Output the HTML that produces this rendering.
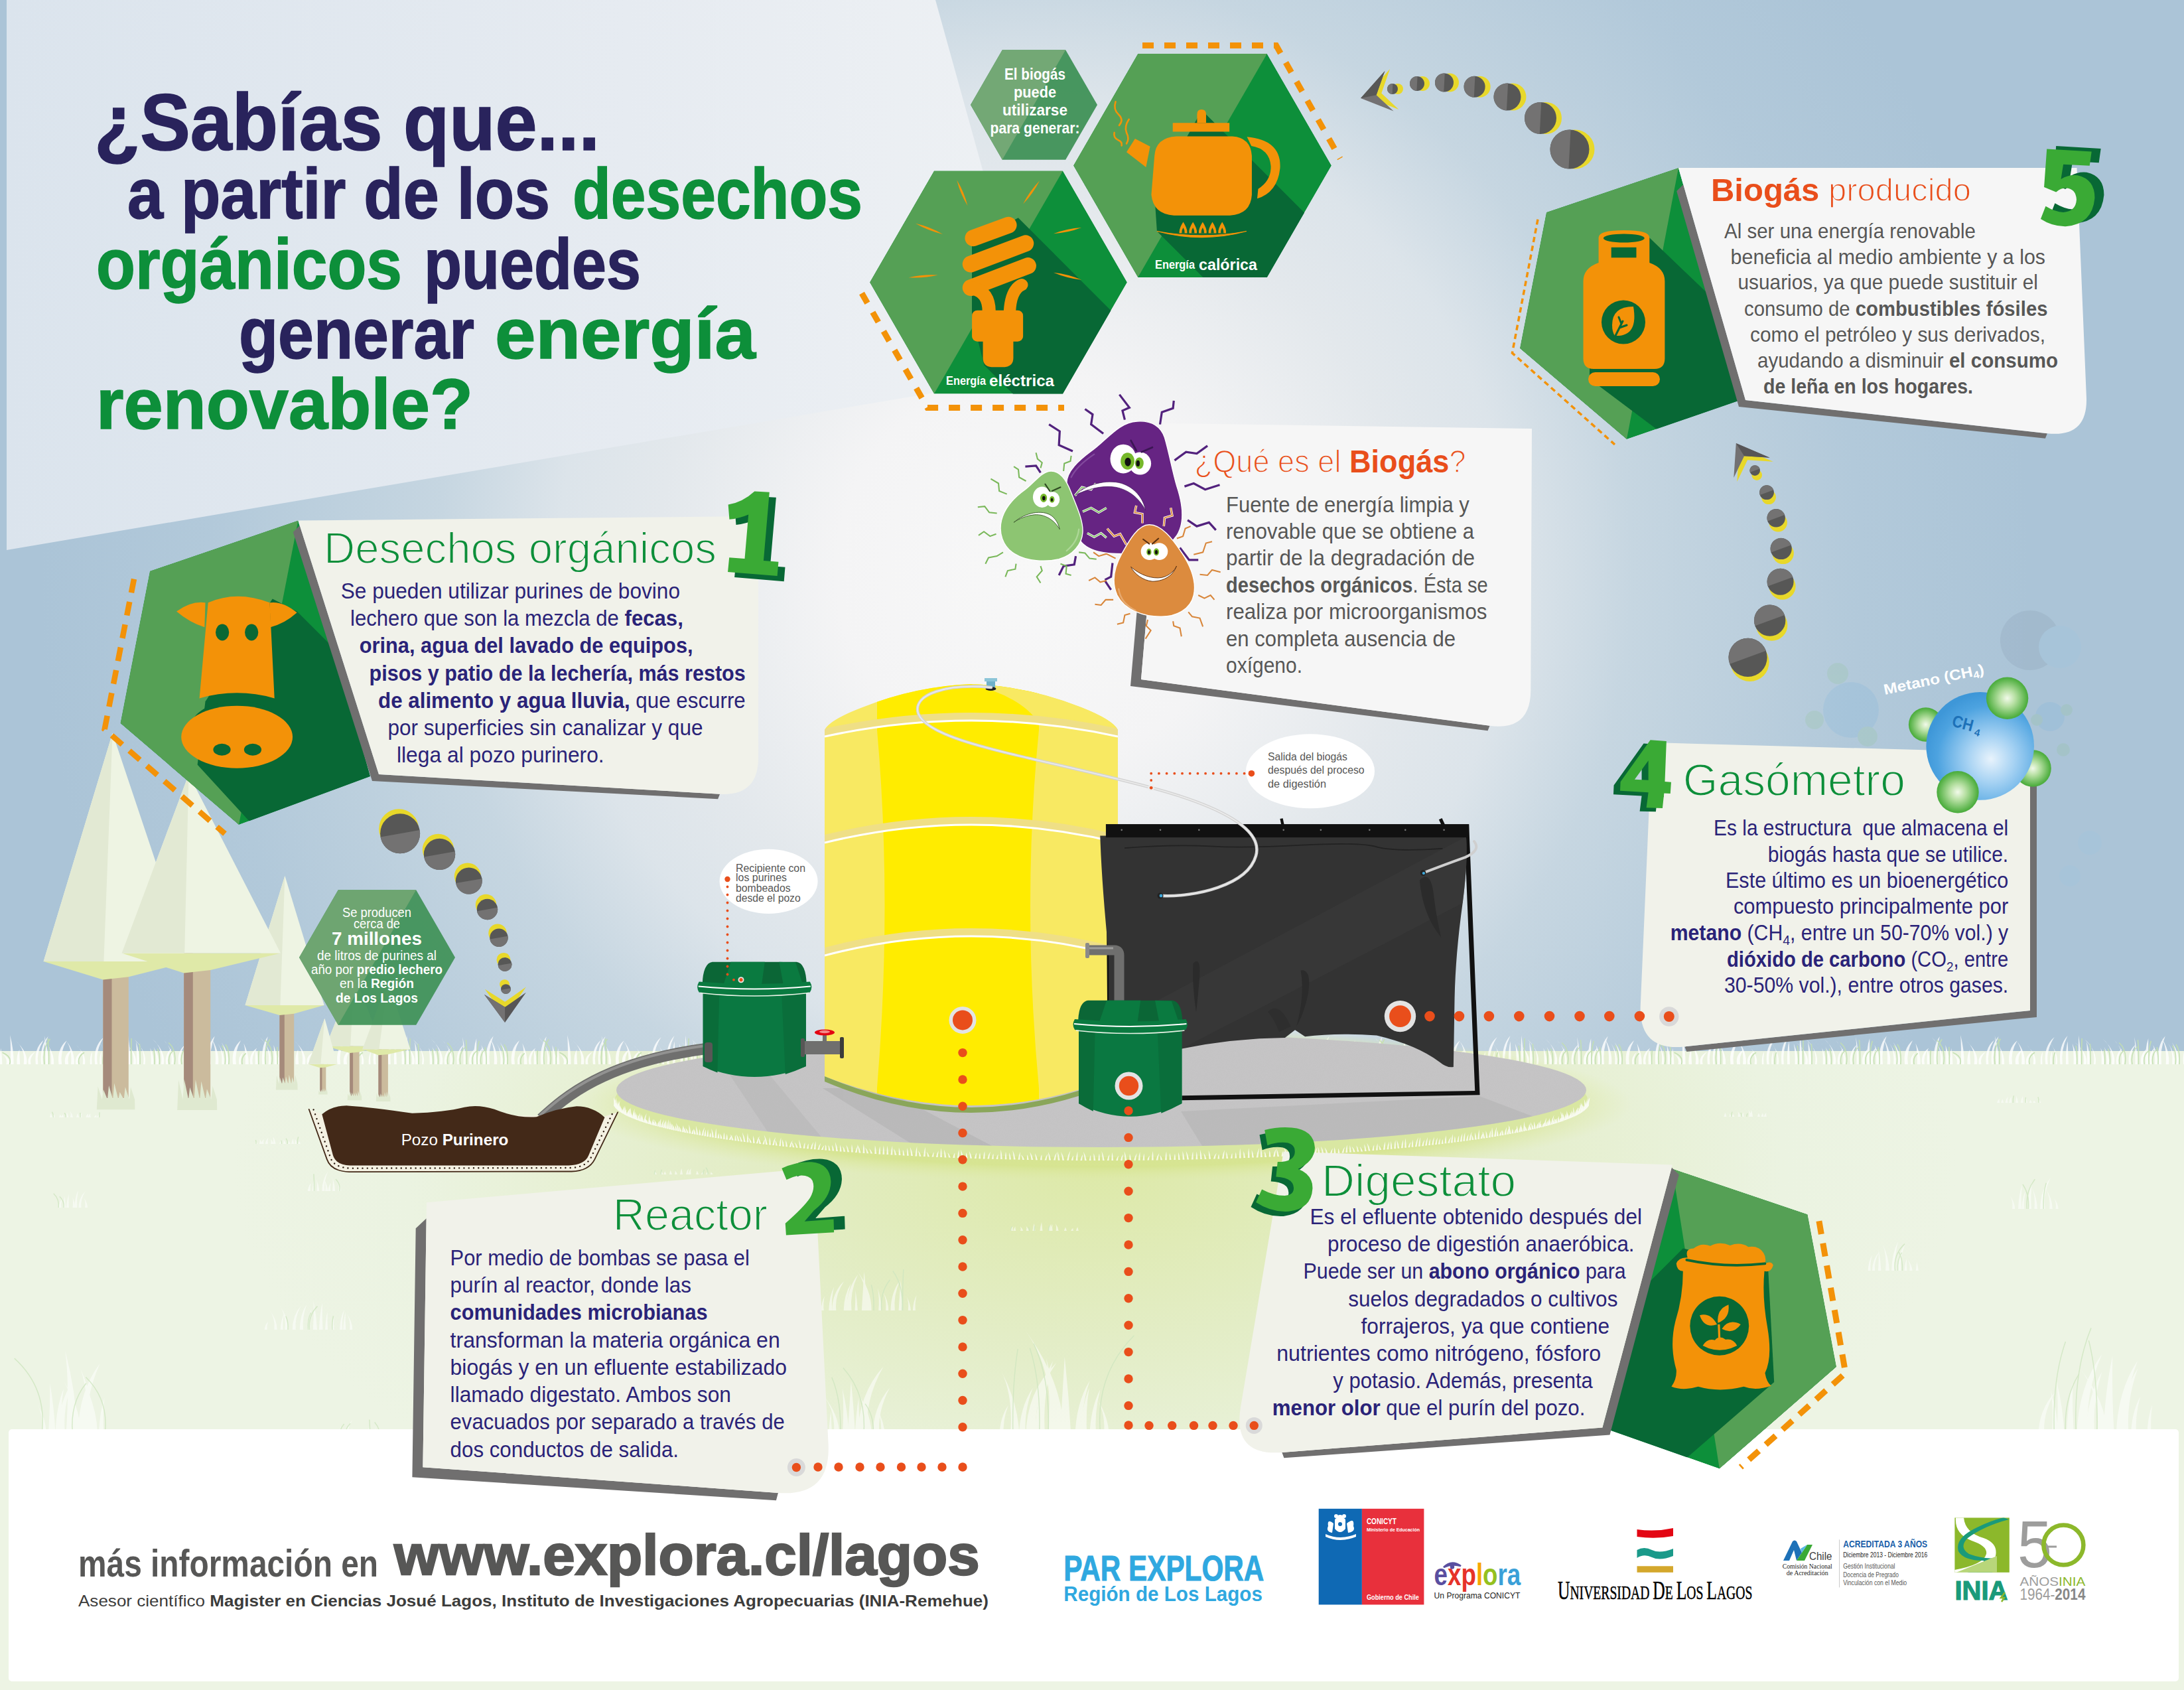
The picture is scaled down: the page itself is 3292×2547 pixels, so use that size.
<!DOCTYPE html>
<html><head><meta charset="utf-8"><title>Biogas</title>
<style>html,body{margin:0;padding:0;background:#abc4d7;}body{width:3292px;height:2547px;overflow:hidden;font-family:"Liberation Sans",sans-serif;}svg{display:block;}text{white-space:pre;}</style>
</head><body>
<svg width="3292" height="2547" viewBox="0 0 3292 2547">
<defs>
<radialGradient id="sky" gradientUnits="userSpaceOnUse" cx="1560" cy="860" r="1500">
<stop offset="0" stop-color="#f8f8f8"/><stop offset="0.2" stop-color="#f4f4f5"/><stop offset="0.38" stop-color="#e3e8ec"/><stop offset="0.48" stop-color="#dce4ea"/><stop offset="0.6" stop-color="#c6d6e1"/><stop offset="0.83" stop-color="#b2c9da"/><stop offset="1" stop-color="#abc4d7"/></radialGradient>
<radialGradient id="gglow" gradientUnits="userSpaceOnUse" cx="1650" cy="1760" r="1300" gradientTransform="translate(0,880) scale(1,0.5)">
<stop offset="0" stop-color="#dde9a8"/><stop offset="0.4" stop-color="#e3edc6"/><stop offset="0.8" stop-color="#ebf3e1"/><stop offset="1" stop-color="#edf4e4"/></radialGradient>
<linearGradient id="panel" x1="0" y1="0" x2="1" y2="0"><stop offset="0" stop-color="#dbe4ed"/><stop offset="0.6" stop-color="#e6ebf1"/><stop offset="1" stop-color="#eef1f4"/></linearGradient>
<clipPath id="hx1"><polygon points="1311.0,425.5 1408.0,257.5 1602.0,257.5 1699.0,425.5 1602.0,593.5 1408.0,593.5"/></clipPath>
<clipPath id="hx2"><polygon points="1618.0,249.5 1715.2,81.1 1909.8,81.1 2007.0,249.5 1909.8,417.9 1715.2,417.9"/></clipPath>
<clipPath id="h5"><polygon points="2530.0,253.0 2331.0,320.0 2291.0,525.0 2452.0,662.0 2629.0,601.0"/></clipPath>
<pattern id="fringe" x="0" y="1554" width="420" height="50" patternUnits="userSpaceOnUse"><g fill="#ffffff" opacity="0.8"><path d="M0.0,50 Q-0.3,34.3 1.2,25.8 Q3.1,37.9 3.4,50 Z"/><path d="M9.4,50 Q12.8,37.2 -4.3,30.3 Q17.4,40.1 14.0,50 Z"/><path d="M16.0,50 Q16.2,21.5 15.2,6.1 Q20.8,28.1 20.6,50 Z"/><path d="M25.5,50 Q24.5,35.8 29.3,28.1 Q29.2,39.0 30.2,50 Z"/><path d="M35.7,50 Q38.7,27.0 23.5,14.5 Q43.1,32.3 40.1,50 Z"/><path d="M42.8,50 Q40.2,37.8 53.0,31.2 Q43.9,40.6 46.5,50 Z"/><path d="M53.9,50 Q51.0,26.2 65.7,13.4 Q54.5,31.7 57.4,50 Z"/><path d="M62.1,50 Q59.4,22.5 72.7,7.7 Q62.1,28.8 64.8,50 Z"/><path d="M68.6,50 Q69.0,22.0 66.8,6.9 Q73.1,28.4 72.6,50 Z"/><path d="M77.1,50 Q78.2,31.8 73.0,22.0 Q82.1,36.0 81.1,50 Z"/><path d="M88.5,50 Q85.5,26.8 100.5,14.3 Q90.1,32.1 93.1,50 Z"/><path d="M98.2,50 Q95.6,35.5 108.3,27.8 Q100.5,38.9 103.1,50 Z"/><path d="M107.1,50 Q109.2,26.2 99.0,13.4 Q113.7,31.7 111.7,50 Z"/><path d="M114.1,50 Q111.7,37.2 124.0,30.4 Q116.6,40.2 119.1,50 Z"/><path d="M124.7,50 Q127.2,31.4 115.0,21.3 Q130.4,35.7 128.0,50 Z"/><path d="M135.8,50 Q135.0,37.6 139.1,30.9 Q137.7,40.4 138.5,50 Z"/><path d="M143.2,50 Q139.8,23.4 156.6,9.1 Q143.6,29.5 146.9,50 Z"/><path d="M150.3,50 Q149.6,37.0 153.1,30.0 Q152.2,40.0 152.9,50 Z"/><path d="M158.2,50 Q160.6,28.0 148.6,16.1 Q163.2,33.1 160.8,50 Z"/><path d="M165.4,50 Q162.6,22.1 176.5,7.1 Q166.1,28.5 168.8,50 Z"/><path d="M174.0,50 Q173.4,27.4 176.7,15.3 Q177.3,32.6 177.9,50 Z"/><path d="M185.6,50 Q186.1,29.7 183.7,18.8 Q190.4,34.4 189.9,50 Z"/><path d="M192.7,50 Q192.6,21.8 193.3,6.6 Q196.4,28.3 196.6,50 Z"/><path d="M200.6,50 Q204.0,28.5 187.2,16.9 Q208.0,33.5 204.7,50 Z"/><path d="M206.0,50 Q206.3,27.7 205.1,15.7 Q210.5,32.8 210.2,50 Z"/><path d="M216.0,50 Q219.3,25.8 202.6,12.8 Q222.0,31.4 218.6,50 Z"/><path d="M227.7,50 Q228.0,34.1 226.5,25.5 Q232.0,37.7 231.7,50 Z"/><path d="M235.3,50 Q236.2,33.0 231.6,23.9 Q240.2,36.9 239.3,50 Z"/><path d="M242.9,50 Q246.2,25.2 229.7,11.9 Q250.2,31.0 246.8,50 Z"/><path d="M250.1,50 Q248.0,34.5 258.6,26.2 Q251.1,38.1 253.2,50 Z"/><path d="M258.1,50 Q260.9,26.5 247.0,13.9 Q264.2,31.9 261.4,50 Z"/><path d="M269.0,50 Q266.5,30.9 278.9,20.6 Q269.4,35.3 271.9,50 Z"/><path d="M278.5,50 Q278.9,23.3 277.2,9.0 Q281.9,29.5 281.6,50 Z"/><path d="M287.2,50 Q285.1,35.1 295.8,27.0 Q289.7,38.5 291.8,50 Z"/><path d="M294.2,50 Q293.2,24.7 298.2,11.0 Q297.7,30.5 298.7,50 Z"/><path d="M300.1,50 Q298.0,33.4 308.3,24.4 Q301.2,37.2 303.3,50 Z"/><path d="M308.0,50 Q308.6,31.2 305.5,21.1 Q313.4,35.5 312.8,50 Z"/><path d="M313.0,50 Q310.4,22.4 323.7,7.5 Q315.3,28.7 318.0,50 Z"/><path d="M324.7,50 Q326.6,22.6 316.9,7.9 Q331.0,28.9 329.1,50 Z"/><path d="M334.3,50 Q335.8,29.5 328.4,18.5 Q339.2,34.3 337.7,50 Z"/><path d="M339.8,50 Q341.3,28.4 333.8,16.7 Q345.8,33.3 344.3,50 Z"/><path d="M351.1,50 Q348.2,26.6 363.0,14.0 Q352.9,32.0 355.9,50 Z"/><path d="M360.2,50 Q358.5,38.1 367.0,31.7 Q361.4,40.8 363.1,50 Z"/><path d="M369.8,50 Q370.4,29.4 367.4,18.4 Q375.3,34.2 374.7,50 Z"/><path d="M377.2,50 Q374.7,34.0 387.3,25.4 Q378.4,37.7 380.9,50 Z"/><path d="M384.7,50 Q384.4,35.0 385.6,26.9 Q389.0,38.4 389.2,50 Z"/><path d="M395.2,50 Q393.1,22.7 403.8,8.0 Q397.6,29.0 399.8,50 Z"/><path d="M404.6,50 Q407.8,23.7 392.0,9.6 Q410.9,29.8 407.8,50 Z"/><path d="M413.3,50 Q413.5,31.2 412.5,21.0 Q417.9,35.5 417.7,50 Z"/><path d="M418.7,50 Q421.3,36.2 408.2,28.7 Q424.0,39.4 421.4,50 Z"/></g><g fill="none" stroke="#c2dfb0" stroke-width="1.6" opacity="0.9"><path d="M14.4,50 Q18.5,38.2 3.5,32.3"/><path d="M67.1,50 Q63.9,24.6 75.5,11.9"/><path d="M73.6,50 Q74.1,24.1 72.1,11.2"/><path d="M119.1,50 Q116.2,38.2 127.1,32.3"/><path d="M155.3,50 Q154.5,38.0 157.6,32.0"/><path d="M190.6,50 Q191.2,31.3 189.1,21.9"/><path d="M197.7,50 Q197.5,23.9 198.2,10.9"/><path d="M211.0,50 Q211.3,29.4 210.3,19.1"/><path d="M232.7,50 Q233.1,35.3 231.8,27.9"/><path d="M240.3,50 Q241.4,34.3 237.4,26.5"/><path d="M255.1,50 Q252.5,35.7 261.9,28.6"/><path d="M263.1,50 Q266.5,28.3 254.2,17.5"/><path d="M274.0,50 Q271.0,32.4 281.9,23.5"/><path d="M283.5,50 Q283.9,25.4 282.4,13.1"/><path d="M292.2,50 Q289.7,36.2 299.1,29.3"/><path d="M299.2,50 Q298.0,26.6 302.4,14.9"/><path d="M305.1,50 Q302.6,34.6 311.7,27.0"/><path d="M313.0,50 Q313.8,32.7 311.0,24.0"/><path d="M339.3,50 Q341.1,31.1 334.6,21.7"/><path d="M344.8,50 Q346.6,30.0 340.0,20.0"/><path d="M365.2,50 Q363.1,39.0 370.7,33.5"/><path d="M389.7,50 Q389.4,36.1 390.4,29.2"/><path d="M400.2,50 Q397.6,24.8 407.1,12.2"/><path d="M409.6,50 Q413.4,25.7 399.5,13.6"/><path d="M418.3,50 Q418.5,32.6 417.7,23.9"/></g></pattern>
<clipPath id="h1"><polygon points="449.4,784.5 226.0,860.7 181.5,1090.0 360.0,1243.0 558.0,1170.0"/></clipPath>
<radialGradient id="platglow" cx="0.5" cy="0.5" r="0.5"><stop offset="0.8" stop-color="#d6e48f" stop-opacity="0.9"/><stop offset="1" stop-color="#dfeaa8" stop-opacity="0"/></radialGradient>
<filter id="grain" x="0" y="0" width="100%" height="100%"><feTurbulence type="fractalNoise" baseFrequency="0.9" numOctaves="1" seed="2" result="n"/><feColorMatrix type="matrix" values="0 0 0 0 0.45  0 0 0 0 0.45  0 0 0 0 0.45  0.5 0 0 0 -0.12" /><feComposite operator="in" in2="SourceGraphic"/></filter>
<clipPath id="platc"><ellipse cx="1660" cy="1643" rx="731" ry="86"/></clipPath>
<linearGradient id="tankg" x1="0" y1="0" x2="1" y2="0"><stop offset="0" stop-color="#f7e96a"/><stop offset="0.17" stop-color="#f9ea5e"/><stop offset="0.2" stop-color="#ffec00"/><stop offset="0.72" stop-color="#ffec00"/><stop offset="0.75" stop-color="#f9ea5e"/><stop offset="1" stop-color="#f7e96a"/></linearGradient>
<clipPath id="tankc"><path d="M1243,1100 Q1250,1085 1300,1066 Q1380,1034 1464,1031 Q1550,1034 1630,1066 Q1678,1085 1685,1100 L1685,1622 Q1464,1710 1243,1622 Z"/></clipPath>
<clipPath id="h3"><polygon points="2520.8,1761.5 2724.5,1830.2 2768.0,2060.0 2591.8,2213.4 2415.5,2151.6"/></clipPath>
<radialGradient id="bsph" cx="0.6" cy="0.62" r="0.62"><stop offset="0" stop-color="#e8f3fc"/><stop offset="0.35" stop-color="#a6d2f3"/><stop offset="0.8" stop-color="#4da3e0"/><stop offset="1" stop-color="#3e97d8"/></radialGradient>
<radialGradient id="gsph" cx="0.5" cy="0.5" r="0.55"><stop offset="0" stop-color="#f2faea"/><stop offset="0.35" stop-color="#b7e0a3"/><stop offset="0.85" stop-color="#52b043"/><stop offset="1" stop-color="#3fa535"/></radialGradient>
<clipPath id="inia"><rect x="2946.4" y="2287.4" width="82.4" height="82.4"/></clipPath>
</defs>
<rect x="0.0" y="0.0" width="3292.0" height="2547.0" fill="url(#sky)" />
<polygon points="10.0,0.0 1410.0,0.0 1567.0,565.0 10.0,829.0" fill="url(#panel)" />
<rect x="0.0" y="1584.0" width="3292.0" height="963.0" fill="url(#gglow)" />
<g fill="#ffffff" opacity="0.55">
<path d="M88.5,1820.0 Q89.0,1811.5 94.7,1805.8 Q91.2,1812.9 92.5,1820.0 Z" fill="#fff" />
<path d="M95.0,1820.0 Q95.9,1809.9 98.0,1803.1 Q98.1,1811.6 99.0,1820.0 Z" fill="#fff" />
<path d="M99.9,1820.0 Q100.8,1808.4 103.7,1800.6 Q103.0,1810.3 103.9,1820.0 Z" fill="#fff" />
<path d="M109.5,1820.0 Q110.7,1810.7 109.4,1804.5 Q112.9,1812.2 113.5,1820.0 Z" fill="#fff" />
<path d="M112.3,1820.0 Q113.0,1804.4 117.8,1794.0 Q115.2,1807.0 116.3,1820.0 Z" fill="#fff" />
<path d="M118.5,1820.0 Q118.7,1805.2 128.5,1795.4 Q120.9,1807.7 122.5,1820.0 Z" fill="#fff" />
<path d="M128.1,1820.0 Q129.4,1811.3 126.6,1805.5 Q131.6,1812.8 132.1,1820.0 Z" fill="#fff" />
</g>
<g fill="none" stroke="#cfe6c0" stroke-width="1.5" opacity="0.8">
<path d="M88.2,1820.0 Q89.7,1807.2 80.7,1798.7" fill="none" />
<path d="M96.1,1820.0 Q97.3,1810.0 89.8,1803.3" fill="none" />
</g>
<g fill="#ffffff" opacity="0.55">
<path d="M463.9,1795.0 Q464.7,1787.8 468.8,1783.0 Q466.9,1789.0 467.9,1795.0 Z" fill="#fff" />
<path d="M470.5,1795.0 Q471.5,1784.9 472.5,1778.1 Q473.7,1786.6 474.5,1795.0 Z" fill="#fff" />
<path d="M477.4,1795.0 Q478.7,1784.5 476.7,1777.4 Q480.9,1786.2 481.4,1795.0 Z" fill="#fff" />
<path d="M485.3,1795.0 Q485.6,1777.3 494.4,1765.4 Q487.9,1780.2 489.4,1795.0 Z" fill="#fff" />
<path d="M490.2,1795.0 Q491.5,1784.7 488.9,1777.8 Q493.7,1786.4 494.2,1795.0 Z" fill="#fff" />
<path d="M494.3,1795.0 Q495.1,1787.6 498.6,1782.7 Q497.3,1788.8 498.3,1795.0 Z" fill="#fff" />
<path d="M501.1,1795.0 Q502.3,1783.3 501.6,1775.5 Q504.5,1785.3 505.1,1795.0 Z" fill="#fff" />
<path d="M510.2,1795.0 Q511.7,1786.2 507.0,1780.3 Q513.9,1787.6 514.2,1795.0 Z" fill="#fff" />
</g>
<g fill="none" stroke="#cfe6c0" stroke-width="1.5" opacity="0.8">
<path d="M473.5,1795.0 Q473.6,1779.6 472.9,1769.3" fill="none" />
<path d="M512.0,1795.0 Q513.2,1784.2 505.9,1777.0" fill="none" />
</g>
<g fill="#ffffff" opacity="0.55">
<path d="M75.0,1684.0 Q76.1,1680.5 76.1,1678.1 Q78.3,1681.0 79.0,1684.0 Z" fill="#fff" />
<path d="M78.8,1684.0 Q79.6,1681.2 82.3,1679.4 Q81.8,1681.7 82.8,1684.0 Z" fill="#fff" />
<path d="M89.0,1684.0 Q90.1,1681.3 90.2,1679.5 Q92.3,1681.7 93.0,1684.0 Z" fill="#fff" />
<path d="M92.2,1684.0 Q93.1,1681.3 95.1,1679.5 Q95.3,1681.8 96.2,1684.0 Z" fill="#fff" />
<path d="M99.3,1684.0 Q100.3,1679.3 101.0,1676.2 Q102.5,1680.1 103.3,1684.0 Z" fill="#fff" />
<path d="M106.0,1684.0 Q107.3,1678.2 105.5,1674.4 Q109.5,1679.2 110.0,1684.0 Z" fill="#fff" />
<path d="M115.1,1684.0 Q116.1,1680.5 116.8,1678.1 Q118.3,1681.1 119.1,1684.0 Z" fill="#fff" />
<path d="M119.5,1684.0 Q120.3,1680.1 123.6,1677.6 Q122.5,1680.8 123.5,1684.0 Z" fill="#fff" />
<path d="M129.3,1684.0 Q130.1,1680.5 132.8,1678.2 Q132.3,1681.1 133.3,1684.0 Z" fill="#fff" />
<path d="M132.8,1684.0 Q133.6,1680.5 136.2,1678.1 Q135.8,1681.1 136.8,1684.0 Z" fill="#fff" />
<path d="M141.8,1684.0 Q142.6,1681.7 145.1,1680.2 Q144.8,1682.1 145.8,1684.0 Z" fill="#fff" />
<path d="M146.1,1684.0 Q147.1,1681.6 148.9,1679.9 Q149.3,1682.0 150.1,1684.0 Z" fill="#fff" />
</g>
<g fill="none" stroke="#cfe6c0" stroke-width="1.5" opacity="0.8">
<path d="M99.3,1684.0 Q99.8,1680.1 97.1,1677.4" fill="none" />
<path d="M80.2,1684.0 Q80.6,1679.0 78.5,1675.7" fill="none" />
<path d="M121.1,1684.0 Q121.2,1679.8 120.8,1677.0" fill="none" />
<path d="M149.7,1684.0 Q149.6,1679.4 150.2,1676.3" fill="none" />
</g>
<g fill="#ffffff" opacity="0.55">
<path d="M384.5,1724.0 Q385.5,1721.7 385.5,1720.2 Q387.7,1722.1 388.5,1724.0 Z" fill="#fff" />
<path d="M390.9,1724.0 Q392.0,1719.7 391.7,1716.9 Q394.2,1720.4 394.9,1724.0 Z" fill="#fff" />
<path d="M393.6,1724.0 Q394.4,1719.7 397.8,1716.8 Q396.6,1720.4 397.6,1724.0 Z" fill="#fff" />
<path d="M399.9,1724.0 Q400.6,1718.6 404.3,1714.9 Q402.8,1719.5 403.9,1724.0 Z" fill="#fff" />
<path d="M408.1,1724.0 Q409.3,1719.7 408.1,1716.8 Q411.5,1720.4 412.1,1724.0 Z" fill="#fff" />
<path d="M411.6,1724.0 Q412.8,1717.4 411.6,1713.1 Q415.0,1718.5 415.6,1724.0 Z" fill="#fff" />
<path d="M421.1,1724.0 Q422.0,1720.0 424.7,1717.3 Q424.2,1720.6 425.1,1724.0 Z" fill="#fff" />
<path d="M426.9,1724.0 Q428.0,1720.2 427.4,1717.6 Q430.2,1720.8 430.9,1724.0 Z" fill="#fff" />
<path d="M433.7,1724.0 Q434.8,1721.3 434.9,1719.4 Q437.0,1721.7 437.7,1724.0 Z" fill="#fff" />
<path d="M439.2,1724.0 Q440.1,1719.3 441.8,1716.1 Q442.3,1720.1 443.2,1724.0 Z" fill="#fff" />
<path d="M444.0,1724.0 Q445.2,1719.5 444.5,1716.6 Q447.4,1720.3 448.0,1724.0 Z" fill="#fff" />
<path d="M449.0,1724.0 Q450.0,1721.5 450.8,1719.8 Q452.2,1721.9 453.0,1724.0 Z" fill="#fff" />
</g>
<g fill="none" stroke="#cfe6c0" stroke-width="1.5" opacity="0.8">
<path d="M386.0,1724.0 Q386.2,1720.5 385.4,1718.1" fill="none" />
<path d="M424.4,1724.0 Q424.5,1720.6 423.8,1718.4" fill="none" />
<path d="M448.3,1724.0 Q448.1,1717.6 449.7,1713.3" fill="none" />
<path d="M433.3,1724.0 Q433.8,1719.0 431.0,1715.7" fill="none" />
</g>
<g fill="#ffffff" opacity="0.55">
<path d="M398.7,2004.0 Q399.4,1996.9 404.1,1992.1 Q401.6,1998.1 402.7,2004.0 Z" fill="#fff" />
<path d="M413.4,2004.0 Q415.5,1985.7 405.3,1973.4 Q417.8,1988.7 417.7,2004.0 Z" fill="#fff" />
<path d="M422.7,2004.0 Q423.3,1989.2 428.6,1979.3 Q425.5,1991.6 426.7,2004.0 Z" fill="#fff" />
<path d="M429.3,2004.0 Q431.7,1981.7 420.8,1966.8 Q434.5,1985.4 434.5,2004.0 Z" fill="#fff" />
<path d="M440.8,2004.0 Q441.0,1982.8 453.2,1968.6 Q443.7,1986.3 445.7,2004.0 Z" fill="#fff" />
<path d="M451.7,2004.0 Q452.3,1981.2 462.2,1966.0 Q455.2,1985.0 457.0,2004.0 Z" fill="#fff" />
<path d="M463.2,2004.0 Q463.9,1984.9 469.5,1972.2 Q466.3,1988.1 467.6,2004.0 Z" fill="#fff" />
<path d="M471.8,2004.0 Q473.6,1977.7 472.4,1960.2 Q477.0,1982.1 478.0,2004.0 Z" fill="#fff" />
<path d="M480.9,2004.0 Q482.1,1979.6 485.8,1963.4 Q485.2,1983.7 486.5,2004.0 Z" fill="#fff" />
<path d="M490.1,2004.0 Q490.9,1987.8 493.6,1977.0 Q493.1,1990.5 494.1,2004.0 Z" fill="#fff" />
<path d="M499.6,2004.0 Q500.4,1992.9 503.4,1985.5 Q502.6,1994.8 503.6,2004.0 Z" fill="#fff" />
<path d="M512.1,2004.0 Q512.6,1985.6 519.1,1973.4 Q515.0,1988.7 516.3,2004.0 Z" fill="#fff" />
<path d="M517.2,2004.0 Q518.0,1988.1 520.7,1977.6 Q520.2,1990.8 521.2,2004.0 Z" fill="#fff" />
<path d="M527.2,2004.0 Q528.9,1989.1 522.0,1979.1 Q531.1,1991.6 531.2,2004.0 Z" fill="#fff" />
</g>
<g fill="none" stroke="#cfe6c0" stroke-width="1.5" opacity="0.8">
<path d="M500.8,2004.0 Q500.4,1991.6 502.5,1983.3" fill="none" />
<path d="M464.4,2004.0 Q463.6,1988.5 468.5,1978.2" fill="none" />
<path d="M466.6,2004.0 Q464.2,1982.8 478.5,1968.6" fill="none" />
<path d="M434.0,2004.0 Q434.7,1991.8 430.8,1983.7" fill="none" />
</g>
<g fill="#ffffff" opacity="0.55">
<path d="M63.4,2160.0 Q65.9,2134.0 56.4,2116.6 Q69.3,2138.3 69.5,2160.0 Z" fill="#fff" />
<path d="M73.0,2160.0 Q75.9,2114.6 75.2,2084.4 Q81.7,2122.2 83.5,2160.0 Z" fill="#fff" />
<path d="M83.5,2160.0 Q85.0,2119.9 95.9,2093.2 Q90.2,2126.6 92.8,2160.0 Z" fill="#fff" />
<path d="M87.2,2160.0 Q88.2,2113.9 109.1,2083.1 Q94.2,2121.5 98.0,2160.0 Z" fill="#fff" />
<path d="M99.6,2160.0 Q105.0,2085.6 98.3,2036.0 Q114.5,2098.0 117.0,2160.0 Z" fill="#fff" />
<path d="M110.1,2160.0 Q114.9,2112.3 95.4,2080.4 Q121.0,2120.2 121.2,2160.0 Z" fill="#fff" />
<path d="M117.6,2160.0 Q118.7,2097.1 150.6,2055.1 Q126.8,2107.6 132.3,2160.0 Z" fill="#fff" />
<path d="M129.9,2160.0 Q134.8,2101.8 121.5,2063.1 Q142.3,2111.5 143.5,2160.0 Z" fill="#fff" />
<path d="M137.9,2160.0 Q141.1,2121.4 132.2,2095.7 Q146.1,2127.8 146.9,2160.0 Z" fill="#fff" />
<path d="M149.0,2160.0 Q150.4,2128.1 157.4,2106.8 Q154.5,2133.4 156.4,2160.0 Z" fill="#fff" />
</g>
<g fill="none" stroke="#cfe6c0" stroke-width="1.5" opacity="0.8">
<path d="M109.4,2160.0 Q105.3,2114.8 129.8,2084.7" fill="none" />
<path d="M158.2,2160.0 Q164.0,2109.3 129.4,2075.5" fill="none" />
<path d="M63.1,2160.0 Q71.4,2092.3 21.7,2047.1" fill="none" />
</g>
<g fill="#ffffff" opacity="0.55">
<path d="M474.1,2170.0 Q475.3,2161.0 474.1,2154.9 Q477.5,2162.5 478.1,2170.0 Z" fill="#fff" />
<path d="M483.9,2170.0 Q485.2,2163.7 483.2,2159.5 Q487.4,2164.8 487.9,2170.0 Z" fill="#fff" />
<path d="M490.6,2170.0 Q491.3,2163.1 495.2,2158.5 Q493.5,2164.2 494.6,2170.0 Z" fill="#fff" />
<path d="M498.2,2170.0 Q499.6,2161.4 495.6,2155.6 Q501.8,2162.8 502.2,2170.0 Z" fill="#fff" />
<path d="M510.2,2170.0 Q511.0,2157.1 514.2,2148.4 Q513.2,2159.2 514.2,2170.0 Z" fill="#fff" />
<path d="M519.4,2170.0 Q519.5,2151.8 531.3,2139.7 Q521.9,2154.8 523.7,2170.0 Z" fill="#fff" />
<path d="M528.9,2170.0 Q530.0,2158.9 530.6,2151.5 Q532.2,2160.7 532.9,2170.0 Z" fill="#fff" />
<path d="M534.4,2170.0 Q535.4,2161.4 536.1,2155.7 Q537.6,2162.8 538.4,2170.0 Z" fill="#fff" />
<path d="M547.5,2170.0 Q548.7,2161.0 547.1,2155.0 Q550.9,2162.5 551.5,2170.0 Z" fill="#fff" />
<path d="M554.0,2170.0 Q554.9,2157.3 556.3,2148.9 Q557.1,2159.4 558.0,2170.0 Z" fill="#fff" />
<path d="M565.1,2170.0 Q566.2,2158.6 565.7,2151.1 Q568.4,2160.5 569.1,2170.0 Z" fill="#fff" />
<path d="M575.6,2170.0 Q577.1,2159.4 572.5,2152.4 Q579.3,2161.2 579.6,2170.0 Z" fill="#fff" />
</g>
<g fill="none" stroke="#cfe6c0" stroke-width="1.5" opacity="0.8">
<path d="M572.6,2170.0 Q574.2,2154.0 564.7,2143.4" fill="none" />
<path d="M519.9,2170.0 Q518.3,2155.0 528.1,2145.1" fill="none" />
<path d="M511.4,2170.0 Q510.0,2155.6 518.7,2146.0" fill="none" />
<path d="M557.6,2170.0 Q557.8,2151.7 556.8,2139.5" fill="none" />
</g>
<g fill="#ffffff" opacity="0.55">
<path d="M1237.7,1975.0 Q1238.3,1962.0 1243.0,1953.3 Q1240.5,1964.2 1241.7,1975.0 Z" fill="#fff" />
<path d="M1249.3,1975.0 Q1250.0,1953.7 1257.2,1939.6 Q1252.7,1957.3 1254.3,1975.0 Z" fill="#fff" />
<path d="M1254.2,1975.0 Q1254.3,1948.5 1272.2,1930.9 Q1257.7,1953.0 1260.4,1975.0 Z" fill="#fff" />
<path d="M1271.7,1975.0 Q1272.3,1950.6 1282.9,1934.3 Q1275.5,1954.6 1277.4,1975.0 Z" fill="#fff" />
<path d="M1275.9,1975.0 Q1276.4,1942.5 1293.2,1920.9 Q1280.6,1947.9 1283.5,1975.0 Z" fill="#fff" />
<path d="M1288.5,1975.0 Q1289.7,1956.6 1289.4,1944.3 Q1292.0,1959.6 1292.8,1975.0 Z" fill="#fff" />
<path d="M1298.9,1975.0 Q1301.1,1939.5 1302.6,1915.9 Q1305.6,1945.5 1307.2,1975.0 Z" fill="#fff" />
<path d="M1305.0,1975.0 Q1309.0,1937.7 1290.4,1912.9 Q1313.8,1943.9 1313.7,1975.0 Z" fill="#fff" />
<path d="M1324.3,1975.0 Q1325.9,1954.9 1322.8,1941.5 Q1328.4,1958.3 1329.0,1975.0 Z" fill="#fff" />
<path d="M1335.2,1975.0 Q1336.9,1957.1 1329.9,1945.2 Q1339.2,1960.1 1339.3,1975.0 Z" fill="#fff" />
<path d="M1342.5,1975.0 Q1343.0,1948.2 1356.3,1930.3 Q1346.5,1952.7 1348.8,1975.0 Z" fill="#fff" />
<path d="M1354.6,1975.0 Q1356.3,1947.6 1357.6,1929.4 Q1359.8,1952.2 1361.0,1975.0 Z" fill="#fff" />
<path d="M1368.8,1975.0 Q1370.2,1962.7 1366.8,1954.6 Q1372.4,1964.8 1372.8,1975.0 Z" fill="#fff" />
<path d="M1375.9,1975.0 Q1376.5,1961.2 1381.6,1951.9 Q1378.7,1963.5 1379.9,1975.0 Z" fill="#fff" />
</g>
<g fill="none" stroke="#cfe6c0" stroke-width="1.5" opacity="0.8">
<path d="M1328.8,1975.0 Q1326.3,1947.2 1341.6,1928.7" fill="none" />
<path d="M1317.0,1975.0 Q1317.7,1951.7 1313.3,1936.1" fill="none" />
<path d="M1359.8,1975.0 Q1362.6,1939.3 1345.9,1915.5" fill="none" />
<path d="M1360.6,1975.0 Q1360.4,1937.9 1361.8,1913.1" fill="none" />
</g>
<g fill="#ffffff" opacity="0.55">
<path d="M1248.9,2165.0 Q1250.1,2141.9 1252.6,2126.6 Q1253.1,2145.8 1254.3,2165.0 Z" fill="#fff" />
<path d="M1256.6,2165.0 Q1260.9,2127.0 1240.1,2101.7 Q1265.8,2133.3 1265.5,2165.0 Z" fill="#fff" />
<path d="M1269.7,2165.0 Q1272.7,2121.5 1269.7,2092.5 Q1278.3,2128.7 1279.8,2165.0 Z" fill="#fff" />
<path d="M1277.6,2165.0 Q1280.5,2114.8 1282.9,2081.4 Q1287.0,2123.2 1289.3,2165.0 Z" fill="#fff" />
<path d="M1288.5,2165.0 Q1290.4,2130.6 1294.1,2107.6 Q1294.8,2136.3 1296.5,2165.0 Z" fill="#fff" />
<path d="M1292.9,2165.0 Q1293.5,2101.8 1331.5,2059.7 Q1301.6,2112.4 1307.7,2165.0 Z" fill="#fff" />
<path d="M1304.4,2165.0 Q1308.5,2124.0 1291.3,2096.6 Q1313.8,2130.8 1313.9,2165.0 Z" fill="#fff" />
<path d="M1315.3,2165.0 Q1315.8,2121.0 1341.0,2091.7 Q1321.5,2128.4 1325.6,2165.0 Z" fill="#fff" />
<path d="M1327.8,2165.0 Q1330.2,2139.5 1321.6,2122.5 Q1333.5,2143.7 1333.8,2165.0 Z" fill="#fff" />
</g>
<g fill="none" stroke="#cfe6c0" stroke-width="1.5" opacity="0.8">
<path d="M1301.6,2165.0 Q1307.7,2102.9 1270.9,2061.5" fill="none" />
<path d="M1316.1,2165.0 Q1318.6,2135.4 1304.1,2115.6" fill="none" />
<path d="M1266.5,2165.0 Q1269.0,2111.5 1253.8,2075.8" fill="none" />
</g>
<g fill="#ffffff" opacity="0.55">
<path d="M985.9,1770.0 Q987.0,1766.9 986.5,1764.9 Q989.2,1767.4 989.9,1770.0 Z" fill="#fff" />
<path d="M995.6,1770.0 Q996.6,1767.6 997.7,1766.0 Q998.8,1768.0 999.6,1770.0 Z" fill="#fff" />
<path d="M1000.3,1770.0 Q1001.2,1767.2 1002.4,1765.3 Q1003.4,1767.7 1004.3,1770.0 Z" fill="#fff" />
<path d="M1008.9,1770.0 Q1009.9,1766.3 1010.5,1763.8 Q1012.1,1766.9 1012.9,1770.0 Z" fill="#fff" />
<path d="M1016.9,1770.0 Q1018.0,1766.6 1017.8,1764.3 Q1020.2,1767.2 1020.9,1770.0 Z" fill="#fff" />
<path d="M1025.0,1770.0 Q1026.0,1764.4 1027.2,1760.7 Q1028.2,1765.3 1029.0,1770.0 Z" fill="#fff" />
<path d="M1033.9,1770.0 Q1034.6,1764.7 1038.1,1761.2 Q1036.8,1765.6 1037.9,1770.0 Z" fill="#fff" />
<path d="M1037.6,1770.0 Q1038.4,1764.5 1041.6,1760.8 Q1040.6,1765.4 1041.6,1770.0 Z" fill="#fff" />
<path d="M1049.2,1770.0 Q1050.2,1766.5 1050.4,1764.2 Q1052.4,1767.1 1053.2,1770.0 Z" fill="#fff" />
<path d="M1056.8,1770.0 Q1057.6,1767.2 1060.4,1765.3 Q1059.8,1767.7 1060.8,1770.0 Z" fill="#fff" />
<path d="M1064.1,1770.0 Q1065.1,1767.7 1065.4,1766.2 Q1067.3,1768.1 1068.1,1770.0 Z" fill="#fff" />
<path d="M1070.6,1770.0 Q1071.7,1767.7 1071.5,1766.2 Q1073.9,1768.1 1074.6,1770.0 Z" fill="#fff" />
</g>
<g fill="none" stroke="#cfe6c0" stroke-width="1.5" opacity="0.8">
<path d="M1059.9,1770.0 Q1059.6,1765.6 1061.6,1762.7" fill="none" />
<path d="M996.3,1770.0 Q996.1,1765.7 997.4,1762.8" fill="none" />
<path d="M986.6,1770.0 Q986.4,1766.4 987.5,1764.0" fill="none" />
<path d="M1067.0,1770.0 Q1067.7,1763.6 1063.8,1759.4" fill="none" />
</g>
<g fill="#ffffff" opacity="0.55">
<path d="M2598.5,1683.0 Q2599.5,1679.5 2600.5,1677.1 Q2601.7,1680.1 2602.5,1683.0 Z" fill="#fff" />
<path d="M2606.5,1683.0 Q2607.7,1680.3 2607.2,1678.5 Q2609.9,1680.8 2610.5,1683.0 Z" fill="#fff" />
<path d="M2610.3,1683.0 Q2611.3,1680.5 2612.4,1678.9 Q2613.5,1680.9 2614.3,1683.0 Z" fill="#fff" />
<path d="M2619.6,1683.0 Q2620.8,1678.3 2619.6,1675.2 Q2623.0,1679.1 2623.6,1683.0 Z" fill="#fff" />
<path d="M2624.7,1683.0 Q2625.6,1679.2 2628.2,1676.7 Q2627.8,1679.9 2628.7,1683.0 Z" fill="#fff" />
<path d="M2636.2,1683.0 Q2637.5,1676.7 2635.3,1672.5 Q2639.7,1677.7 2640.2,1683.0 Z" fill="#fff" />
<path d="M2638.0,1683.0 Q2639.1,1676.8 2639.8,1672.6 Q2641.3,1677.8 2642.0,1683.0 Z" fill="#fff" />
<path d="M2649.0,1683.0 Q2650.0,1679.7 2650.9,1677.4 Q2652.2,1680.2 2653.0,1683.0 Z" fill="#fff" />
<path d="M2654.6,1683.0 Q2655.5,1679.7 2657.0,1677.6 Q2657.7,1680.3 2658.6,1683.0 Z" fill="#fff" />
<path d="M2658.8,1683.0 Q2659.6,1679.4 2662.2,1677.0 Q2661.8,1680.0 2662.8,1683.0 Z" fill="#fff" />
</g>
<g fill="none" stroke="#cfe6c0" stroke-width="1.5" opacity="0.8">
<path d="M2609.7,1683.0 Q2609.4,1678.5 2611.1,1675.5" fill="none" />
<path d="M2625.4,1683.0 Q2625.7,1679.4 2623.8,1677.0" fill="none" />
<path d="M2632.9,1683.0 Q2632.6,1680.1 2634.4,1678.1" fill="none" />
</g>
<g fill="#ffffff" opacity="0.55">
<path d="M3010.2,1662.0 Q3011.0,1658.5 3013.7,1656.1 Q3013.2,1659.1 3014.2,1662.0 Z" fill="#fff" />
<path d="M3016.2,1662.0 Q3017.2,1658.8 3018.6,1656.6 Q3019.4,1659.3 3020.2,1662.0 Z" fill="#fff" />
<path d="M3022.5,1662.0 Q3023.3,1656.6 3026.4,1653.0 Q3025.5,1657.5 3026.5,1662.0 Z" fill="#fff" />
<path d="M3028.1,1662.0 Q3029.0,1656.3 3031.8,1652.5 Q3031.2,1657.2 3032.1,1662.0 Z" fill="#fff" />
<path d="M3038.1,1662.0 Q3039.1,1655.7 3039.4,1651.5 Q3041.3,1656.8 3042.1,1662.0 Z" fill="#fff" />
<path d="M3045.7,1662.0 Q3046.6,1655.8 3049.1,1651.7 Q3048.8,1656.8 3049.7,1662.0 Z" fill="#fff" />
<path d="M3052.0,1662.0 Q3053.1,1656.8 3053.4,1653.3 Q3055.3,1657.6 3056.0,1662.0 Z" fill="#fff" />
<path d="M3058.7,1662.0 Q3059.8,1659.4 3060.3,1657.7 Q3062.0,1659.8 3062.7,1662.0 Z" fill="#fff" />
<path d="M3064.3,1662.0 Q3065.4,1659.8 3066.0,1658.4 Q3067.6,1660.2 3068.3,1662.0 Z" fill="#fff" />
<path d="M3072.3,1662.0 Q3073.4,1658.8 3073.3,1656.7 Q3075.6,1659.4 3076.3,1662.0 Z" fill="#fff" />
</g>
<g fill="none" stroke="#cfe6c0" stroke-width="1.5" opacity="0.8">
<path d="M3073.1,1662.0 Q3073.4,1656.7 3072.0,1653.2" fill="none" />
<path d="M3053.2,1662.0 Q3053.1,1657.1 3053.4,1653.8" fill="none" />
<path d="M3034.3,1662.0 Q3034.0,1655.5 3035.5,1651.2" fill="none" />
</g>
<g fill="#ffffff" opacity="0.55">
<path d="M1523.1,1855.0 Q1523.8,1850.9 1527.4,1848.2 Q1526.0,1851.6 1527.1,1855.0 Z" fill="#fff" />
<path d="M1527.3,1855.0 Q1528.1,1851.0 1530.4,1848.4 Q1530.3,1851.7 1531.3,1855.0 Z" fill="#fff" />
<path d="M1538.1,1855.0 Q1539.3,1851.1 1538.1,1848.4 Q1541.5,1851.7 1542.1,1855.0 Z" fill="#fff" />
<path d="M1546.8,1855.0 Q1548.1,1850.7 1546.8,1847.9 Q1550.3,1851.4 1550.8,1855.0 Z" fill="#fff" />
<path d="M1556.4,1855.0 Q1557.4,1848.1 1558.8,1843.6 Q1559.6,1849.3 1560.4,1855.0 Z" fill="#fff" />
<path d="M1567.5,1855.0 Q1568.4,1847.1 1570.1,1841.8 Q1570.6,1848.4 1571.5,1855.0 Z" fill="#fff" />
<path d="M1580.2,1855.0 Q1581.0,1848.8 1584.5,1844.6 Q1583.2,1849.8 1584.2,1855.0 Z" fill="#fff" />
<path d="M1582.6,1855.0 Q1583.5,1849.1 1586.4,1845.1 Q1585.7,1850.1 1586.6,1855.0 Z" fill="#fff" />
<path d="M1591.6,1855.0 Q1592.8,1848.3 1590.9,1843.9 Q1595.0,1849.4 1595.6,1855.0 Z" fill="#fff" />
<path d="M1603.9,1855.0 Q1604.9,1851.7 1605.9,1849.6 Q1607.1,1852.3 1607.9,1855.0 Z" fill="#fff" />
<path d="M1614.1,1855.0 Q1614.9,1852.5 1617.4,1850.8 Q1617.1,1852.9 1618.1,1855.0 Z" fill="#fff" />
<path d="M1621.8,1855.0 Q1622.8,1851.6 1624.2,1849.3 Q1625.0,1852.1 1625.8,1855.0 Z" fill="#fff" />
</g>
<g fill="none" stroke="#cfe6c0" stroke-width="1.5" opacity="0.8">
<path d="M1559.2,1855.0 Q1559.0,1850.4 1560.2,1847.4" fill="none" />
<path d="M1580.7,1855.0 Q1580.4,1850.4 1582.0,1847.4" fill="none" />
<path d="M1551.6,1855.0 Q1551.8,1851.6 1550.4,1849.3" fill="none" />
<path d="M1523.7,1855.0 Q1523.4,1851.0 1525.1,1848.3" fill="none" />
</g>
<g fill="#ffffff" opacity="0.55">
<path d="M2815.7,1915.0 Q2816.3,1900.8 2821.8,1891.4 Q2818.5,1903.2 2819.7,1915.0 Z" fill="#fff" />
<path d="M2822.1,1915.0 Q2822.2,1897.9 2833.0,1886.6 Q2824.4,1900.8 2826.1,1915.0 Z" fill="#fff" />
<path d="M2831.0,1915.0 Q2832.2,1895.9 2831.6,1883.2 Q2834.7,1899.1 2835.4,1915.0 Z" fill="#fff" />
<path d="M2842.2,1915.0 Q2844.3,1891.3 2837.9,1875.6 Q2847.3,1895.3 2847.7,1915.0 Z" fill="#fff" />
<path d="M2851.1,1915.0 Q2852.0,1889.0 2860.9,1871.6 Q2855.3,1893.3 2857.2,1915.0 Z" fill="#fff" />
<path d="M2859.9,1915.0 Q2860.4,1891.1 2871.5,1875.2 Q2863.5,1895.1 2865.4,1915.0 Z" fill="#fff" />
<path d="M2870.5,1915.0 Q2871.4,1904.3 2874.1,1897.1 Q2873.6,1906.1 2874.5,1915.0 Z" fill="#fff" />
<path d="M2878.4,1915.0 Q2879.9,1904.7 2875.0,1897.8 Q2882.1,1906.4 2882.4,1915.0 Z" fill="#fff" />
<path d="M2887.8,1915.0 Q2888.8,1907.1 2889.2,1901.8 Q2891.0,1908.4 2891.8,1915.0 Z" fill="#fff" />
</g>
<g fill="none" stroke="#cfe6c0" stroke-width="1.5" opacity="0.8">
<path d="M2867.4,1915.0 Q2868.5,1898.1 2862.1,1886.8" fill="none" />
<path d="M2860.6,1915.0 Q2859.4,1898.5 2866.7,1887.6" fill="none" />
<path d="M2856.5,1915.0 Q2853.5,1890.7 2871.1,1874.6" fill="none" />
</g>
<g fill="#ffffff" opacity="0.55">
<path d="M3033.2,1822.0 Q3034.8,1810.1 3029.9,1802.2 Q3037.0,1812.1 3037.2,1822.0 Z" fill="#fff" />
<path d="M3042.1,1822.0 Q3043.0,1800.2 3047.8,1785.7 Q3045.8,1803.9 3047.2,1822.0 Z" fill="#fff" />
<path d="M3047.4,1822.0 Q3048.0,1805.9 3052.9,1795.2 Q3050.2,1808.6 3051.4,1822.0 Z" fill="#fff" />
<path d="M3056.3,1822.0 Q3057.3,1797.8 3062.9,1781.6 Q3060.4,1801.8 3061.9,1822.0 Z" fill="#fff" />
<path d="M3066.5,1822.0 Q3068.1,1803.1 3063.2,1790.6 Q3070.6,1806.3 3070.9,1822.0 Z" fill="#fff" />
<path d="M3075.2,1822.0 Q3075.6,1793.8 3091.0,1775.0 Q3079.3,1798.5 3081.8,1822.0 Z" fill="#fff" />
<path d="M3078.6,1822.0 Q3080.0,1808.1 3076.9,1798.9 Q3082.2,1810.5 3082.6,1822.0 Z" fill="#fff" />
<path d="M3089.3,1822.0 Q3091.3,1803.2 3082.8,1790.6 Q3093.7,1806.3 3093.7,1822.0 Z" fill="#fff" />
<path d="M3098.6,1822.0 Q3100.1,1812.4 3096.0,1806.0 Q3102.3,1814.0 3102.6,1822.0 Z" fill="#fff" />
</g>
<g fill="none" stroke="#cfe6c0" stroke-width="1.5" opacity="0.8">
<path d="M3080.2,1822.0 Q3079.4,1798.5 3084.3,1782.8" fill="none" />
<path d="M3057.5,1822.0 Q3059.2,1799.8 3048.9,1784.9" fill="none" />
<path d="M3055.3,1822.0 Q3052.9,1795.1 3067.4,1777.2" fill="none" />
</g>
<g fill="#ffffff" opacity="0.55">
<path d="M1506.4,2165.0 Q1507.0,2136.9 1519.8,2118.1 Q1510.6,2141.6 1513.0,2165.0 Z" fill="#fff" />
<path d="M1522.7,2165.0 Q1528.0,2106.6 1509.9,2067.6 Q1535.5,2116.3 1536.3,2165.0 Z" fill="#fff" />
<path d="M1535.9,2165.0 Q1536.9,2121.1 1556.9,2091.8 Q1542.5,2128.4 1546.2,2165.0 Z" fill="#fff" />
<path d="M1546.4,2165.0 Q1546.5,2098.2 1592.3,2053.7 Q1555.0,2109.4 1562.0,2165.0 Z" fill="#fff" />
<path d="M1559.5,2165.0 Q1561.5,2096.7 1587.1,2051.2 Q1570.3,2108.1 1575.4,2165.0 Z" fill="#fff" />
<path d="M1579.5,2165.0 Q1584.7,2094.0 1576.9,2046.7 Q1593.8,2105.9 1596.0,2165.0 Z" fill="#fff" />
<path d="M1581.2,2165.0 Q1591.6,2068.6 1545.1,2004.4 Q1603.9,2084.7 1603.7,2165.0 Z" fill="#fff" />
<path d="M1597.6,2165.0 Q1602.0,2092.8 1604.8,2044.7 Q1611.2,2104.9 1614.5,2165.0 Z" fill="#fff" />
<path d="M1620.5,2165.0 Q1621.8,2114.6 1642.6,2080.9 Q1628.3,2123.0 1632.3,2165.0 Z" fill="#fff" />
<path d="M1628.3,2165.0 Q1630.1,2120.9 1641.8,2091.6 Q1635.7,2128.3 1638.6,2165.0 Z" fill="#fff" />
<path d="M1642.3,2165.0 Q1643.7,2122.4 1658.4,2094.0 Q1649.1,2129.5 1652.2,2165.0 Z" fill="#fff" />
<path d="M1663.8,2165.0 Q1667.2,2131.0 1653.6,2108.4 Q1671.6,2136.7 1671.7,2165.0 Z" fill="#fff" />
</g>
<g fill="none" stroke="#cfe6c0" stroke-width="1.5" opacity="0.8">
<path d="M1566.5,2165.0 Q1569.4,2084.9 1552.3,2031.5" fill="none" />
<path d="M1526.9,2165.0 Q1525.4,2085.8 1534.2,2032.9" fill="none" />
<path d="M1659.1,2165.0 Q1649.0,2073.7 1709.4,2012.8" fill="none" />
<path d="M1579.8,2165.0 Q1584.2,2080.8 1557.9,2024.7" fill="none" />
</g>
<g fill="#ffffff" opacity="0.55">
<path d="M3072.4,2165.0 Q3072.7,2125.2 3097.2,2098.7 Q3077.8,2131.9 3081.7,2165.0 Z" fill="#fff" />
<path d="M3092.7,2165.0 Q3095.9,2122.3 3090.8,2093.9 Q3101.4,2129.4 3102.7,2165.0 Z" fill="#fff" />
<path d="M3100.0,2165.0 Q3103.6,2114.3 3099.7,2080.5 Q3110.1,2122.8 3111.8,2165.0 Z" fill="#fff" />
<path d="M3114.6,2165.0 Q3117.1,2116.3 3123.9,2083.9 Q3123.4,2124.5 3126.0,2165.0 Z" fill="#fff" />
<path d="M3130.4,2165.0 Q3131.9,2090.7 3168.3,2041.1 Q3141.4,2103.1 3147.8,2165.0 Z" fill="#fff" />
<path d="M3143.8,2165.0 Q3145.5,2106.5 3168.3,2067.5 Q3153.0,2116.3 3157.5,2165.0 Z" fill="#fff" />
<path d="M3161.1,2165.0 Q3168.2,2102.3 3133.5,2060.5 Q3176.3,2112.8 3175.7,2165.0 Z" fill="#fff" />
<path d="M3169.9,2165.0 Q3173.6,2092.2 3184.2,2043.7 Q3183.0,2104.3 3186.9,2165.0 Z" fill="#fff" />
<path d="M3189.7,2165.0 Q3191.3,2096.5 3222.0,2050.9 Q3200.1,2107.9 3205.7,2165.0 Z" fill="#fff" />
<path d="M3194.4,2165.0 Q3196.0,2103.3 3222.4,2062.2 Q3203.9,2113.6 3208.8,2165.0 Z" fill="#fff" />
<path d="M3211.8,2165.0 Q3212.9,2128.9 3226.0,2104.9 Q3217.6,2134.9 3220.2,2165.0 Z" fill="#fff" />
<path d="M3236.1,2165.0 Q3237.3,2136.3 3243.9,2117.2 Q3241.0,2141.1 3242.8,2165.0 Z" fill="#fff" />
</g>
<g fill="none" stroke="#cfe6c0" stroke-width="1.5" opacity="0.8">
<path d="M3096.5,2165.0 Q3093.1,2079.2 3113.5,2022.0" fill="none" />
<path d="M3113.7,2165.0 Q3109.7,2108.4 3133.8,2070.6" fill="none" />
<path d="M3160.7,2165.0 Q3163.1,2078.2 3148.4,2020.3" fill="none" />
<path d="M3129.4,2165.0 Q3124.9,2066.9 3152.0,2001.4" fill="none" />
</g>
<text x="142.0" y="226.0" font-family="Liberation Sans, sans-serif" font-size="121.0" fill="#29235c" font-weight="bold" text-anchor="start" textLength="762.0" lengthAdjust="spacingAndGlyphs" stroke="#29235c" stroke-width="1.6">¿Sabías que...</text>
<text x="192.0" y="329.0" font-family="Liberation Sans, sans-serif" font-size="107.0" fill="#29235c" font-weight="bold" text-anchor="start" textLength="637.0" lengthAdjust="spacingAndGlyphs" stroke="#29235c" stroke-width="1.6">a partir de los</text>
<text x="863.0" y="329.0" font-family="Liberation Sans, sans-serif" font-size="107.0" fill="#0d8f3a" font-weight="bold" text-anchor="start" textLength="437.0" lengthAdjust="spacingAndGlyphs" stroke="#0d8f3a" stroke-width="1.6">desechos</text>
<text x="145.0" y="435.0" font-family="Liberation Sans, sans-serif" font-size="107.0" fill="#0d8f3a" font-weight="bold" text-anchor="start" textLength="461.0" lengthAdjust="spacingAndGlyphs" stroke="#0d8f3a" stroke-width="1.6">orgánicos</text>
<text x="639.0" y="435.0" font-family="Liberation Sans, sans-serif" font-size="107.0" fill="#29235c" font-weight="bold" text-anchor="start" textLength="327.0" lengthAdjust="spacingAndGlyphs" stroke="#29235c" stroke-width="1.6">puedes</text>
<text x="360.0" y="540.0" font-family="Liberation Sans, sans-serif" font-size="107.0" fill="#29235c" font-weight="bold" text-anchor="start" textLength="355.0" lengthAdjust="spacingAndGlyphs" stroke="#29235c" stroke-width="1.6">generar</text>
<text x="746.0" y="540.0" font-family="Liberation Sans, sans-serif" font-size="107.0" fill="#0d8f3a" font-weight="bold" text-anchor="start" textLength="393.0" lengthAdjust="spacingAndGlyphs" stroke="#0d8f3a" stroke-width="1.6">energía</text>
<text x="145.0" y="646.0" font-family="Liberation Sans, sans-serif" font-size="107.0" fill="#0d8f3a" font-weight="bold" text-anchor="start" textLength="568.0" lengthAdjust="spacingAndGlyphs" stroke="#0d8f3a" stroke-width="1.6">renovable?</text>
<polygon points="1463.0,158.0 1510.8,75.3 1606.2,75.3 1654.0,158.0 1606.2,240.7 1510.8,240.7" fill="#3f9157" opacity="0.95"/>
<polygon points="1463.0,158.0 1510.8,75.3 1606.2,75.3 1510.8,240.7" fill="#73a875" />
<text x="1560.0" y="120.0" font-family="Liberation Sans, sans-serif" font-size="23.0" fill="#fff" font-weight="bold" text-anchor="middle" textLength="92.0" lengthAdjust="spacingAndGlyphs" >El biogás</text>
<text x="1560.0" y="147.0" font-family="Liberation Sans, sans-serif" font-size="23.0" fill="#fff" font-weight="bold" text-anchor="middle" textLength="64.0" lengthAdjust="spacingAndGlyphs" >puede</text>
<text x="1560.0" y="174.0" font-family="Liberation Sans, sans-serif" font-size="23.0" fill="#fff" font-weight="bold" text-anchor="middle" textLength="98.0" lengthAdjust="spacingAndGlyphs" >utilizarse</text>
<text x="1560.0" y="201.0" font-family="Liberation Sans, sans-serif" font-size="23.0" fill="#fff" font-weight="bold" text-anchor="middle" textLength="135.0" lengthAdjust="spacingAndGlyphs" >para generar:</text>
<g clip-path="url(#hx1)">
<polygon points="1311.0,425.5 1408.0,257.5 1602.0,257.5 1699.0,425.5 1602.0,593.5 1408.0,593.5" fill="#0d8f3a" />
<polygon points="1311.0,425.5 1408.0,257.5 1602.0,257.5 1408.0,593.5" fill="#55a055" />
<polygon points="1534.8,328.3 1703.5,497.0 1703.5,623.6 1556.8,623.6 1483.4,550.3 1465.0,476.9 1465.0,366.8" fill="#086835" />
</g>
<g clip-path="url(#hx2)">
<polygon points="1618.0,249.5 1715.2,81.1 1909.8,81.1 2007.0,249.5 1909.8,417.9 1715.2,417.9" fill="#0d8f3a" />
<polygon points="1618.0,249.5 1715.2,81.1 1909.8,81.1 1715.2,417.9" fill="#55a055" />
<polygon points="1811.7,165.8 1818.0,172.4 1997.0,351.4 1997.0,440.2 1835.6,440.2 1743.9,348.5 1740.2,293.5" fill="#086835" />
</g>
<path d="M1722,68.6 L1923.6,68.6 L2020,239" fill="none" stroke="#f39208" stroke-width="9" stroke-dasharray="17 16"/>
<path d="M1299,442 L1398,614.5 L1604,614.5" fill="none" stroke="#f39208" stroke-width="9" stroke-dasharray="17 16"/>
<text x="1426.0" y="580.0" font-family="Liberation Sans, sans-serif" font-size="18.0" fill="#fff" font-weight="bold" text-anchor="start" textLength="60.0" lengthAdjust="spacingAndGlyphs" >Energía</text>
<text x="1491.0" y="582.0" font-family="Liberation Sans, sans-serif" font-size="24.0" fill="#fff" font-weight="bold" text-anchor="start" textLength="98.0" lengthAdjust="spacingAndGlyphs" >eléctrica</text>
<text x="1741.0" y="405.0" font-family="Liberation Sans, sans-serif" font-size="18.0" fill="#fff" font-weight="bold" text-anchor="start" textLength="60.0" lengthAdjust="spacingAndGlyphs" >Energía</text>
<text x="1807.0" y="407.0" font-family="Liberation Sans, sans-serif" font-size="24.0" fill="#fff" font-weight="bold" text-anchor="start" textLength="88.0" lengthAdjust="spacingAndGlyphs" >calórica</text>
<circle cx="2107.0" cy="134.0" r="8.0" fill="#e8d82a" />
<circle cx="2099.0" cy="134.0" r="8.0" fill="#575756" />
<path d="M2091.0,134.0 A8.0,8.0 0 0 1 2107.0,134.0 Z" fill="#737272" transform="rotate(-87.0 2099.0 134.0)"/>
<circle cx="2144.0" cy="126.0" r="11.0" fill="#e8d82a" />
<circle cx="2136.0" cy="126.0" r="11.0" fill="#575756" />
<path d="M2125.0,126.0 A11.0,11.0 0 0 1 2147.0,126.0 Z" fill="#737272" transform="rotate(-87.0 2136.0 126.0)"/>
<circle cx="2185.0" cy="124.5" r="14.0" fill="#e8d82a" />
<circle cx="2177.0" cy="124.5" r="14.0" fill="#575756" />
<path d="M2163.0,124.5 A14.0,14.0 0 0 1 2191.0,124.5 Z" fill="#737272" transform="rotate(-87.0 2177.0 124.5)"/>
<circle cx="2230.6" cy="130.7" r="16.0" fill="#e8d82a" />
<circle cx="2222.6" cy="130.7" r="16.0" fill="#575756" />
<path d="M2206.6,130.7 A16.0,16.0 0 0 1 2238.6,130.7 Z" fill="#737272" transform="rotate(-87.0 2222.6 130.7)"/>
<circle cx="2280.0" cy="146.0" r="20.5" fill="#e8d82a" />
<circle cx="2272.0" cy="146.0" r="20.5" fill="#575756" />
<path d="M2251.5,146.0 A20.5,20.5 0 0 1 2292.5,146.0 Z" fill="#737272" transform="rotate(-87.0 2272.0 146.0)"/>
<circle cx="2330.0" cy="178.0" r="24.0" fill="#e8d82a" />
<circle cx="2322.0" cy="178.0" r="24.0" fill="#575756" />
<path d="M2298.0,178.0 A24.0,24.0 0 0 1 2346.0,178.0 Z" fill="#737272" transform="rotate(-87.0 2322.0 178.0)"/>
<circle cx="2374.0" cy="225.0" r="29.5" fill="#e8d82a" />
<circle cx="2366.0" cy="225.0" r="29.5" fill="#575756" />
<path d="M2336.5,225.0 A29.5,29.5 0 0 1 2395.5,225.0 Z" fill="#737272" transform="rotate(-87.0 2366.0 225.0)"/>
<polygon points="2059.0,145.5 2095.0,104.0 2082.3,140.5 2108.3,165.0" fill="#e8d82a" />
<polygon points="2051.0,148.0 2087.4,107.0 2074.6,143.2 2100.6,167.5" fill="#737172" />
<polygon points="2051.0,148.0 2087.4,107.0 2074.6,143.2" fill="#575756" />
<g clip-path="url(#h5)">
<polygon points="2530.0,253.0 2331.0,320.0 2291.0,525.0 2452.0,662.0 2629.0,601.0" fill="#0d8f3a" />
<polygon points="2530.0,253.0 2331.0,320.0 2291.0,525.0 2452.0,662.0" fill="#55a055" />
<polygon points="2486.0,358.0 2700.0,563.0 2700.0,700.0 2520.0,664.0 2396.0,571.0 2396.0,420.0" fill="#086835" />
</g>
<path d="M2318,330.6 L2279.4,532 L2434,670" fill="none" stroke="#f39208" stroke-width="3.5" stroke-dasharray="8 5.5"/>
<g fill="#f39208">
<path d="M2409.6,358 Q2409.6,347 2448,347 Q2486.3,347 2486.3,358 L2486.3,396 Q2509.4,404 2509.4,424 L2509.4,540 Q2509.4,556 2494,556 L2402,556 Q2386.5,556 2386.5,540 L2386.5,424 Q2386.5,404 2409.6,396 Z" fill="#f39208" />
<rect x="2394.0" y="561.0" width="108.0" height="21.0" fill="#f39208" rx="10.5"/>
</g>
<ellipse cx="2447.8" cy="359.0" rx="31.0" ry="6.6" fill="#086835" />
<rect x="2428.7" y="372.8" width="37.8" height="15.5" fill="#086835" />
<circle cx="2447.0" cy="485.4" r="33.0" fill="#086835" />
<path d="M2462,462 Q2430,462 2430,490 Q2430,500 2434,506 Q2470,508 2462,462 Z" fill="#f39208" />
<path d="M2434,508 L2446,484 M2441,494 L2452,490 M2444,488 L2440,478" fill="none" stroke="#086835" stroke-width="3" stroke-linecap="round"/>
<polygon points="2537.2,278.0 2527.2,288.0 2621.0,613.0 3082.9,660.7 3085.9,653.2 2631.0,603.0" fill="#706f6f" />
<path d="M2530.0,253.0 L3130.5,253.0 L3144.9,598.1 Q3147.5,660.0 3085.9,653.2 L2631.0,603.0 Z" fill="#f6f6f6" />
<text x="2579" y="303" font-family="Liberation Sans, sans-serif" font-size="49" fill="#e94e1b" textLength="392" lengthAdjust="spacingAndGlyphs"><tspan font-weight="bold">Biogás</tspan><tspan stroke="#f6f6f6" stroke-width="1.5"> producido</tspan></text>
<text x="2599.0" y="358.7" font-family="Liberation Sans, sans-serif" font-size="31.5" fill="#575756" font-weight="normal" text-anchor="start" textLength="379.0" lengthAdjust="spacingAndGlyphs" >Al ser una energía renovable</text>
<text x="2608.6" y="397.5" font-family="Liberation Sans, sans-serif" font-size="31.5" fill="#575756" font-weight="normal" text-anchor="start" textLength="474.4" lengthAdjust="spacingAndGlyphs" >beneficia al medio ambiente y a los</text>
<text x="2619.5" y="436.0" font-family="Liberation Sans, sans-serif" font-size="31.5" fill="#575756" font-weight="normal" text-anchor="start" textLength="452.5" lengthAdjust="spacingAndGlyphs" >usuarios, ya que puede sustituir el</text>
<text x="2629.0" y="475.6" font-family="Liberation Sans, sans-serif" font-size="31.5" fill="#575756" font-weight="normal" text-anchor="start" textLength="457.5" lengthAdjust="spacingAndGlyphs" >consumo de <tspan font-weight="bold">combustibles fósiles</tspan></text>
<text x="2638.0" y="515.0" font-family="Liberation Sans, sans-serif" font-size="31.5" fill="#575756" font-weight="normal" text-anchor="start" textLength="445.0" lengthAdjust="spacingAndGlyphs" >como el petróleo y sus derivados,</text>
<text x="2649.0" y="553.7" font-family="Liberation Sans, sans-serif" font-size="31.5" fill="#575756" font-weight="normal" text-anchor="start" textLength="453.0" lengthAdjust="spacingAndGlyphs" >ayudando a disminuir <tspan font-weight="bold">el consumo</tspan></text>
<text x="2658.0" y="593.0" font-family="Liberation Sans, sans-serif" font-size="31.5" fill="#575756" font-weight="normal" text-anchor="start" textLength="316.0" lengthAdjust="spacingAndGlyphs" ><tspan font-weight="bold">de leña en los hogares.</tspan></text>
<circle cx="2648.2" cy="716.1" r="7.8" fill="#e8d82a" />
<circle cx="2645.2" cy="709.1" r="7.8" fill="#575756" />
<path d="M2637.4,709.1 A7.8,7.8 0 0 1 2653.0,709.1 Z" fill="#737272" transform="rotate(-20.0 2645.2 709.1)"/>
<circle cx="2666.0" cy="749.2" r="10.9" fill="#e8d82a" />
<circle cx="2663.0" cy="742.2" r="10.9" fill="#575756" />
<path d="M2652.1,742.2 A10.9,10.9 0 0 1 2673.9,742.2 Z" fill="#737272" transform="rotate(-20.0 2663.0 742.2)"/>
<circle cx="2680.2" cy="787.8" r="13.7" fill="#e8d82a" />
<circle cx="2677.2" cy="780.8" r="13.7" fill="#575756" />
<path d="M2663.5,780.8 A13.7,13.7 0 0 1 2690.9,780.8 Z" fill="#737272" transform="rotate(-20.0 2677.2 780.8)"/>
<circle cx="2687.7" cy="834.0" r="16.1" fill="#e8d82a" />
<circle cx="2684.7" cy="827.0" r="16.1" fill="#575756" />
<path d="M2668.6,827.0 A16.1,16.1 0 0 1 2700.8,827.0 Z" fill="#737272" transform="rotate(-20.0 2684.7 827.0)"/>
<circle cx="2686.6" cy="883.7" r="20.0" fill="#e8d82a" />
<circle cx="2683.6" cy="876.7" r="20.0" fill="#575756" />
<path d="M2663.6,876.7 A20.0,20.0 0 0 1 2703.6,876.7 Z" fill="#737272" transform="rotate(-20.0 2683.6 876.7)"/>
<circle cx="2670.7" cy="942.1" r="23.7" fill="#e8d82a" />
<circle cx="2667.7" cy="935.1" r="23.7" fill="#575756" />
<path d="M2644.0,935.1 A23.7,23.7 0 0 1 2691.4,935.1 Z" fill="#737272" transform="rotate(-20.0 2667.7 935.1)"/>
<circle cx="2637.6" cy="997.8" r="29.1" fill="#e8d82a" />
<circle cx="2634.6" cy="990.8" r="29.1" fill="#575756" />
<path d="M2605.5,990.8 A29.1,29.1 0 0 1 2663.7,990.8 Z" fill="#737272" transform="rotate(-20.0 2634.6 990.8)"/>
<polygon points="2621.8,673.9 2672.7,695.7 2634.1,693.3 2618.3,726.0" fill="#e8d82a" />
<polygon points="2616.8,667.9 2667.7,689.7 2629.1,687.3 2613.3,720.0" fill="#737172" />
<polygon points="2616.8,667.9 2667.7,689.7 2629.1,687.3" fill="#575556" />
<polygon points="1749.6,677.9 1733.6,687.9 1704.0,1034.0 2242.5,1101.3 2245.5,1093.8 1720.0,1024.0" fill="#706f6f" />
<path d="M1753.0,638.0 L2309.0,646.0 L2307.3,1040.0 Q2307.0,1102.0 2245.5,1093.8 L1720.0,1024.0 Z" fill="#f6f6f6" />
<text x="1800.6" y="712" font-family="Liberation Sans, sans-serif" font-size="49" fill="#e94e1b" textLength="409" lengthAdjust="spacingAndGlyphs"><tspan stroke="#f6f6f6" stroke-width="1.5">¿Qué es el </tspan><tspan font-weight="bold">Biogás</tspan><tspan stroke="#f6f6f6" stroke-width="1.5">?</tspan></text>
<text x="1848.0" y="771.6" font-family="Liberation Sans, sans-serif" font-size="32.5" fill="#575756" font-weight="normal" text-anchor="start" textLength="366.7" lengthAdjust="spacingAndGlyphs" >Fuente de energía limpia y</text>
<text x="1848.0" y="812.0" font-family="Liberation Sans, sans-serif" font-size="32.5" fill="#575756" font-weight="normal" text-anchor="start" textLength="374.0" lengthAdjust="spacingAndGlyphs" >renovable que se obtiene a</text>
<text x="1848.0" y="852.4" font-family="Liberation Sans, sans-serif" font-size="32.5" fill="#575756" font-weight="normal" text-anchor="start" textLength="375.0" lengthAdjust="spacingAndGlyphs" >partir de la degradación de</text>
<text x="1848.0" y="892.8" font-family="Liberation Sans, sans-serif" font-size="32.5" fill="#575756" font-weight="normal" text-anchor="start" textLength="394.7" lengthAdjust="spacingAndGlyphs" ><tspan font-weight="bold">desechos orgánicos</tspan>. Ésta se</text>
<text x="1848.0" y="933.2" font-family="Liberation Sans, sans-serif" font-size="32.5" fill="#575756" font-weight="normal" text-anchor="start" textLength="393.5" lengthAdjust="spacingAndGlyphs" >realiza por microorganismos</text>
<text x="1848.0" y="973.6" font-family="Liberation Sans, sans-serif" font-size="32.5" fill="#575756" font-weight="normal" text-anchor="start" textLength="346.0" lengthAdjust="spacingAndGlyphs" >en completa ausencia de</text>
<text x="1848.0" y="1014.0" font-family="Liberation Sans, sans-serif" font-size="32.5" fill="#575756" font-weight="normal" text-anchor="start" textLength="115.0" lengthAdjust="spacingAndGlyphs" >oxígeno.</text>
<g transform="translate(1460,590) scale(0.23081)">
<polyline points="985.0,20.0 1050.0,105.0 1005.0,125.0 1020.0,185.0" fill="none" stroke="#52227d" stroke-width="14.0" stroke-linejoin="miter" />
<polyline points="1340.0,60.0 1335.0,110.0 1262.0,135.0 1250.0,215.0" fill="none" stroke="#52227d" stroke-width="14.0" stroke-linejoin="miter" />
<polyline points="760.0,115.0 810.0,150.0 800.0,215.0 880.0,275.0" fill="none" stroke="#52227d" stroke-width="14.0" stroke-linejoin="miter" />
<polyline points="525.0,215.0 595.0,260.0 590.0,350.0 680.0,390.0" fill="none" stroke="#52227d" stroke-width="14.0" stroke-linejoin="miter" />
<polyline points="370.0,490.0 440.0,485.0 470.0,530.0" fill="none" stroke="#52227d" stroke-width="14.0" stroke-linejoin="miter" />
<polyline points="1345.0,450.0 1420.0,395.0 1490.0,405.0 1560.0,355.0" fill="none" stroke="#52227d" stroke-width="14.0" stroke-linejoin="miter" />
<polyline points="1410.0,620.0 1470.0,600.0 1545.0,640.0 1640.0,610.0" fill="none" stroke="#52227d" stroke-width="14.0" stroke-linejoin="miter" />
<polyline points="1430.0,840.0 1490.0,880.0 1570.0,855.0 1615.0,905.0" fill="none" stroke="#52227d" stroke-width="14.0" stroke-linejoin="miter" />
<polyline points="1380.0,1020.0 1440.0,1100.0 1500.0,1100.0" fill="none" stroke="#52227d" stroke-width="14.0" stroke-linejoin="miter" />
<polyline points="590.0,1200.0 620.0,1140.0 690.0,1130.0 700.0,1075.0" fill="none" stroke="#52227d" stroke-width="14.0" stroke-linejoin="miter" />
<polyline points="890.0,1230.0 930.0,1210.0 940.0,1120.0" fill="none" stroke="#52227d" stroke-width="14.0" stroke-linejoin="miter" />
<polyline points="890.0,1235.0 930.0,1295.0" fill="none" stroke="#52227d" stroke-width="14.0" stroke-linejoin="miter" />
<polyline points="440.0,400.0 450.0,440.0 480.0,465.0 470.0,500.0" fill="none" stroke="#7ab85a" stroke-width="9.0" stroke-linejoin="miter" />
<polyline points="670.0,420.0 665.0,455.0 625.0,470.0 620.0,520.0" fill="none" stroke="#7ab85a" stroke-width="9.0" stroke-linejoin="miter" />
<polyline points="295.0,490.0 325.0,510.0 330.0,560.0 375.0,585.0" fill="none" stroke="#7ab85a" stroke-width="9.0" stroke-linejoin="miter" />
<polyline points="145.0,570.0 195.0,600.0 200.0,650.0 250.0,670.0" fill="none" stroke="#7ab85a" stroke-width="9.0" stroke-linejoin="miter" />
<polyline points="60.0,755.0 105.0,750.0 135.0,790.0 185.0,795.0" fill="none" stroke="#7ab85a" stroke-width="9.0" stroke-linejoin="miter" />
<polyline points="65.0,940.0 100.0,915.0 140.0,945.0 180.0,930.0" fill="none" stroke="#7ab85a" stroke-width="9.0" stroke-linejoin="miter" />
<polyline points="110.0,1125.0 130.0,1085.0 185.0,1075.0 225.0,1050.0" fill="none" stroke="#7ab85a" stroke-width="9.0" stroke-linejoin="miter" />
<polyline points="240.0,1210.0 255.0,1170.0 305.0,1160.0 310.0,1125.0" fill="none" stroke="#7ab85a" stroke-width="9.0" stroke-linejoin="miter" />
<polyline points="470.0,1250.0 445.0,1210.0 480.0,1170.0 470.0,1140.0" fill="none" stroke="#7ab85a" stroke-width="9.0" stroke-linejoin="miter" />
<polyline points="720.0,1050.0 760.0,1055.0 790.0,1090.0 835.0,1095.0" fill="none" stroke="#7ab85a" stroke-width="9.0" stroke-linejoin="miter" />
<polyline points="600.0,1125.0 640.0,1140.0 635.0,1190.0 670.0,1200.0" fill="none" stroke="#7ab85a" stroke-width="9.0" stroke-linejoin="miter" />
<polyline points="1450.0,880.0 1415.0,895.0 1400.0,945.0 1360.0,960.0" fill="none" stroke="#d8863a" stroke-width="9.0" stroke-linejoin="miter" />
<polyline points="1590.0,980.0 1550.0,990.0 1530.0,1050.0 1470.0,1065.0" fill="none" stroke="#d8863a" stroke-width="9.0" stroke-linejoin="miter" />
<polyline points="1645.0,1180.0 1590.0,1165.0 1560.0,1200.0 1510.0,1195.0" fill="none" stroke="#d8863a" stroke-width="9.0" stroke-linejoin="miter" />
<polyline points="1605.0,1360.0 1580.0,1330.0 1540.0,1350.0 1500.0,1330.0" fill="none" stroke="#d8863a" stroke-width="9.0" stroke-linejoin="miter" />
<polyline points="1530.0,1535.0 1510.0,1480.0 1460.0,1470.0 1435.0,1440.0" fill="none" stroke="#d8863a" stroke-width="9.0" stroke-linejoin="miter" />
<polyline points="1390.0,1600.0 1380.0,1545.0 1340.0,1530.0 1335.0,1500.0" fill="none" stroke="#d8863a" stroke-width="9.0" stroke-linejoin="miter" />
<polyline points="1155.0,1615.0 1190.0,1560.0 1160.0,1530.0 1170.0,1490.0" fill="none" stroke="#d8863a" stroke-width="9.0" stroke-linejoin="miter" />
<polyline points="970.0,1520.0 1010.0,1510.0 1020.0,1460.0 1055.0,1450.0" fill="none" stroke="#d8863a" stroke-width="9.0" stroke-linejoin="miter" />
<polyline points="825.0,1390.0 865.0,1395.0 895.0,1360.0 945.0,1360.0" fill="none" stroke="#d8863a" stroke-width="9.0" stroke-linejoin="miter" />
<polyline points="785.0,1235.0 825.0,1215.0 860.0,1245.0 900.0,1235.0" fill="none" stroke="#d8863a" stroke-width="9.0" stroke-linejoin="miter" />
<polyline points="815.0,1050.0 850.0,1075.0 900.0,1060.0 960.0,1090.0" fill="none" stroke="#d8863a" stroke-width="9.0" stroke-linejoin="miter" />
<path d="M1100,195 C1180,190 1250,215 1280,300 C1310,400 1330,520 1360,620 C1400,740 1410,860 1360,940 C1310,1020 1180,1060 1040,1060 C900,1062 770,1050 720,960 C670,870 640,700 640,600 C640,520 720,450 800,390 C900,320 980,200 1100,195 Z" fill="#662483" stroke="#fff" stroke-width="6"/>
<path d="M670,560 C700,500 760,450 820,410" fill="none" stroke="#8d5aa8" stroke-width="10" stroke-linecap="round" opacity="0.7"/>
<polyline points="695.0,680.0 740.0,625.0 800.0,640.0 830.0,600.0" fill="none" stroke="#fff" stroke-width="15.0" stroke-linejoin="miter" />
<polyline points="695.0,680.0 740.0,625.0 800.0,640.0 830.0,600.0" fill="none" stroke="#8dc572" stroke-width="8.0" stroke-linejoin="miter" />
<polyline points="745.0,785.0 800.0,760.0 850.0,790.0 900.0,760.0" fill="none" stroke="#fff" stroke-width="15.0" stroke-linejoin="miter" />
<polyline points="745.0,785.0 800.0,760.0 850.0,790.0 900.0,760.0" fill="none" stroke="#8dc572" stroke-width="8.0" stroke-linejoin="miter" />
<polyline points="775.0,925.0 820.0,950.0 865.0,925.0 900.0,955.0" fill="none" stroke="#fff" stroke-width="15.0" stroke-linejoin="miter" />
<polyline points="775.0,925.0 820.0,950.0 865.0,925.0 900.0,955.0" fill="none" stroke="#8dc572" stroke-width="8.0" stroke-linejoin="miter" />
<polyline points="905.0,895.0 950.0,945.0 990.0,930.0 1030.0,1000.0" fill="none" stroke="#fff" stroke-width="15.0" stroke-linejoin="miter" />
<polyline points="905.0,895.0 950.0,945.0 990.0,930.0 1030.0,1000.0" fill="none" stroke="#dc8b3e" stroke-width="8.0" stroke-linejoin="miter" />
<polyline points="1095.0,745.0 1085.0,790.0 1135.0,800.0 1135.0,860.0" fill="none" stroke="#fff" stroke-width="15.0" stroke-linejoin="miter" />
<polyline points="1095.0,745.0 1085.0,790.0 1135.0,800.0 1135.0,860.0" fill="none" stroke="#dc8b3e" stroke-width="8.0" stroke-linejoin="miter" />
<polyline points="1320.0,760.0 1330.0,810.0 1280.0,825.0 1275.0,880.0" fill="none" stroke="#fff" stroke-width="15.0" stroke-linejoin="miter" />
<polyline points="1320.0,760.0 1330.0,810.0 1280.0,825.0 1275.0,880.0" fill="none" stroke="#dc8b3e" stroke-width="8.0" stroke-linejoin="miter" />
<ellipse cx="1010.0" cy="440.0" rx="85.0" ry="95.0" fill="#fff" />
<ellipse cx="1120.0" cy="470.0" rx="72.0" ry="74.0" fill="#fff" />
<ellipse cx="1038.0" cy="455.0" rx="45.0" ry="55.0" fill="#76b82a" />
<ellipse cx="1040.0" cy="460.0" rx="20.0" ry="28.0" fill="#111" />
<ellipse cx="1115.0" cy="468.0" rx="28.0" ry="38.0" fill="#76b82a" />
<ellipse cx="1106.0" cy="470.0" rx="12.0" ry="20.0" fill="#111" />
<path d="M1060,320 L1095,385 M1130,395 L1200,365" fill="none" stroke="#3b1654" stroke-width="12" stroke-linecap="round"/>
<path d="M700,675 C760,610 900,570 1000,600 C1090,630 1140,700 1155,775 C1110,690 1040,640 960,625 C870,610 770,640 700,675 Z" fill="#fff" stroke="#3b1654" stroke-width="3"/>
<path d="M540,520 C600,520 640,580 670,660 C700,740 750,840 745,920 C740,1000 680,1070 590,1095 C500,1115 380,1110 300,1060 C220,1010 195,920 215,840 C235,760 300,690 370,640 C430,595 480,518 540,520 Z" fill="#8dc572" stroke="#fff" stroke-width="6"/>
<path d="M640,1040 C690,1000 715,950 720,900" fill="none" stroke="#b5dba0" stroke-width="10" stroke-linecap="round" opacity="0.8"/>
<ellipse cx="480.0" cy="690.0" rx="60.0" ry="68.0" fill="#fff" />
<ellipse cx="550.0" cy="705.0" rx="45.0" ry="50.0" fill="#fff" />
<ellipse cx="490.0" cy="695.0" rx="22.0" ry="28.0" fill="#76b82a" />
<ellipse cx="491.0" cy="697.0" rx="10.0" ry="15.0" fill="#111" />
<ellipse cx="545.0" cy="705.0" rx="16.0" ry="22.0" fill="#76b82a" />
<ellipse cx="544.0" cy="707.0" rx="7.0" ry="12.0" fill="#111" />
<path d="M500,605 L530,650 M545,650 L600,625" fill="none" stroke="#2f4a22" stroke-width="9" stroke-linecap="round"/>
<path d="M295,855 C370,790 480,770 540,810 C580,840 590,880 595,900 C560,840 500,800 430,805 C380,810 330,830 295,855 Z" fill="#fff" stroke="#3d5c2c" stroke-width="4" stroke-linejoin="round"/>
<path d="M1180,870 C1260,870 1330,960 1390,1050 C1450,1140 1490,1240 1470,1330 C1450,1420 1360,1470 1260,1470 C1150,1472 1020,1430 970,1330 C930,1240 950,1150 1000,1060 C1040,990 1100,870 1180,870 Z" fill="#dc8b3e" stroke="#fff" stroke-width="6"/>
<path d="M980,1290 C990,1360 1030,1400 1090,1430" fill="none" stroke="#eab27c" stroke-width="10" stroke-linecap="round" opacity="0.8"/>
<ellipse cx="1182.0" cy="1045.0" rx="57.0" ry="56.0" fill="#fff" />
<ellipse cx="1245.0" cy="1045.0" rx="56.0" ry="56.0" fill="#fff" />
<ellipse cx="1178.0" cy="1048.0" rx="16.0" ry="22.0" fill="#76b82a" />
<ellipse cx="1178.0" cy="1050.0" rx="8.0" ry="13.0" fill="#111" />
<ellipse cx="1226.0" cy="1048.0" rx="18.0" ry="24.0" fill="#76b82a" />
<ellipse cx="1226.0" cy="1050.0" rx="9.0" ry="14.0" fill="#111" />
<path d="M1140,965 L1180,995 M1200,995 L1240,960" fill="none" stroke="#5a3010" stroke-width="9" stroke-linecap="round"/>
<path d="M1060,1145 C1120,1200 1200,1225 1260,1215 C1310,1205 1345,1170 1358,1140 C1330,1215 1260,1240 1200,1240 C1140,1235 1080,1190 1060,1145 Z" fill="#fff" stroke="#5a3010" stroke-width="4" stroke-linejoin="round"/>
</g>
<rect x="0.0" y="1554.0" width="3292.0" height="50.0" fill="url(#fringe)" />
<rect x="527.2" y="1576.5" width="14.4" height="75.3" fill="#cbbb9d" />
<rect x="527.2" y="1576.5" width="4.9" height="75.3" fill="#a58a7b" />
<polygon points="491.3,1576.5 575.9,1576.5 541.6,1585.5 527.2,1587.1" fill="#dfe9a8" />
<polygon points="534.0,1470.0 575.9,1576.5 491.3,1576.5" fill="#eef4e3" />
<polygon points="534.0,1470.0 528.2,1576.5 491.3,1576.5" fill="#e2e9d3" />
<polygon points="523.6,1658.3 524.3,1648.2 526.6,1652.5 527.4,1644.9 529.7,1652.5 530.5,1646.4 532.8,1652.5 533.5,1646.4 535.8,1652.5 536.6,1646.1 538.9,1652.5 539.7,1643.8 542.0,1652.5 542.8,1644.3 545.1,1652.5 545.2,1658.3" fill="#dfe9d0" />
<rect x="570.4" y="1581.3" width="14.5" height="72.1" fill="#cbbb9d" />
<rect x="570.4" y="1581.3" width="4.9" height="72.1" fill="#a58a7b" />
<polygon points="546.4,1581.3 618.5,1581.3 584.9,1589.0 570.4,1590.3" fill="#dfe9a8" />
<polygon points="585.0,1478.0 618.5,1581.3 546.4,1581.3" fill="#eef4e3" />
<polygon points="585.0,1478.0 571.4,1581.3 546.4,1581.3" fill="#e2e9d3" />
<polygon points="566.8,1659.9 567.5,1647.6 569.8,1654.1 570.6,1649.0 572.9,1654.1 573.7,1647.9 576.0,1654.1 576.8,1649.5 579.1,1654.1 579.9,1646.1 582.2,1654.1 583.0,1644.8 585.3,1654.1 586.1,1647.5 588.4,1654.1 588.5,1659.9" fill="#dfe9d0" />
<rect x="482.3" y="1603.7" width="9.0" height="41.7" fill="#cbbb9d" />
<rect x="482.3" y="1603.7" width="3.1" height="41.7" fill="#a58a7b" />
<polygon points="464.7,1603.7 508.6,1603.7 491.3,1608.4 482.3,1609.2" fill="#dfe9a8" />
<polygon points="489.4,1534.8 508.6,1603.7 464.7,1603.7" fill="#eef4e3" />
<polygon points="489.4,1534.8 483.3,1603.7 464.7,1603.7" fill="#e2e9d3" />
<polygon points="480.1,1649.5 480.5,1643.2 481.9,1645.9 482.4,1642.7 483.8,1645.9 484.3,1641.8 485.8,1645.9 486.3,1640.6 487.7,1645.9 488.2,1639.7 489.6,1645.9 490.1,1641.7 491.6,1645.9 492.0,1639.6 493.5,1645.9 493.6,1649.5" fill="#dfe9d0" />
<rect x="421.4" y="1515.0" width="21.8" height="117.6" fill="#cbbb9d" />
<rect x="421.4" y="1515.0" width="7.4" height="117.6" fill="#a58a7b" />
<polygon points="369.5,1515.0 488.7,1515.0 443.2,1527.7 421.4,1529.9" fill="#dfe9a8" />
<polygon points="429.4,1320.0 488.7,1515.0 369.5,1515.0" fill="#eef4e3" />
<polygon points="429.4,1320.0 422.4,1515.0 369.5,1515.0" fill="#e2e9d3" />
<polygon points="415.9,1642.4 417.0,1620.8 420.5,1633.7 421.6,1623.1 425.1,1633.7 426.3,1623.8 429.8,1633.7 431.0,1622.3 434.5,1633.7 435.7,1619.8 439.2,1633.7 440.3,1623.2 443.8,1633.7 445.0,1619.9 448.5,1633.7 448.6,1642.4" fill="#dfe9d0" />
<rect x="155.4" y="1449.0" width="38.4" height="206.0" fill="#cbbb9d" />
<rect x="155.4" y="1449.0" width="13.1" height="206.0" fill="#a58a7b" />
<polygon points="65.6,1449.0 285.0,1449.0 193.8,1472.3 155.4,1476.4" fill="#dfe9a8" />
<polygon points="169.6,1104.8 285.0,1449.0 65.6,1449.0" fill="#eef4e3" />
<polygon points="169.6,1104.8 156.4,1449.0 65.6,1449.0" fill="#e2e9d3" />
<polygon points="145.8,1672.3 147.6,1637.6 153.8,1656.9 155.8,1642.1 162.0,1656.9 164.1,1636.0 170.2,1656.9 172.3,1632.6 178.4,1656.9 180.5,1645.8 186.7,1656.9 188.8,1638.3 194.9,1656.9 197.0,1638.3 203.1,1656.9 203.4,1672.3" fill="#dfe9d0" />
<rect x="277.2" y="1436.5" width="40.0" height="218.5" fill="#cbbb9d" />
<rect x="277.2" y="1436.5" width="13.6" height="218.5" fill="#a58a7b" />
<polygon points="183.6,1436.5 423.0,1436.5 317.2,1461.9 277.2,1466.4" fill="#dfe9a8" />
<polygon points="284.5,1167.0 423.0,1436.5 183.6,1436.5" fill="#eef4e3" />
<polygon points="284.5,1167.0 278.2,1436.5 183.6,1436.5" fill="#e2e9d3" />
<polygon points="267.2,1673.0 269.1,1627.6 275.5,1657.0 277.7,1626.4 284.1,1657.0 286.2,1638.8 292.6,1657.0 294.8,1627.2 301.2,1657.0 303.4,1629.6 309.8,1657.0 311.9,1641.2 318.3,1657.0 320.5,1636.8 326.9,1657.0 327.2,1673.0" fill="#dfe9d0" />
<polygon points="451.0,1443.0 509.8,1341.2 627.2,1341.2 686.0,1443.0 627.2,1544.8 509.8,1544.8" fill="#3f9157" opacity="0.93"/>
<polygon points="451.0,1443.0 509.8,1341.2 627.2,1341.2 509.8,1544.8" fill="#6fa571" opacity="0.96"/>
<text x="568.0" y="1381.5" font-family="Liberation Sans, sans-serif" font-size="19.5" fill="#fff" font-weight="normal" text-anchor="middle" textLength="104.0" lengthAdjust="spacingAndGlyphs" >Se producen</text>
<text x="568.0" y="1399.4" font-family="Liberation Sans, sans-serif" font-size="19.5" fill="#fff" font-weight="normal" text-anchor="middle" textLength="70.0" lengthAdjust="spacingAndGlyphs" >cerca de</text>
<text x="568.0" y="1424.0" font-family="Liberation Sans, sans-serif" font-size="27.0" fill="#fff" font-weight="bold" text-anchor="middle" textLength="136.0" lengthAdjust="spacingAndGlyphs" >7 millones</text>
<text x="568.0" y="1447.0" font-family="Liberation Sans, sans-serif" font-size="19.5" fill="#fff" font-weight="normal" text-anchor="middle" textLength="180.0" lengthAdjust="spacingAndGlyphs" >de litros de purines al</text>
<text x="568" y="1468" font-family="Liberation Sans, sans-serif" font-size="19.5" fill="#fff" text-anchor="middle" textLength="198" lengthAdjust="spacingAndGlyphs">año por <tspan font-weight="bold">predio lechero</tspan></text>
<text x="568" y="1489" font-family="Liberation Sans, sans-serif" font-size="19.5" fill="#fff" text-anchor="middle" textLength="112" lengthAdjust="spacingAndGlyphs">en la <tspan font-weight="bold">Región</tspan></text>
<text x="568.0" y="1511.0" font-family="Liberation Sans, sans-serif" font-size="20.5" fill="#fff" font-weight="bold" text-anchor="middle" textLength="124.0" lengthAdjust="spacingAndGlyphs" >de Los Lagos</text>
<g clip-path="url(#h1)">
<polygon points="449.4,784.5 226.0,860.7 181.5,1090.0 360.0,1243.0 558.0,1170.0" fill="#0d8f3a" />
<polygon points="449.4,784.5 226.0,860.7 181.5,1090.0 360.0,1243.0" fill="#55a055" />
<g transform="translate(0,700) scale(0.59524)">
<polygon points="690.0,340.0 752.0,372.0 1050.0,670.0 1050.0,1000.0 720.0,1000.0 500.0,760.0 520.0,600.0" fill="#086835" />
</g></g>
<path d="M202,872.6 L157.7,1099 L339,1256.5" fill="none" stroke="#f39208" stroke-width="8.5" stroke-dasharray="21 14"/>
<g transform="translate(0,700) scale(0.59524)">
<path d="M447,372 Q485,345 520,350 L518,412 Q480,400 447,372 Z" fill="#f39208" />
<path d="M752,375 Q715,345 683,350 L685,412 Q722,402 752,375 Z" fill="#f39208" />
<path d="M527,350 Q600,318 683,350 L695,592 Q600,565 505,592 Z" fill="#f39208" />
<ellipse cx="600.0" cy="668.0" rx="118.0" ry="70.0" fill="#086835" />
<ellipse cx="600.0" cy="690.0" rx="141.0" ry="79.0" fill="#f39208" />
<ellipse cx="563.0" cy="425.0" rx="17.0" ry="21.0" fill="#086835" />
<ellipse cx="637.0" cy="425.0" rx="17.0" ry="21.0" fill="#086835" />
<ellipse cx="562.0" cy="722.0" rx="22.0" ry="15.0" fill="#086835" />
<ellipse cx="640.0" cy="722.0" rx="22.0" ry="15.0" fill="#086835" />
</g>
<polygon points="451.8,792.1 441.8,802.1 561.0,1177.0 1082.1,1204.2 1085.1,1196.7 571.0,1167.0" fill="#706f6f" />
<path d="M449.4,784.5 L1143.0,778.0 L1143.0,1142.0 Q1143.0,1200.0 1085.1,1196.7 L571.0,1167.0 Z" fill="#f1f2ea" />
<text x="488.0" y="848.8" font-family="Liberation Sans, sans-serif" font-size="66.0" fill="#0d8f3a" font-weight="normal" text-anchor="start" textLength="592.0" lengthAdjust="spacingAndGlyphs" stroke="#f1f2ea" stroke-width="1.8">Desechos orgánicos</text>
<text x="513.7" y="902.4" font-family="Liberation Sans, sans-serif" font-size="32.5" fill="#2a2378" font-weight="normal" text-anchor="start" textLength="511.3" lengthAdjust="spacingAndGlyphs" >Se pueden utilizar purines de bovino</text>
<text x="528.0" y="943.3" font-family="Liberation Sans, sans-serif" font-size="32.5" fill="#2a2378" font-weight="normal" text-anchor="start" textLength="501.8" lengthAdjust="spacingAndGlyphs" >lechero que son la mezcla de <tspan font-weight="bold">fecas,</tspan></text>
<text x="541.7" y="984.4" font-family="Liberation Sans, sans-serif" font-size="32.5" fill="#2a2378" font-weight="normal" text-anchor="start" textLength="502.9" lengthAdjust="spacingAndGlyphs" ><tspan font-weight="bold">orina, agua del lavado de equipos,</tspan></text>
<text x="556.5" y="1025.6" font-family="Liberation Sans, sans-serif" font-size="32.5" fill="#2a2378" font-weight="normal" text-anchor="start" textLength="567.3" lengthAdjust="spacingAndGlyphs" ><tspan font-weight="bold">pisos y patio de la lechería, más restos</tspan></text>
<text x="570.0" y="1066.7" font-family="Liberation Sans, sans-serif" font-size="32.5" fill="#2a2378" font-weight="normal" text-anchor="start" textLength="553.8" lengthAdjust="spacingAndGlyphs" ><tspan font-weight="bold">de alimento y agua lluvia,</tspan> que escurre</text>
<text x="584.5" y="1107.9" font-family="Liberation Sans, sans-serif" font-size="32.5" fill="#2a2378" font-weight="normal" text-anchor="start" textLength="475.0" lengthAdjust="spacingAndGlyphs" >por superficies sin canalizar y que</text>
<text x="598.0" y="1149.2" font-family="Liberation Sans, sans-serif" font-size="32.5" fill="#2a2378" font-weight="normal" text-anchor="start" textLength="312.7" lengthAdjust="spacingAndGlyphs" >llega al pozo purinero.</text>
<circle cx="601.1" cy="1249.2" r="30.0" fill="#e8d82a" />
<circle cx="603.1" cy="1256.2" r="30.0" fill="#575756" />
<path d="M573.1,1256.2 A30.0,30.0 0 0 1 633.1,1256.2 Z" fill="#737272" transform="rotate(170.0 603.1 1256.2)"/>
<circle cx="660.5" cy="1280.4" r="23.7" fill="#e8d82a" />
<circle cx="662.5" cy="1287.4" r="23.7" fill="#575756" />
<path d="M638.8,1287.4 A23.7,23.7 0 0 1 686.2,1287.4 Z" fill="#737272" transform="rotate(170.0 662.5 1287.4)"/>
<circle cx="704.8" cy="1320.6" r="20.0" fill="#e8d82a" />
<circle cx="706.8" cy="1327.6" r="20.0" fill="#575756" />
<path d="M686.8,1327.6 A20.0,20.0 0 0 1 726.8,1327.6 Z" fill="#737272" transform="rotate(170.0 706.8 1327.6)"/>
<circle cx="732.5" cy="1363.5" r="15.7" fill="#e8d82a" />
<circle cx="734.5" cy="1370.5" r="15.7" fill="#575756" />
<path d="M718.8,1370.5 A15.7,15.7 0 0 1 750.2,1370.5 Z" fill="#737272" transform="rotate(170.0 734.5 1370.5)"/>
<circle cx="750.0" cy="1406.2" r="13.7" fill="#e8d82a" />
<circle cx="752.0" cy="1413.2" r="13.7" fill="#575756" />
<path d="M738.3,1413.2 A13.7,13.7 0 0 1 765.7,1413.2 Z" fill="#737272" transform="rotate(170.0 752.0 1413.2)"/>
<circle cx="759.0" cy="1446.4" r="10.5" fill="#e8d82a" />
<circle cx="761.0" cy="1453.4" r="10.5" fill="#575756" />
<path d="M750.5,1453.4 A10.5,10.5 0 0 1 771.5,1453.4 Z" fill="#737272" transform="rotate(170.0 761.0 1453.4)"/>
<circle cx="760.5" cy="1483.6" r="7.4" fill="#e8d82a" />
<circle cx="762.5" cy="1490.6" r="7.4" fill="#575756" />
<path d="M755.1,1490.6 A7.4,7.4 0 0 1 769.9,1490.6 Z" fill="#737272" transform="rotate(170.0 762.5 1490.6)"/>
<polygon points="730.9,1490.7 761.1,1509.8 792.9,1487.6 761.1,1533.0" fill="#e8d82a" />
<polygon points="729.9,1498.7 761.1,1517.8 792.9,1495.7 761.1,1541.0" fill="#575556" />
<polygon points="729.9,1498.7 761.1,1517.8 761.1,1541.0" fill="#737172" />
<ellipse cx="1660.0" cy="1664.0" rx="800.0" ry="118.0" fill="url(#platglow)" />
<ellipse cx="1660.0" cy="1657.0" rx="733.0" ry="87.0" fill="#d9e7a2" />
<g fill="#fff" opacity="0.8">
<path d="M2392.1,1666.5 Q2393.1,1659.5 2395.5,1654.5 Q2395.1,1659.5 2394.9,1666.5 Z" fill="#fff" />
<path d="M2391.7,1667.3 Q2393.2,1659.6 2396.6,1654.0 Q2395.2,1659.6 2394.5,1667.3 Z" fill="#fff" />
<path d="M2391.2,1668.1 Q2392.6,1660.7 2396.0,1655.2 Q2394.6,1660.7 2394.0,1668.1 Z" fill="#fff" />
<path d="M2390.6,1668.9 Q2390.9,1664.3 2391.7,1661.7 Q2392.9,1664.3 2393.4,1668.9 Z" fill="#fff" />
<path d="M2390.0,1669.7 Q2390.7,1661.5 2392.6,1655.2 Q2392.7,1661.5 2392.8,1669.7 Z" fill="#fff" />
<path d="M2389.3,1670.5 Q2388.7,1662.4 2387.6,1656.3 Q2390.7,1662.4 2392.1,1670.5 Z" fill="#fff" />
<path d="M2388.5,1671.3 Q2388.3,1665.0 2387.9,1660.6 Q2390.3,1665.0 2391.3,1671.3 Z" fill="#fff" />
<path d="M2387.7,1672.1 Q2388.3,1665.5 2389.7,1660.8 Q2390.3,1665.5 2390.5,1672.1 Z" fill="#fff" />
<path d="M2386.8,1672.9 Q2386.5,1668.4 2385.9,1665.8 Q2388.5,1668.4 2389.6,1672.9 Z" fill="#fff" />
<path d="M2385.9,1673.7 Q2387.3,1668.1 2390.6,1664.5 Q2389.3,1668.1 2388.7,1673.7 Z" fill="#fff" />
<path d="M2384.8,1674.5 Q2384.4,1667.0 2383.5,1661.4 Q2386.4,1667.0 2387.6,1674.5 Z" fill="#fff" />
<path d="M2383.8,1675.3 Q2383.3,1667.7 2382.3,1662.0 Q2385.3,1667.7 2386.6,1675.3 Z" fill="#fff" />
<path d="M2382.6,1676.1 Q2382.2,1669.2 2381.1,1664.2 Q2384.2,1669.2 2385.4,1676.1 Z" fill="#fff" />
<path d="M2381.5,1676.9 Q2382.8,1672.4 2385.8,1669.9 Q2384.8,1672.4 2384.3,1676.9 Z" fill="#fff" />
<path d="M2380.2,1677.7 Q2379.9,1672.4 2379.3,1669.0 Q2381.9,1672.4 2383.0,1677.7 Z" fill="#fff" />
<path d="M2378.9,1678.5 Q2380.2,1670.1 2383.3,1663.7 Q2382.2,1670.1 2381.7,1678.5 Z" fill="#fff" />
<path d="M2377.5,1679.3 Q2379.0,1673.6 2382.6,1670.0 Q2381.0,1673.6 2380.3,1679.3 Z" fill="#fff" />
<path d="M2376.1,1680.1 Q2376.9,1673.4 2378.9,1668.8 Q2378.9,1673.4 2378.9,1680.1 Z" fill="#fff" />
<path d="M2374.6,1680.9 Q2376.1,1675.6 2379.5,1672.2 Q2378.1,1675.6 2377.4,1680.9 Z" fill="#fff" />
<path d="M2373.1,1681.7 Q2374.6,1674.4 2378.2,1669.1 Q2376.6,1674.4 2375.9,1681.7 Z" fill="#fff" />
<path d="M2371.4,1682.4 Q2371.4,1674.4 2371.2,1668.3 Q2373.4,1674.4 2374.2,1682.4 Z" fill="#fff" />
<path d="M2369.8,1683.2 Q2369.4,1677.3 2368.5,1673.3 Q2371.4,1677.3 2372.6,1683.2 Z" fill="#fff" />
<path d="M2368.0,1684.0 Q2367.4,1678.9 2366.0,1675.8 Q2369.4,1678.9 2370.8,1684.0 Z" fill="#fff" />
<path d="M2366.2,1684.8 Q2366.9,1679.1 2368.5,1675.4 Q2368.9,1679.1 2369.0,1684.8 Z" fill="#fff" />
<path d="M2364.4,1685.6 Q2365.2,1681.0 2367.2,1678.5 Q2367.2,1681.0 2367.2,1685.6 Z" fill="#fff" />
<path d="M2362.5,1686.3 Q2362.4,1680.5 2362.4,1676.6 Q2364.4,1680.5 2365.3,1686.3 Z" fill="#fff" />
<path d="M2360.5,1687.1 Q2360.9,1679.3 2361.8,1673.6 Q2362.9,1679.3 2363.3,1687.1 Z" fill="#fff" />
<path d="M2358.5,1687.9 Q2358.8,1682.1 2359.7,1678.3 Q2360.8,1682.1 2361.3,1687.9 Z" fill="#fff" />
<path d="M2356.4,1688.6 Q2355.7,1681.3 2354.3,1676.0 Q2357.7,1681.3 2359.2,1688.6 Z" fill="#fff" />
<path d="M2354.3,1689.4 Q2353.5,1681.0 2351.8,1674.6 Q2355.5,1681.0 2357.1,1689.4 Z" fill="#fff" />
<path d="M2352.1,1690.2 Q2353.3,1682.7 2356.2,1677.2 Q2355.3,1682.7 2354.9,1690.2 Z" fill="#fff" />
<path d="M2349.8,1690.9 Q2350.9,1686.4 2353.5,1683.8 Q2352.9,1686.4 2352.6,1690.9 Z" fill="#fff" />
<path d="M2347.5,1691.7 Q2348.1,1685.7 2349.5,1681.8 Q2350.1,1685.7 2350.3,1691.7 Z" fill="#fff" />
<path d="M2345.1,1692.4 Q2344.4,1687.9 2342.9,1685.4 Q2346.4,1687.9 2347.9,1692.4 Z" fill="#fff" />
<path d="M2342.7,1693.2 Q2344.1,1688.0 2347.7,1684.7 Q2346.1,1688.0 2345.5,1693.2 Z" fill="#fff" />
<path d="M2340.2,1693.9 Q2341.2,1688.7 2343.6,1685.4 Q2343.2,1688.7 2343.0,1693.9 Z" fill="#fff" />
<path d="M2337.6,1694.7 Q2339.1,1686.5 2342.5,1680.3 Q2341.1,1686.5 2340.4,1694.7 Z" fill="#fff" />
<path d="M2335.0,1695.4 Q2335.1,1689.6 2335.2,1685.7 Q2337.1,1689.6 2337.8,1695.4 Z" fill="#fff" />
<path d="M2332.3,1696.2 Q2333.4,1689.6 2335.9,1685.0 Q2335.4,1689.6 2335.1,1696.2 Z" fill="#fff" />
<path d="M2329.6,1696.9 Q2330.6,1692.0 2333.0,1689.0 Q2332.6,1692.0 2332.4,1696.9 Z" fill="#fff" />
<path d="M2326.8,1697.6 Q2328.1,1690.0 2331.1,1684.3 Q2330.1,1690.0 2329.6,1697.6 Z" fill="#fff" />
<path d="M2324.0,1698.4 Q2325.5,1693.7 2329.0,1691.1 Q2327.5,1693.7 2326.8,1698.4 Z" fill="#fff" />
<path d="M2321.1,1699.1 Q2321.1,1694.2 2321.2,1691.4 Q2323.1,1694.2 2323.9,1699.1 Z" fill="#fff" />
<path d="M2318.2,1699.8 Q2319.6,1692.9 2322.9,1687.9 Q2321.6,1692.9 2321.0,1699.8 Z" fill="#fff" />
<path d="M2315.2,1700.6 Q2316.6,1694.7 2320.0,1690.8 Q2318.6,1694.7 2318.0,1700.6 Z" fill="#fff" />
<path d="M2312.1,1701.3 Q2312.1,1694.6 2312.0,1689.9 Q2314.1,1694.6 2314.9,1701.3 Z" fill="#fff" />
<path d="M2309.0,1702.0 Q2308.6,1696.2 2307.8,1692.5 Q2310.6,1696.2 2311.8,1702.0 Z" fill="#fff" />
<path d="M2305.8,1702.7 Q2305.4,1697.9 2304.4,1695.1 Q2307.4,1697.9 2308.6,1702.7 Z" fill="#fff" />
<path d="M2302.6,1703.4 Q2304.2,1696.2 2308.0,1690.9 Q2306.2,1696.2 2305.4,1703.4 Z" fill="#fff" />
<path d="M2299.3,1704.1 Q2298.7,1699.0 2297.1,1695.8 Q2300.7,1699.0 2302.1,1704.1 Z" fill="#fff" />
<path d="M2296.0,1704.8 Q2296.5,1696.4 2297.7,1689.9 Q2298.5,1696.4 2298.8,1704.8 Z" fill="#fff" />
<path d="M2292.6,1705.5 Q2292.4,1699.4 2291.9,1695.3 Q2294.4,1699.4 2295.4,1705.5 Z" fill="#fff" />
<path d="M2289.2,1706.2 Q2290.4,1699.3 2293.2,1694.5 Q2292.4,1699.3 2292.0,1706.2 Z" fill="#fff" />
<path d="M2285.7,1706.9 Q2285.9,1700.6 2286.5,1696.3 Q2287.9,1700.6 2288.5,1706.9 Z" fill="#fff" />
<path d="M2282.2,1707.6 Q2283.6,1702.9 2286.9,1700.1 Q2285.6,1702.9 2285.0,1707.6 Z" fill="#fff" />
<path d="M2278.6,1708.3 Q2279.0,1703.6 2279.9,1701.0 Q2281.0,1703.6 2281.4,1708.3 Z" fill="#fff" />
<path d="M2274.9,1708.9 Q2274.4,1701.1 2273.4,1695.2 Q2276.4,1701.1 2277.7,1708.9 Z" fill="#fff" />
<path d="M2271.2,1709.6 Q2272.7,1702.2 2276.2,1696.8 Q2274.7,1702.2 2274.0,1709.6 Z" fill="#fff" />
<path d="M2267.5,1710.3 Q2268.6,1703.3 2271.2,1698.2 Q2270.6,1703.3 2270.3,1710.3 Z" fill="#fff" />
<path d="M2263.7,1711.0 Q2263.9,1706.0 2264.6,1703.1 Q2265.9,1706.0 2266.5,1711.0 Z" fill="#fff" />
<path d="M2259.8,1711.6 Q2261.1,1706.5 2264.0,1703.4 Q2263.1,1706.5 2262.6,1711.6 Z" fill="#fff" />
<path d="M2255.9,1712.3 Q2256.2,1706.6 2257.0,1702.9 Q2258.2,1706.6 2258.7,1712.3 Z" fill="#fff" />
<path d="M2252.0,1712.9 Q2253.2,1704.4 2256.2,1697.9 Q2255.2,1704.4 2254.8,1712.9 Z" fill="#fff" />
<path d="M2248.0,1713.6 Q2248.3,1705.2 2249.0,1698.8 Q2250.3,1705.2 2250.8,1713.6 Z" fill="#fff" />
<path d="M2243.9,1714.2 Q2244.9,1707.8 2247.2,1703.3 Q2246.9,1707.8 2246.7,1714.2 Z" fill="#fff" />
<path d="M2239.8,1714.9 Q2239.7,1708.4 2239.6,1704.0 Q2241.7,1708.4 2242.6,1714.9 Z" fill="#fff" />
<path d="M2235.7,1715.5 Q2235.2,1709.4 2234.3,1705.3 Q2237.2,1709.4 2238.5,1715.5 Z" fill="#fff" />
<path d="M2231.5,1716.1 Q2233.1,1710.1 2236.8,1706.1 Q2235.1,1710.1 2234.3,1716.1 Z" fill="#fff" />
<path d="M2227.2,1716.8 Q2228.0,1708.4 2229.7,1702.1 Q2230.0,1708.4 2230.0,1716.8 Z" fill="#fff" />
<path d="M2223.0,1717.4 Q2223.0,1710.9 2223.1,1706.4 Q2225.0,1710.9 2225.8,1717.4 Z" fill="#fff" />
<path d="M2218.6,1718.0 Q2218.5,1713.1 2218.2,1710.3 Q2220.5,1713.1 2221.4,1718.0 Z" fill="#fff" />
<path d="M2214.2,1718.6 Q2215.5,1711.0 2218.6,1705.4 Q2217.5,1711.0 2217.0,1718.6 Z" fill="#fff" />
<path d="M2209.8,1719.2 Q2210.9,1713.3 2213.5,1709.3 Q2212.9,1713.3 2212.6,1719.2 Z" fill="#fff" />
<path d="M2205.3,1719.8 Q2206.2,1712.2 2208.3,1706.6 Q2208.2,1712.2 2208.1,1719.8 Z" fill="#fff" />
<path d="M2200.8,1720.4 Q2201.8,1713.3 2204.3,1708.1 Q2203.8,1713.3 2203.6,1720.4 Z" fill="#fff" />
<path d="M2196.2,1721.0 Q2197.1,1715.1 2199.2,1711.1 Q2199.1,1715.1 2199.0,1721.0 Z" fill="#fff" />
<path d="M2191.6,1721.6 Q2192.0,1716.0 2192.9,1712.3 Q2194.0,1716.0 2194.4,1721.6 Z" fill="#fff" />
<path d="M2186.9,1722.2 Q2187.8,1714.6 2189.9,1709.0 Q2189.8,1714.6 2189.7,1722.2 Z" fill="#fff" />
<path d="M2182.2,1722.8 Q2183.7,1717.1 2187.2,1713.4 Q2185.7,1717.1 2185.0,1722.8 Z" fill="#fff" />
<path d="M2177.5,1723.3 Q2178.1,1716.2 2179.5,1711.1 Q2180.1,1716.2 2180.3,1723.3 Z" fill="#fff" />
<path d="M2172.7,1723.9 Q2173.2,1719.3 2174.5,1716.8 Q2175.2,1719.3 2175.5,1723.9 Z" fill="#fff" />
<path d="M2167.8,1724.5 Q2168.7,1719.0 2170.6,1715.4 Q2170.7,1719.0 2170.6,1724.5 Z" fill="#fff" />
<path d="M2163.0,1725.0 Q2164.1,1718.7 2166.9,1714.3 Q2166.1,1718.7 2165.8,1725.0 Z" fill="#fff" />
<path d="M2158.0,1725.6 Q2159.2,1718.5 2161.8,1713.4 Q2161.2,1718.5 2160.8,1725.6 Z" fill="#fff" />
<path d="M2153.1,1726.1 Q2153.8,1720.2 2155.6,1716.3 Q2155.8,1720.2 2155.9,1726.1 Z" fill="#fff" />
<path d="M2148.1,1726.6 Q2149.3,1719.2 2152.1,1713.7 Q2151.3,1719.2 2150.9,1726.6 Z" fill="#fff" />
<path d="M2143.0,1727.2 Q2144.3,1721.3 2147.2,1717.4 Q2146.3,1721.3 2145.8,1727.2 Z" fill="#fff" />
<path d="M2137.9,1727.7 Q2138.8,1719.7 2140.8,1713.8 Q2140.8,1719.7 2140.7,1727.7 Z" fill="#fff" />
<path d="M2132.8,1728.2 Q2134.3,1719.8 2137.9,1713.4 Q2136.3,1719.8 2135.6,1728.2 Z" fill="#fff" />
<path d="M2127.6,1728.8 Q2128.1,1722.2 2129.3,1717.6 Q2130.1,1722.2 2130.4,1728.8 Z" fill="#fff" />
<path d="M2122.4,1729.3 Q2123.6,1724.1 2126.5,1720.9 Q2125.6,1724.1 2125.2,1729.3 Z" fill="#fff" />
<path d="M2117.2,1729.8 Q2117.5,1721.5 2118.4,1715.3 Q2119.5,1721.5 2120.0,1729.8 Z" fill="#fff" />
<path d="M2111.9,1730.3 Q2112.8,1723.0 2115.1,1717.7 Q2114.8,1723.0 2114.7,1730.3 Z" fill="#fff" />
<path d="M2106.6,1730.8 Q2106.2,1723.3 2105.4,1717.9 Q2108.2,1723.3 2109.4,1730.8 Z" fill="#fff" />
<path d="M2101.2,1731.3 Q2101.8,1723.6 2103.3,1718.0 Q2103.8,1723.6 2104.0,1731.3 Z" fill="#fff" />
<path d="M2095.8,1731.7 Q2096.0,1724.6 2096.6,1719.4 Q2098.0,1724.6 2098.6,1731.7 Z" fill="#fff" />
<path d="M2090.4,1732.2 Q2091.5,1725.2 2094.0,1720.2 Q2093.5,1725.2 2093.2,1732.2 Z" fill="#fff" />
<path d="M2084.9,1732.7 Q2085.9,1725.6 2088.1,1720.6 Q2087.9,1725.6 2087.7,1732.7 Z" fill="#fff" />
<path d="M2079.4,1733.1 Q2079.0,1728.5 2078.1,1725.9 Q2081.0,1728.5 2082.2,1733.1 Z" fill="#fff" />
<path d="M2073.9,1733.6 Q2074.6,1727.3 2076.5,1723.1 Q2076.6,1727.3 2076.7,1733.6 Z" fill="#fff" />
<path d="M2068.3,1734.1 Q2069.1,1728.7 2071.2,1725.3 Q2071.1,1728.7 2071.1,1734.1 Z" fill="#fff" />
<path d="M2062.7,1734.5 Q2062.0,1727.5 2060.4,1722.5 Q2064.0,1727.5 2065.5,1734.5 Z" fill="#fff" />
<path d="M2057.0,1734.9 Q2056.8,1728.6 2056.3,1724.2 Q2058.8,1728.6 2059.8,1734.9 Z" fill="#fff" />
<path d="M2051.4,1735.4 Q2050.9,1730.7 2049.8,1727.9 Q2052.9,1730.7 2054.2,1735.4 Z" fill="#fff" />
<path d="M2045.7,1735.8 Q2045.3,1730.0 2044.5,1726.3 Q2047.3,1730.0 2048.5,1735.8 Z" fill="#fff" />
<path d="M2039.9,1736.2 Q2039.2,1731.0 2037.6,1727.7 Q2041.2,1731.0 2042.7,1736.2 Z" fill="#fff" />
<path d="M2034.1,1736.6 Q2034.2,1730.3 2034.6,1725.9 Q2036.2,1730.3 2036.9,1736.6 Z" fill="#fff" />
<path d="M2028.3,1737.1 Q2028.9,1730.1 2030.4,1725.2 Q2030.9,1730.1 2031.1,1737.1 Z" fill="#fff" />
<path d="M2022.5,1737.5 Q2023.9,1732.0 2027.1,1728.6 Q2025.9,1732.0 2025.3,1737.5 Z" fill="#fff" />
<path d="M2016.6,1737.9 Q2016.8,1733.4 2017.3,1730.8 Q2018.8,1733.4 2019.4,1737.9 Z" fill="#fff" />
<path d="M2010.7,1738.2 Q2010.9,1732.6 2011.4,1729.0 Q2012.9,1732.6 2013.5,1738.2 Z" fill="#fff" />
<path d="M2004.8,1738.6 Q2006.0,1733.7 2008.8,1730.7 Q2008.0,1733.7 2007.6,1738.6 Z" fill="#fff" />
<path d="M1998.8,1739.0 Q1998.1,1733.0 1996.5,1729.0 Q2000.1,1733.0 2001.6,1739.0 Z" fill="#fff" />
<path d="M1992.8,1739.4 Q1992.3,1732.4 1991.0,1727.5 Q1994.3,1732.4 1995.6,1739.4 Z" fill="#fff" />
<path d="M1986.8,1739.7 Q1986.8,1733.1 1986.9,1728.4 Q1988.8,1733.1 1989.6,1739.7 Z" fill="#fff" />
<path d="M1980.8,1740.1 Q1982.3,1733.3 1985.9,1728.4 Q1984.3,1733.3 1983.6,1740.1 Z" fill="#fff" />
<path d="M1974.7,1740.4 Q1974.9,1732.7 1975.5,1726.9 Q1976.9,1732.7 1977.5,1740.4 Z" fill="#fff" />
<path d="M1968.6,1740.8 Q1969.4,1733.0 1971.2,1727.3 Q1971.4,1733.0 1971.4,1740.8 Z" fill="#fff" />
<path d="M1962.5,1741.1 Q1962.0,1735.1 1961.0,1731.2 Q1964.0,1735.1 1965.3,1741.1 Z" fill="#fff" />
<path d="M1956.4,1741.5 Q1956.9,1734.6 1958.3,1729.7 Q1958.9,1734.6 1959.2,1741.5 Z" fill="#fff" />
<path d="M1950.2,1741.8 Q1951.7,1733.5 1955.3,1727.1 Q1953.7,1733.5 1953.0,1741.8 Z" fill="#fff" />
<path d="M1944.0,1742.1 Q1944.0,1735.2 1944.2,1730.2 Q1946.0,1735.2 1946.8,1742.1 Z" fill="#fff" />
<path d="M1937.8,1742.4 Q1937.0,1734.3 1935.2,1728.3 Q1939.0,1734.3 1940.6,1742.4 Z" fill="#fff" />
<path d="M1931.5,1742.7 Q1932.1,1737.8 1933.4,1734.8 Q1934.1,1737.8 1934.3,1742.7 Z" fill="#fff" />
<path d="M1925.3,1743.0 Q1924.8,1736.0 1923.8,1731.1 Q1926.8,1736.0 1928.1,1743.0 Z" fill="#fff" />
<path d="M1919.0,1743.3 Q1920.3,1736.3 1923.5,1731.3 Q1922.3,1736.3 1921.8,1743.3 Z" fill="#fff" />
<path d="M1912.7,1743.6 Q1912.9,1737.6 1913.5,1733.6 Q1914.9,1737.6 1915.5,1743.6 Z" fill="#fff" />
<path d="M1906.3,1743.9 Q1906.2,1738.4 1906.0,1735.0 Q1908.2,1738.4 1909.1,1743.9 Z" fill="#fff" />
<path d="M1900.0,1744.1 Q1900.1,1735.7 1900.4,1729.3 Q1902.1,1735.7 1902.8,1744.1 Z" fill="#fff" />
<path d="M1893.6,1744.4 Q1895.0,1736.0 1898.3,1729.7 Q1897.0,1736.0 1896.4,1744.4 Z" fill="#fff" />
<path d="M1887.2,1744.6 Q1887.0,1737.8 1886.7,1732.9 Q1889.0,1737.8 1890.0,1744.6 Z" fill="#fff" />
<path d="M1880.8,1744.9 Q1881.2,1736.5 1882.2,1730.0 Q1883.2,1736.5 1883.6,1744.9 Z" fill="#fff" />
<path d="M1874.4,1745.1 Q1874.3,1739.0 1874.3,1734.8 Q1876.3,1739.0 1877.2,1745.1 Z" fill="#fff" />
<path d="M1867.9,1745.4 Q1868.3,1736.9 1869.2,1730.5 Q1870.3,1736.9 1870.7,1745.4 Z" fill="#fff" />
<path d="M1861.4,1745.6 Q1861.8,1739.9 1862.6,1736.3 Q1863.8,1739.9 1864.2,1745.6 Z" fill="#fff" />
<path d="M1854.9,1745.8 Q1855.6,1740.8 1857.3,1737.8 Q1857.6,1740.8 1857.7,1745.8 Z" fill="#fff" />
<path d="M1848.4,1746.0 Q1848.4,1739.7 1848.2,1735.5 Q1850.4,1739.7 1851.2,1746.0 Z" fill="#fff" />
<path d="M1841.9,1746.2 Q1843.1,1738.6 1845.9,1733.0 Q1845.1,1738.6 1844.7,1746.2 Z" fill="#fff" />
<path d="M1835.4,1746.4 Q1835.9,1741.9 1837.1,1739.3 Q1837.9,1741.9 1838.2,1746.4 Z" fill="#fff" />
<path d="M1828.9,1746.6 Q1830.3,1741.0 1833.7,1737.4 Q1832.3,1741.0 1831.7,1746.6 Z" fill="#fff" />
<path d="M1822.3,1746.8 Q1822.1,1739.2 1821.7,1733.5 Q1824.1,1739.2 1825.1,1746.8 Z" fill="#fff" />
<path d="M1815.7,1747.0 Q1815.3,1741.4 1814.4,1737.8 Q1817.3,1741.4 1818.5,1747.0 Z" fill="#fff" />
<path d="M1809.1,1747.1 Q1809.0,1738.7 1808.9,1732.2 Q1811.0,1738.7 1811.9,1747.1 Z" fill="#fff" />
<path d="M1802.5,1747.3 Q1802.9,1740.4 1803.7,1735.4 Q1804.9,1740.4 1805.3,1747.3 Z" fill="#fff" />
<path d="M1795.9,1747.5 Q1796.6,1740.4 1798.1,1735.3 Q1798.6,1740.4 1798.7,1747.5 Z" fill="#fff" />
<path d="M1789.3,1747.6 Q1788.8,1740.1 1787.6,1734.6 Q1790.8,1740.1 1792.1,1747.6 Z" fill="#fff" />
<path d="M1782.7,1747.7 Q1782.6,1740.2 1782.5,1734.7 Q1784.6,1740.2 1785.5,1747.7 Z" fill="#fff" />
<path d="M1776.0,1747.9 Q1776.0,1741.2 1776.1,1736.6 Q1778.0,1741.2 1778.8,1747.9 Z" fill="#fff" />
<path d="M1769.3,1748.0 Q1769.8,1742.3 1771.0,1738.6 Q1771.8,1742.3 1772.1,1748.0 Z" fill="#fff" />
<path d="M1762.7,1748.1 Q1762.8,1741.8 1763.0,1737.4 Q1764.8,1741.8 1765.5,1748.1 Z" fill="#fff" />
<path d="M1756.0,1748.2 Q1756.6,1740.7 1758.1,1735.3 Q1758.6,1740.7 1758.8,1748.2 Z" fill="#fff" />
<path d="M1749.3,1748.3 Q1749.1,1743.7 1748.7,1741.0 Q1751.1,1743.7 1752.1,1748.3 Z" fill="#fff" />
<path d="M1742.6,1748.4 Q1744.0,1742.1 1747.4,1737.8 Q1746.0,1742.1 1745.4,1748.4 Z" fill="#fff" />
<path d="M1735.9,1748.5 Q1736.4,1740.5 1737.7,1734.4 Q1738.4,1740.5 1738.7,1748.5 Z" fill="#fff" />
<path d="M1729.2,1748.6 Q1730.3,1744.0 1732.9,1741.5 Q1732.3,1744.0 1732.0,1748.6 Z" fill="#fff" />
<path d="M1722.5,1748.7 Q1723.1,1742.5 1724.5,1738.2 Q1725.1,1742.5 1725.3,1748.7 Z" fill="#fff" />
<path d="M1715.8,1748.7 Q1716.5,1741.4 1718.3,1736.1 Q1718.5,1741.4 1718.6,1748.7 Z" fill="#fff" />
<path d="M1709.1,1748.8 Q1710.5,1742.4 1713.8,1737.9 Q1712.5,1742.4 1711.9,1748.8 Z" fill="#fff" />
<path d="M1702.4,1748.8 Q1702.5,1742.8 1702.9,1738.8 Q1704.5,1742.8 1705.2,1748.8 Z" fill="#fff" />
<path d="M1695.6,1748.9 Q1695.3,1741.0 1694.6,1735.1 Q1697.3,1741.0 1698.4,1748.9 Z" fill="#fff" />
<path d="M1688.9,1748.9 Q1690.1,1743.2 1693.0,1739.6 Q1692.1,1743.2 1691.7,1748.9 Z" fill="#fff" />
<path d="M1682.2,1749.0 Q1683.4,1744.2 1686.3,1741.4 Q1685.4,1744.2 1685.0,1749.0 Z" fill="#fff" />
<path d="M1675.4,1749.0 Q1675.7,1741.7 1676.3,1736.4 Q1677.7,1741.7 1678.2,1749.0 Z" fill="#fff" />
<path d="M1668.7,1749.0 Q1669.8,1743.3 1672.4,1739.7 Q1671.8,1743.3 1671.5,1749.0 Z" fill="#fff" />
<path d="M1662.0,1749.0 Q1661.5,1740.9 1660.5,1734.7 Q1663.5,1740.9 1664.8,1749.0 Z" fill="#fff" />
<path d="M1655.2,1749.0 Q1655.7,1742.6 1657.0,1738.2 Q1657.7,1742.6 1658.0,1749.0 Z" fill="#fff" />
<path d="M1648.5,1749.0 Q1648.5,1742.5 1648.5,1738.0 Q1650.5,1742.5 1651.3,1749.0 Z" fill="#fff" />
<path d="M1641.8,1749.0 Q1642.4,1743.9 1643.8,1740.7 Q1644.4,1743.9 1644.6,1749.0 Z" fill="#fff" />
<path d="M1635.0,1749.0 Q1634.4,1741.2 1633.0,1735.5 Q1636.4,1741.2 1637.8,1749.0 Z" fill="#fff" />
<path d="M1628.3,1748.9 Q1629.5,1743.5 1632.2,1740.1 Q1631.5,1743.5 1631.1,1748.9 Z" fill="#fff" />
<path d="M1621.6,1748.9 Q1622.4,1741.2 1624.3,1735.6 Q1624.4,1741.2 1624.4,1748.9 Z" fill="#fff" />
<path d="M1614.8,1748.8 Q1615.8,1744.2 1618.0,1741.6 Q1617.8,1744.2 1617.6,1748.8 Z" fill="#fff" />
<path d="M1608.1,1748.8 Q1609.7,1740.4 1613.5,1734.0 Q1611.7,1740.4 1610.9,1748.8 Z" fill="#fff" />
<path d="M1601.4,1748.7 Q1600.7,1741.4 1599.2,1736.1 Q1602.7,1741.4 1604.2,1748.7 Z" fill="#fff" />
<path d="M1594.7,1748.7 Q1594.4,1740.8 1593.8,1734.9 Q1596.4,1740.8 1597.5,1748.7 Z" fill="#fff" />
<path d="M1588.0,1748.6 Q1589.4,1741.5 1593.0,1736.4 Q1591.4,1741.5 1590.8,1748.6 Z" fill="#fff" />
<path d="M1581.3,1748.5 Q1580.8,1741.2 1579.7,1735.8 Q1582.8,1741.2 1584.1,1748.5 Z" fill="#fff" />
<path d="M1574.6,1748.4 Q1576.0,1742.8 1579.3,1739.1 Q1578.0,1742.8 1577.4,1748.4 Z" fill="#fff" />
<path d="M1567.9,1748.3 Q1568.5,1743.2 1570.2,1740.1 Q1570.5,1743.2 1570.7,1748.3 Z" fill="#fff" />
<path d="M1561.2,1748.2 Q1560.8,1742.1 1559.9,1737.9 Q1562.8,1742.1 1564.0,1748.2 Z" fill="#fff" />
<path d="M1554.5,1748.1 Q1553.8,1741.1 1552.3,1736.1 Q1555.8,1741.1 1557.3,1748.1 Z" fill="#fff" />
<path d="M1547.9,1748.0 Q1548.0,1743.1 1548.3,1740.1 Q1550.0,1743.1 1550.7,1748.0 Z" fill="#fff" />
<path d="M1541.2,1747.9 Q1540.5,1743.1 1539.1,1740.3 Q1542.5,1743.1 1544.0,1747.9 Z" fill="#fff" />
<path d="M1534.5,1747.7 Q1535.5,1740.9 1537.9,1736.1 Q1537.5,1740.9 1537.3,1747.7 Z" fill="#fff" />
<path d="M1527.9,1747.6 Q1527.4,1739.6 1526.4,1733.6 Q1529.4,1739.6 1530.7,1747.6 Z" fill="#fff" />
<path d="M1521.3,1747.5 Q1521.2,1741.2 1521.2,1737.0 Q1523.2,1741.2 1524.1,1747.5 Z" fill="#fff" />
<path d="M1514.7,1747.3 Q1515.1,1740.4 1516.0,1735.5 Q1517.1,1740.4 1517.5,1747.3 Z" fill="#fff" />
<path d="M1508.1,1747.1 Q1508.2,1738.9 1508.5,1732.6 Q1510.2,1738.9 1510.9,1747.1 Z" fill="#fff" />
<path d="M1501.5,1747.0 Q1502.4,1742.2 1504.5,1739.5 Q1504.4,1742.2 1504.3,1747.0 Z" fill="#fff" />
<path d="M1494.9,1746.8 Q1495.6,1741.7 1497.4,1738.6 Q1497.6,1741.7 1497.7,1746.8 Z" fill="#fff" />
<path d="M1488.3,1746.6 Q1489.7,1740.1 1493.0,1735.6 Q1491.7,1740.1 1491.1,1746.6 Z" fill="#fff" />
<path d="M1481.8,1746.4 Q1482.5,1739.7 1484.2,1735.0 Q1484.5,1739.7 1484.6,1746.4 Z" fill="#fff" />
<path d="M1475.3,1746.2 Q1475.8,1740.7 1477.1,1737.1 Q1477.8,1740.7 1478.1,1746.2 Z" fill="#fff" />
<path d="M1468.8,1746.0 Q1469.8,1740.5 1472.2,1737.0 Q1471.8,1740.5 1471.6,1746.0 Z" fill="#fff" />
<path d="M1462.3,1745.8 Q1461.8,1739.2 1460.7,1734.7 Q1463.8,1739.2 1465.1,1745.8 Z" fill="#fff" />
<path d="M1455.8,1745.6 Q1455.9,1740.1 1456.1,1736.7 Q1457.9,1740.1 1458.6,1745.6 Z" fill="#fff" />
<path d="M1449.3,1745.4 Q1448.9,1737.9 1448.1,1732.5 Q1450.9,1737.9 1452.1,1745.4 Z" fill="#fff" />
<path d="M1442.8,1745.1 Q1443.6,1737.8 1445.5,1732.4 Q1445.6,1737.8 1445.6,1745.1 Z" fill="#fff" />
<path d="M1436.4,1744.9 Q1437.2,1740.0 1439.2,1737.2 Q1439.2,1740.0 1439.2,1744.9 Z" fill="#fff" />
<path d="M1430.0,1744.6 Q1429.5,1739.8 1428.4,1736.9 Q1431.5,1739.8 1432.8,1744.6 Z" fill="#fff" />
<path d="M1423.6,1744.4 Q1423.4,1737.5 1422.9,1732.6 Q1425.4,1737.5 1426.4,1744.4 Z" fill="#fff" />
<path d="M1417.2,1744.1 Q1417.6,1736.1 1418.5,1730.1 Q1419.6,1736.1 1420.0,1744.1 Z" fill="#fff" />
<path d="M1410.9,1743.9 Q1412.0,1738.1 1414.7,1734.3 Q1414.0,1738.1 1413.7,1743.9 Z" fill="#fff" />
<path d="M1404.5,1743.6 Q1405.5,1739.0 1407.7,1736.3 Q1407.5,1739.0 1407.3,1743.6 Z" fill="#fff" />
<path d="M1398.2,1743.3 Q1397.8,1738.6 1396.8,1735.9 Q1399.8,1738.6 1401.0,1743.3 Z" fill="#fff" />
<path d="M1391.9,1743.0 Q1392.8,1734.7 1394.8,1728.4 Q1394.8,1734.7 1394.7,1743.0 Z" fill="#fff" />
<path d="M1385.7,1742.7 Q1385.2,1737.3 1384.0,1733.9 Q1387.2,1737.3 1388.5,1742.7 Z" fill="#fff" />
<path d="M1379.4,1742.4 Q1380.2,1734.0 1382.2,1727.6 Q1382.2,1734.0 1382.2,1742.4 Z" fill="#fff" />
<path d="M1373.2,1742.1 Q1372.8,1734.3 1371.7,1728.5 Q1374.8,1734.3 1376.0,1742.1 Z" fill="#fff" />
<path d="M1367.0,1741.8 Q1367.1,1734.8 1367.3,1729.8 Q1369.1,1734.8 1369.8,1741.8 Z" fill="#fff" />
<path d="M1360.8,1741.5 Q1360.8,1736.0 1360.9,1732.6 Q1362.8,1736.0 1363.6,1741.5 Z" fill="#fff" />
<path d="M1354.7,1741.1 Q1354.7,1734.2 1354.9,1729.2 Q1356.7,1734.2 1357.5,1741.1 Z" fill="#fff" />
<path d="M1348.6,1740.8 Q1348.1,1734.7 1347.1,1730.7 Q1350.1,1734.7 1351.4,1740.8 Z" fill="#fff" />
<path d="M1342.5,1740.4 Q1343.2,1732.6 1345.1,1726.8 Q1345.2,1732.6 1345.3,1740.4 Z" fill="#fff" />
<path d="M1336.4,1740.1 Q1336.7,1732.4 1337.3,1726.7 Q1338.7,1732.4 1339.2,1740.1 Z" fill="#fff" />
<path d="M1330.4,1739.7 Q1330.8,1731.8 1331.9,1725.9 Q1332.8,1731.8 1333.2,1739.7 Z" fill="#fff" />
<path d="M1324.4,1739.4 Q1324.9,1732.5 1326.3,1727.6 Q1326.9,1732.5 1327.2,1739.4 Z" fill="#fff" />
<path d="M1318.4,1739.0 Q1318.5,1731.5 1318.9,1726.1 Q1320.5,1731.5 1321.2,1739.0 Z" fill="#fff" />
<path d="M1312.4,1738.6 Q1311.7,1733.7 1310.1,1730.9 Q1313.7,1733.7 1315.2,1738.6 Z" fill="#fff" />
<path d="M1306.5,1738.2 Q1305.8,1732.9 1304.2,1729.6 Q1307.8,1732.9 1309.3,1738.2 Z" fill="#fff" />
<path d="M1300.6,1737.9 Q1300.9,1729.8 1301.8,1723.7 Q1302.9,1729.8 1303.4,1737.9 Z" fill="#fff" />
<path d="M1294.7,1737.5 Q1293.9,1729.9 1292.1,1724.4 Q1295.9,1729.9 1297.5,1737.5 Z" fill="#fff" />
<path d="M1288.9,1737.1 Q1290.2,1730.7 1293.4,1726.3 Q1292.2,1730.7 1291.7,1737.1 Z" fill="#fff" />
<path d="M1283.1,1736.6 Q1283.3,1729.7 1283.9,1724.7 Q1285.3,1729.7 1285.9,1736.6 Z" fill="#fff" />
<path d="M1277.3,1736.2 Q1276.7,1729.9 1275.5,1725.5 Q1278.7,1729.9 1280.1,1736.2 Z" fill="#fff" />
<path d="M1271.5,1735.8 Q1271.1,1730.7 1270.2,1727.6 Q1273.1,1730.7 1274.3,1735.8 Z" fill="#fff" />
<path d="M1265.8,1735.4 Q1266.0,1729.4 1266.3,1725.4 Q1268.0,1729.4 1268.6,1735.4 Z" fill="#fff" />
<path d="M1260.2,1734.9 Q1259.7,1726.9 1258.8,1720.9 Q1261.7,1726.9 1263.0,1734.9 Z" fill="#fff" />
<path d="M1254.5,1734.5 Q1254.4,1729.0 1254.1,1725.5 Q1256.4,1729.0 1257.3,1734.5 Z" fill="#fff" />
<path d="M1248.9,1734.1 Q1248.8,1728.9 1248.6,1725.8 Q1250.8,1728.9 1251.7,1734.1 Z" fill="#fff" />
<path d="M1243.3,1733.6 Q1243.7,1728.2 1244.6,1724.7 Q1245.7,1728.2 1246.1,1733.6 Z" fill="#fff" />
<path d="M1237.8,1733.1 Q1239.2,1728.5 1242.6,1725.9 Q1241.2,1728.5 1240.6,1733.1 Z" fill="#fff" />
<path d="M1232.3,1732.7 Q1233.7,1726.7 1237.2,1722.7 Q1235.7,1726.7 1235.1,1732.7 Z" fill="#fff" />
<path d="M1226.8,1732.2 Q1227.6,1725.0 1229.6,1719.7 Q1229.6,1725.0 1229.6,1732.2 Z" fill="#fff" />
<path d="M1221.4,1731.7 Q1222.8,1725.3 1226.3,1721.0 Q1224.8,1725.3 1224.2,1731.7 Z" fill="#fff" />
<path d="M1216.0,1731.3 Q1216.8,1726.3 1218.7,1723.3 Q1218.8,1726.3 1218.8,1731.3 Z" fill="#fff" />
<path d="M1210.6,1730.8 Q1211.4,1725.1 1213.4,1721.4 Q1213.4,1725.1 1213.4,1730.8 Z" fill="#fff" />
<path d="M1205.3,1730.3 Q1204.9,1722.9 1204.0,1717.4 Q1206.9,1722.9 1208.1,1730.3 Z" fill="#fff" />
<path d="M1200.0,1729.8 Q1199.3,1724.5 1197.6,1721.2 Q1201.3,1724.5 1202.8,1729.8 Z" fill="#fff" />
<path d="M1194.8,1729.3 Q1194.1,1723.8 1192.8,1720.4 Q1196.1,1723.8 1197.6,1729.3 Z" fill="#fff" />
<path d="M1189.6,1728.8 Q1191.1,1722.6 1194.7,1718.5 Q1193.1,1722.6 1192.4,1728.8 Z" fill="#fff" />
<path d="M1184.4,1728.2 Q1184.3,1722.3 1184.3,1718.3 Q1186.3,1722.3 1187.2,1728.2 Z" fill="#fff" />
<path d="M1179.3,1727.7 Q1179.1,1721.3 1178.9,1717.0 Q1181.1,1721.3 1182.1,1727.7 Z" fill="#fff" />
<path d="M1174.2,1727.2 Q1175.1,1719.8 1177.3,1714.3 Q1177.1,1719.8 1177.0,1727.2 Z" fill="#fff" />
<path d="M1169.1,1726.6 Q1168.9,1721.5 1168.4,1718.3 Q1170.9,1721.5 1171.9,1726.6 Z" fill="#fff" />
<path d="M1164.1,1726.1 Q1165.6,1718.9 1169.0,1713.7 Q1167.6,1718.9 1166.9,1726.1 Z" fill="#fff" />
<path d="M1159.2,1725.6 Q1159.4,1718.5 1160.0,1713.4 Q1161.4,1718.5 1162.0,1725.6 Z" fill="#fff" />
<path d="M1154.2,1725.0 Q1153.4,1716.6 1151.7,1710.2 Q1155.4,1716.6 1157.0,1725.0 Z" fill="#fff" />
<path d="M1149.4,1724.5 Q1150.4,1719.7 1153.0,1717.0 Q1152.4,1719.7 1152.2,1724.5 Z" fill="#fff" />
<path d="M1144.5,1723.9 Q1143.8,1717.8 1142.3,1713.6 Q1145.8,1717.8 1147.3,1723.9 Z" fill="#fff" />
<path d="M1139.7,1723.3 Q1141.3,1716.6 1145.0,1711.9 Q1143.3,1716.6 1142.5,1723.3 Z" fill="#fff" />
<path d="M1135.0,1722.8 Q1135.0,1716.2 1135.2,1711.6 Q1137.0,1716.2 1137.8,1722.8 Z" fill="#fff" />
<path d="M1130.3,1722.2 Q1129.6,1717.3 1128.2,1714.4 Q1131.6,1717.3 1133.1,1722.2 Z" fill="#fff" />
<path d="M1125.6,1721.6 Q1126.0,1713.5 1126.9,1707.4 Q1128.0,1713.5 1128.4,1721.6 Z" fill="#fff" />
<path d="M1121.0,1721.0 Q1120.3,1712.8 1118.8,1706.5 Q1122.3,1712.8 1123.8,1721.0 Z" fill="#fff" />
<path d="M1116.4,1720.4 Q1115.7,1714.9 1114.2,1711.5 Q1117.7,1714.9 1119.2,1720.4 Z" fill="#fff" />
<path d="M1111.9,1719.8 Q1111.2,1713.7 1109.8,1709.6 Q1113.2,1713.7 1114.7,1719.8 Z" fill="#fff" />
<path d="M1107.4,1719.2 Q1107.6,1713.7 1108.1,1710.2 Q1109.6,1713.7 1110.2,1719.2 Z" fill="#fff" />
<path d="M1103.0,1718.6 Q1102.3,1712.9 1100.8,1709.2 Q1104.3,1712.9 1105.8,1718.6 Z" fill="#fff" />
<path d="M1098.6,1718.0 Q1100.1,1713.3 1103.8,1710.7 Q1102.1,1713.3 1101.4,1718.0 Z" fill="#fff" />
<path d="M1094.2,1717.4 Q1094.7,1712.2 1095.7,1708.9 Q1096.7,1712.2 1097.0,1717.4 Z" fill="#fff" />
<path d="M1090.0,1716.8 Q1090.4,1710.6 1091.6,1706.5 Q1092.4,1710.6 1092.8,1716.8 Z" fill="#fff" />
<path d="M1085.7,1716.1 Q1085.7,1711.3 1085.6,1708.5 Q1087.7,1711.3 1088.5,1716.1 Z" fill="#fff" />
<path d="M1081.5,1715.5 Q1082.0,1710.6 1083.2,1707.6 Q1084.0,1710.6 1084.3,1715.5 Z" fill="#fff" />
<path d="M1077.4,1714.9 Q1078.0,1706.7 1079.5,1700.5 Q1080.0,1706.7 1080.2,1714.9 Z" fill="#fff" />
<path d="M1073.3,1714.2 Q1073.0,1706.3 1072.4,1700.4 Q1075.0,1706.3 1076.1,1714.2 Z" fill="#fff" />
<path d="M1069.2,1713.6 Q1069.7,1709.0 1070.9,1706.4 Q1071.7,1709.0 1072.0,1713.6 Z" fill="#fff" />
<path d="M1065.2,1712.9 Q1065.8,1706.5 1067.2,1702.0 Q1067.8,1706.5 1068.0,1712.9 Z" fill="#fff" />
<path d="M1061.3,1712.3 Q1062.0,1706.3 1063.7,1702.3 Q1064.0,1706.3 1064.1,1712.3 Z" fill="#fff" />
<path d="M1057.4,1711.6 Q1058.8,1704.2 1062.1,1698.8 Q1060.8,1704.2 1060.2,1711.6 Z" fill="#fff" />
<path d="M1053.5,1711.0 Q1053.8,1705.2 1054.5,1701.5 Q1055.8,1705.2 1056.3,1711.0 Z" fill="#fff" />
<path d="M1049.7,1710.3 Q1049.4,1702.5 1048.9,1696.7 Q1051.4,1702.5 1052.5,1710.3 Z" fill="#fff" />
<path d="M1046.0,1709.6 Q1045.9,1704.7 1045.9,1701.7 Q1047.9,1704.7 1048.8,1709.6 Z" fill="#fff" />
<path d="M1042.3,1708.9 Q1043.3,1704.1 1045.8,1701.2 Q1045.3,1704.1 1045.1,1708.9 Z" fill="#fff" />
<path d="M1038.6,1708.3 Q1038.6,1700.5 1038.5,1694.7 Q1040.6,1700.5 1041.4,1708.3 Z" fill="#fff" />
<path d="M1035.0,1707.6 Q1034.4,1702.6 1033.1,1699.5 Q1036.4,1702.6 1037.8,1707.6 Z" fill="#fff" />
<path d="M1031.5,1706.9 Q1030.9,1701.4 1029.6,1697.9 Q1032.9,1701.4 1034.3,1706.9 Z" fill="#fff" />
<path d="M1028.0,1706.2 Q1028.6,1700.0 1030.0,1695.8 Q1030.6,1700.0 1030.8,1706.2 Z" fill="#fff" />
<path d="M1024.6,1705.5 Q1023.9,1700.0 1022.5,1696.6 Q1025.9,1700.0 1027.4,1705.5 Z" fill="#fff" />
<path d="M1021.2,1704.8 Q1020.5,1697.5 1019.0,1692.2 Q1022.5,1697.5 1024.0,1704.8 Z" fill="#fff" />
<path d="M1017.9,1704.1 Q1017.7,1698.8 1017.5,1695.5 Q1019.7,1698.8 1020.7,1704.1 Z" fill="#fff" />
<path d="M1014.6,1703.4 Q1014.0,1697.4 1012.8,1693.4 Q1016.0,1697.4 1017.4,1703.4 Z" fill="#fff" />
<path d="M1011.4,1702.7 Q1011.3,1696.5 1011.3,1692.3 Q1013.3,1696.5 1014.2,1702.7 Z" fill="#fff" />
<path d="M1008.2,1702.0 Q1008.7,1694.5 1010.0,1689.0 Q1010.7,1694.5 1011.0,1702.0 Z" fill="#fff" />
<path d="M1005.1,1701.3 Q1005.9,1693.2 1007.7,1687.1 Q1007.9,1693.2 1007.9,1701.3 Z" fill="#fff" />
<path d="M1002.0,1700.6 Q1002.6,1693.0 1004.0,1687.5 Q1004.6,1693.0 1004.8,1700.6 Z" fill="#fff" />
<path d="M999.0,1699.8 Q1000.2,1693.6 1003.0,1689.3 Q1002.2,1693.6 1001.8,1699.8 Z" fill="#fff" />
<path d="M996.1,1699.1 Q997.6,1692.0 1001.1,1686.9 Q999.6,1692.0 998.9,1699.1 Z" fill="#fff" />
<path d="M993.2,1698.4 Q994.1,1691.0 996.2,1685.6 Q996.1,1691.0 996.0,1698.4 Z" fill="#fff" />
<path d="M990.4,1697.6 Q991.5,1692.1 994.3,1688.5 Q993.5,1692.1 993.2,1697.6 Z" fill="#fff" />
<path d="M987.6,1696.9 Q987.1,1690.9 986.0,1686.9 Q989.1,1690.9 990.4,1696.9 Z" fill="#fff" />
<path d="M984.9,1696.2 Q984.5,1691.4 983.6,1688.6 Q986.5,1691.4 987.7,1696.2 Z" fill="#fff" />
<path d="M982.2,1695.4 Q983.0,1689.9 985.0,1686.3 Q985.0,1689.9 985.0,1695.4 Z" fill="#fff" />
<path d="M979.6,1694.7 Q978.9,1689.0 977.5,1685.4 Q980.9,1689.0 982.4,1694.7 Z" fill="#fff" />
<path d="M977.0,1693.9 Q977.6,1686.4 978.9,1680.8 Q979.6,1686.4 979.8,1693.9 Z" fill="#fff" />
<path d="M974.5,1693.2 Q973.9,1688.6 972.3,1686.0 Q975.9,1688.6 977.3,1693.2 Z" fill="#fff" />
<path d="M972.1,1692.4 Q972.2,1687.4 972.4,1684.4 Q974.2,1687.4 974.9,1692.4 Z" fill="#fff" />
<path d="M969.7,1691.7 Q971.2,1683.7 974.7,1677.8 Q973.2,1683.7 972.5,1691.7 Z" fill="#fff" />
<path d="M967.4,1690.9 Q967.2,1684.0 966.7,1679.0 Q969.2,1684.0 970.2,1690.9 Z" fill="#fff" />
<path d="M965.1,1690.2 Q965.2,1684.0 965.4,1679.7 Q967.2,1684.0 967.9,1690.2 Z" fill="#fff" />
<path d="M962.9,1689.4 Q962.2,1683.6 960.4,1679.8 Q964.2,1683.6 965.7,1689.4 Z" fill="#fff" />
<path d="M960.8,1688.6 Q962.0,1681.8 964.8,1677.0 Q964.0,1681.8 963.6,1688.6 Z" fill="#fff" />
<path d="M958.7,1687.9 Q958.1,1680.5 956.9,1675.1 Q960.1,1680.5 961.5,1687.9 Z" fill="#fff" />
<path d="M956.7,1687.1 Q956.3,1680.5 955.5,1675.9 Q958.3,1680.5 959.5,1687.1 Z" fill="#fff" />
<path d="M954.7,1686.3 Q955.0,1679.0 955.7,1673.7 Q957.0,1679.0 957.5,1686.3 Z" fill="#fff" />
<path d="M952.8,1685.6 Q953.9,1677.3 956.6,1671.1 Q955.9,1677.3 955.6,1685.6 Z" fill="#fff" />
<path d="M951.0,1684.8 Q950.9,1679.8 950.9,1676.8 Q952.9,1679.8 953.8,1684.8 Z" fill="#fff" />
<path d="M949.2,1684.0 Q949.5,1675.8 950.2,1669.7 Q951.5,1675.8 952.0,1684.0 Z" fill="#fff" />
<path d="M947.4,1683.2 Q947.7,1677.0 948.4,1672.8 Q949.7,1677.0 950.2,1683.2 Z" fill="#fff" />
<path d="M945.8,1682.4 Q947.2,1674.9 950.6,1669.3 Q949.2,1674.9 948.6,1682.4 Z" fill="#fff" />
<path d="M944.1,1681.7 Q945.7,1675.0 949.3,1670.4 Q947.7,1675.0 946.9,1681.7 Z" fill="#fff" />
<path d="M942.6,1680.9 Q942.0,1674.0 940.8,1669.1 Q944.0,1674.0 945.4,1680.9 Z" fill="#fff" />
<path d="M941.1,1680.1 Q941.3,1672.3 941.9,1666.6 Q943.3,1672.3 943.9,1680.1 Z" fill="#fff" />
<path d="M939.7,1679.3 Q941.2,1674.6 944.9,1671.9 Q943.2,1674.6 942.5,1679.3 Z" fill="#fff" />
<path d="M938.3,1678.5 Q938.9,1673.9 940.3,1671.2 Q940.9,1673.9 941.1,1678.5 Z" fill="#fff" />
<path d="M937.0,1677.7 Q938.3,1671.3 941.4,1666.9 Q940.3,1671.3 939.8,1677.7 Z" fill="#fff" />
<path d="M935.7,1676.9 Q935.5,1670.9 934.9,1666.8 Q937.5,1670.9 938.5,1676.9 Z" fill="#fff" />
<path d="M934.6,1676.1 Q934.2,1670.5 933.6,1666.9 Q936.2,1670.5 937.4,1676.1 Z" fill="#fff" />
<path d="M933.4,1675.3 Q933.5,1668.6 933.7,1663.8 Q935.5,1668.6 936.2,1675.3 Z" fill="#fff" />
<path d="M932.4,1674.5 Q932.1,1667.0 931.7,1661.5 Q934.1,1667.0 935.2,1674.5 Z" fill="#fff" />
<path d="M931.3,1673.7 Q931.1,1667.8 930.7,1663.9 Q933.1,1667.8 934.1,1673.7 Z" fill="#fff" />
<path d="M930.4,1672.9 Q931.6,1664.5 934.5,1658.1 Q933.6,1664.5 933.2,1672.9 Z" fill="#fff" />
<path d="M929.5,1672.1 Q930.2,1664.2 931.9,1658.3 Q932.2,1664.2 932.3,1672.1 Z" fill="#fff" />
<path d="M928.7,1671.3 Q928.2,1665.2 927.2,1661.1 Q930.2,1665.2 931.5,1671.3 Z" fill="#fff" />
<path d="M927.9,1670.5 Q928.3,1662.7 929.3,1656.9 Q930.3,1662.7 930.7,1670.5 Z" fill="#fff" />
<path d="M927.2,1669.7 Q926.8,1665.1 926.0,1662.4 Q928.8,1665.1 930.0,1669.7 Z" fill="#fff" />
<path d="M926.6,1668.9 Q927.5,1664.0 929.7,1661.1 Q929.5,1664.0 929.4,1668.9 Z" fill="#fff" />
<path d="M926.0,1668.1 Q925.7,1660.0 925.0,1653.9 Q927.7,1660.0 928.8,1668.1 Z" fill="#fff" />
<path d="M925.5,1667.3 Q925.5,1659.6 925.5,1654.0 Q927.5,1659.6 928.3,1667.3 Z" fill="#fff" />
<path d="M925.1,1666.5 Q926.3,1659.3 929.4,1654.1 Q928.3,1659.3 927.9,1666.5 Z" fill="#fff" />
</g>
<ellipse cx="1660.0" cy="1643.0" rx="731.0" ry="86.0" fill="#c6c5c6" />
<ellipse cx="1660" cy="1643" rx="731" ry="86" fill="#808080" filter="url(#grain)" opacity="0.5"/>
<g clip-path="url(#platc)" opacity="0.4">
<polygon points="1240.0,1640.0 1330.0,1640.0 1520.0,1740.0 1400.0,1740.0" fill="#a9a9a9" />
<polygon points="1780.0,1675.0 2230.0,1652.0 2330.0,1690.0 2000.0,1740.0 1820.0,1740.0" fill="#adadad" />
<polygon points="1100.0,1620.0 1160.0,1620.0 1260.0,1740.0 1180.0,1740.0" fill="#b2b2b2" />
</g>
<path d="M816,1686 C850,1655 910,1600 1068,1580" fill="none" stroke="#6f6f6e" stroke-width="17" stroke-linecap="butt"/>
<path d="M814,1681 C848,1651 908,1596 1066,1575.5" fill="none" stroke="#929291" stroke-width="4"/>
<path d="M1243,1622 Q1464,1716 1685,1622 L1685,1630 Q1464,1724 1243,1630 Z" fill="#8aa65a" />
<g clip-path="url(#tankc)">
<rect x="1243.0" y="1025.0" width="442.0" height="700.0" fill="#f8e962" />
<path d="M1322,1100 Q1345,1360 1322,1640 L1322,1720 L1566,1720 L1566,1640 Q1540,1360 1566,1100 L1566,1025 L1322,1025 Z" fill="#ffec00" />
<path d="M1464,1031 Q1550,1034 1630,1066 Q1678,1085 1685,1100 L1566,1090 Q1540,1050 1464,1031 Z" fill="#f8e962" />
<path d="M1243,1098.0 Q1464,1050.0 1685,1098.0 L1685,1110.0 Q1464,1062.0 1243,1110.0 Z" fill="#efdf86" />
<path d="M1243,1110.0 Q1464,1062.0 1685,1110.0" fill="none" stroke="#ffffff" stroke-width="3"/>
<path d="M1243,1258.0 Q1464,1204.0 1685,1258.0 L1685,1270.0 Q1464,1216.0 1243,1270.0 Z" fill="#efdf86" />
<path d="M1243,1270.0 Q1464,1216.0 1685,1270.0" fill="none" stroke="#ffffff" stroke-width="3"/>
<path d="M1243,1428.0 Q1464,1370.0 1685,1428.0 L1685,1440.0 Q1464,1382.0 1243,1440.0 Z" fill="#efdf86" />
<path d="M1243,1440.0 Q1464,1382.0 1685,1440.0" fill="none" stroke="#ffffff" stroke-width="3"/>
</g>
<rect x="1487.0" y="1024.0" width="13.0" height="12.0" fill="#6fb1c9" />
<rect x="1484.0" y="1022.0" width="19.0" height="5.0" fill="#8cc5d8" />
<ellipse cx="1493.5" cy="1038.0" rx="8.0" ry="3.0" fill="#222" />
<g transform="translate(1600,1050) scale(0.43191)">
<polygon points="155.0,445.0 1422.0,445.0 1460.0,1390.0 420.0,1408.0 420.0,1392.0 1443.0,1375.0 1407.0,490.0 172.0,490.0 178.0,1100.0 160.0,1100.0" fill="#111" />
<path d="M135,485 L1412,488 Q1420,560 1400,720 Q1375,900 1372,1050 L1368,1292 Q1345,1296 1320,1275 Q1240,1215 1100,1182 Q960,1172 850,1186 L815,1163 L780,1190 Q600,1192 420,1228 L165,1228 L165,900 Q140,650 135,485 Z" fill="#333333" />
<path d="M1412,488 Q1420,560 1400,720 L420,1228 L165,1228 L165,1150 Z" fill="#3b3b3b" opacity="0.55"/>
<path d="M460,930 Q490,900 480,1000 Q475,1060 470,1100 Q455,1000 460,930 Z" fill="#2b2b2b" />
<path d="M835,955 Q875,950 860,1040 Q845,1110 820,1150 Q850,1040 835,955 Z" fill="#2b2b2b" />
<path d="M1250,640 Q1290,600 1300,700 Q1310,780 1325,840 Q1260,760 1250,640 Z" fill="#2b2b2b" />
<path d="M720,1100 Q760,1060 800,1150 L760,1170 Q740,1120 720,1100 Z" fill="#2e2e2e" />
<rect x="155.0" y="445.0" width="1267.0" height="46.0" fill="#111" />
<path d="M220,528 Q400,515 520,522 T840,518 T1100,524 T1330,530" fill="none" stroke="#222" stroke-width="4"/>
<circle cx="210.0" cy="465.0" r="3.0" fill="#777" />
<circle cx="345.0" cy="465.0" r="3.0" fill="#777" />
<circle cx="480.0" cy="465.0" r="3.0" fill="#777" />
<circle cx="775.0" cy="465.0" r="3.0" fill="#777" />
<circle cx="905.0" cy="465.0" r="3.0" fill="#777" />
<circle cx="1075.0" cy="465.0" r="3.0" fill="#777" />
<circle cx="1200.0" cy="465.0" r="3.0" fill="#777" />
<circle cx="1335.0" cy="465.0" r="3.0" fill="#777" />
<rect x="765.0" y="425.0" width="10.0" height="24.0" fill="#111" transform="rotate(-12 770 437)"/>
<rect x="1322.0" y="425.0" width="12.0" height="26.0" fill="#111" transform="rotate(-25 1328 438)"/>
<path d="M1262,615 Q1340,585 1410,560 Q1465,535 1440,505" fill="none" stroke="#cfcfcf" stroke-width="9" stroke-linecap="round"/>
<circle cx="1262.0" cy="615.0" r="10.0" fill="#222" />
<circle cx="1264.0" cy="616.0" r="5.0" fill="#3fa9dc" />
</g>
<path d="M1494,1036 C1430,1030 1375,1045 1384,1075 C1400,1120 1560,1140 1735,1187 C1840,1215 1905,1250 1893,1290 C1880,1335 1800,1352 1752,1350" fill="none" stroke="#d4d4d4" stroke-width="4.5" stroke-linecap="round"/>
<path d="M1494,1036 C1430,1030 1375,1045 1384,1075 C1400,1120 1560,1140 1735,1187 C1840,1215 1905,1250 1893,1290 C1880,1335 1800,1352 1752,1350" fill="none" stroke="#f2f2f2" stroke-width="1.5" stroke-linecap="round" opacity="0.8"/>
<circle cx="1749.0" cy="1350.0" r="4.5" fill="#222" />
<circle cx="1750.0" cy="1350.0" r="2.4" fill="#3fa9dc" />
<path d="M1059.7,1483.5 L1059.7,1607.0 Q1137.2,1639.0 1214.8,1607.0 L1214.8,1483.5 Z" fill="#0a7841" />
<path d="M1059.7,1483.5 L1059.7,1607.0 Q1070.6,1612.6 1081.4,1616.6 L1084.5,1483.5 Z" fill="#0a6c39" />
<path d="M1214.8,1483.5 L1214.8,1607.0 Q1199.3,1614.2 1183.8,1619.0 L1177.6,1483.5 Z" fill="#0a6e3b" />
<path d="M1058.7,1483.5 Q1059.7,1451.7 1073.7,1449.7 L1200.8,1449.7 Q1214.8,1451.7 1215.8,1483.5 Z" fill="#0b6636" />
<path d="M1101.6,1449.7 L1152.8,1449.7 L1148.1,1483.5 L1090.7,1483.5 Z" fill="#0a7a40" />
<path d="M1174.5,1449.7 L1199.3,1450.7 L1210.1,1483.5 L1180.7,1483.5 Z" fill="#0a7a40" />
<path d="M1053.7,1479.5 Q1137.2,1486.5 1220.8,1479.5 Q1225.8,1487.5 1220.8,1495.5 Q1137.2,1504.5 1053.7,1495.5 Q1048.7,1487.5 1053.7,1479.5 Z" fill="#0a7a40" />
<path d="M1052.7,1486.5 Q1137.2,1494.5 1221.8,1486.5" fill="none" stroke="#ffffff" stroke-width="2.2"/>
<path d="M1055.7,1496.5 Q1137.2,1505.5 1218.8,1496.5" fill="none" stroke="#e9f3e6" stroke-width="1.6"/>
<rect x="1062.0" y="1571.0" width="12.0" height="30.0" fill="#575756" rx="4"/>
<rect x="1210.0" y="1569.0" width="58.0" height="20.0" fill="#6f6f6e" />
<rect x="1266.0" y="1563.0" width="6.0" height="32.0" fill="#3c3c3b" rx="2"/>
<rect x="1207.0" y="1565.0" width="6.0" height="28.0" fill="#575756" rx="2"/>
<rect x="1240.0" y="1558.0" width="6.0" height="12.0" fill="#6f6f6e" />
<ellipse cx="1243.0" cy="1556.0" rx="15.0" ry="4.5" fill="#e30613" />
<ellipse cx="1243.0" cy="1555.0" rx="8.0" ry="2.2" fill="#f28a8a" />
<path d="M1641,1432 L1680,1432 Q1687,1432 1687,1440 L1687,1512" fill="none" stroke="#6f6f6e" stroke-width="15" stroke-linejoin="round"/>
<path d="M1641,1429 L1678,1429" fill="none" stroke="#9d9d9c" stroke-width="3"/>
<rect x="1636.0" y="1421.0" width="6.0" height="23.0" fill="#8a8a89" rx="2"/>
<path d="M1626.0,1540.0 L1626.0,1663.0 Q1703.7,1702.4 1781.4,1663.0 L1781.4,1540.0 Z" fill="#0a7841" />
<path d="M1626.0,1540.0 L1626.0,1663.0 Q1636.9,1669.9 1647.8,1674.8 L1650.9,1540.0 Z" fill="#0a6c39" />
<path d="M1781.4,1540.0 L1781.4,1663.0 Q1765.9,1671.9 1750.3,1677.8 L1744.1,1540.0 Z" fill="#0a6e3b" />
<path d="M1625.0,1540.0 Q1626.0,1509.8 1640.0,1507.8 L1767.4,1507.8 Q1781.4,1509.8 1782.4,1540.0 Z" fill="#0b6636" />
<path d="M1668.0,1507.8 L1719.2,1507.8 L1714.6,1540.0 L1657.1,1540.0 Z" fill="#0a7a40" />
<path d="M1741.0,1507.8 L1765.9,1508.8 L1776.7,1540.0 L1747.2,1540.0 Z" fill="#0a7a40" />
<path d="M1620.0,1536.0 Q1703.7,1543.0 1787.4,1536.0 Q1792.4,1544.0 1787.4,1552.0 Q1703.7,1561.0 1620.0,1552.0 Q1615.0,1544.0 1620.0,1536.0 Z" fill="#0a7a40" />
<path d="M1619.0,1543.0 Q1703.7,1551.0 1788.4,1543.0" fill="none" stroke="#ffffff" stroke-width="2.2"/>
<path d="M1622.0,1553.0 Q1703.7,1562.0 1785.4,1553.0" fill="none" stroke="#e9f3e6" stroke-width="1.6"/>
<ellipse cx="1158.6" cy="1328.3" rx="74.0" ry="48.6" fill="#ffffff" />
<text x="1109.0" y="1313.5" font-family="Liberation Sans, sans-serif" font-size="16.0" fill="#575756" font-weight="normal" text-anchor="start" textLength="105.0" lengthAdjust="spacingAndGlyphs" >Recipiente con</text>
<text x="1109.0" y="1328.3" font-family="Liberation Sans, sans-serif" font-size="16.0" fill="#575756" font-weight="normal" text-anchor="start" textLength="77.0" lengthAdjust="spacingAndGlyphs" >los purines</text>
<text x="1109.0" y="1343.6" font-family="Liberation Sans, sans-serif" font-size="16.0" fill="#575756" font-weight="normal" text-anchor="start" textLength="82.6" lengthAdjust="spacingAndGlyphs" >bombeados</text>
<text x="1109.0" y="1358.7" font-family="Liberation Sans, sans-serif" font-size="16.0" fill="#575756" font-weight="normal" text-anchor="start" textLength="97.7" lengthAdjust="spacingAndGlyphs" >desde el pozo</text>
<circle cx="1096.5" cy="1325.0" r="4.2" fill="#e94e1b" />
<circle cx="1096.5" cy="1336.5" r="1.9" fill="#e94e1b" />
<circle cx="1096.5" cy="1348.5" r="1.9" fill="#e94e1b" />
<circle cx="1096.5" cy="1360.5" r="1.9" fill="#e94e1b" />
<circle cx="1096.5" cy="1372.5" r="1.9" fill="#e94e1b" />
<circle cx="1096.5" cy="1384.5" r="1.9" fill="#e94e1b" />
<circle cx="1096.5" cy="1396.5" r="1.9" fill="#e94e1b" />
<circle cx="1096.5" cy="1408.5" r="1.9" fill="#e94e1b" />
<circle cx="1096.5" cy="1420.5" r="1.9" fill="#e94e1b" />
<circle cx="1096.5" cy="1432.5" r="1.9" fill="#e94e1b" />
<circle cx="1096.5" cy="1444.5" r="1.9" fill="#e94e1b" />
<circle cx="1096.5" cy="1456.5" r="1.9" fill="#e94e1b" />
<circle cx="1096.5" cy="1468.5" r="1.9" fill="#e94e1b" />
<circle cx="1106.0" cy="1476.7" r="1.9" fill="#e94e1b" />
<circle cx="1117.0" cy="1476.7" r="4.5" fill="#e6e6e6" />
<circle cx="1117.0" cy="1476.7" r="2.6" fill="#e94e1b" />
<ellipse cx="1975.0" cy="1162.3" rx="97.0" ry="56.0" fill="#ffffff" />
<text x="1911.0" y="1145.5" font-family="Liberation Sans, sans-serif" font-size="16.0" fill="#575756" font-weight="normal" text-anchor="start" textLength="120.0" lengthAdjust="spacingAndGlyphs" >Salida del biogás</text>
<text x="1911.0" y="1166.0" font-family="Liberation Sans, sans-serif" font-size="16.0" fill="#575756" font-weight="normal" text-anchor="start" textLength="145.6" lengthAdjust="spacingAndGlyphs" >después del proceso</text>
<text x="1911.0" y="1187.0" font-family="Liberation Sans, sans-serif" font-size="16.0" fill="#575756" font-weight="normal" text-anchor="start" textLength="88.0" lengthAdjust="spacingAndGlyphs" >de digestión</text>
<circle cx="1886.4" cy="1165.7" r="4.8" fill="#e94e1b" />
<circle cx="1735.2" cy="1165.7" r="1.9" fill="#e94e1b" />
<circle cx="1746.9" cy="1165.7" r="1.9" fill="#e94e1b" />
<circle cx="1758.6" cy="1165.7" r="1.9" fill="#e94e1b" />
<circle cx="1770.3" cy="1165.7" r="1.9" fill="#e94e1b" />
<circle cx="1782.0" cy="1165.7" r="1.9" fill="#e94e1b" />
<circle cx="1793.7" cy="1165.7" r="1.9" fill="#e94e1b" />
<circle cx="1805.4" cy="1165.7" r="1.9" fill="#e94e1b" />
<circle cx="1817.1" cy="1165.7" r="1.9" fill="#e94e1b" />
<circle cx="1828.8" cy="1165.7" r="1.9" fill="#e94e1b" />
<circle cx="1840.5" cy="1165.7" r="1.9" fill="#e94e1b" />
<circle cx="1852.2" cy="1165.7" r="1.9" fill="#e94e1b" />
<circle cx="1863.9" cy="1165.7" r="1.9" fill="#e94e1b" />
<circle cx="1875.6" cy="1165.7" r="1.9" fill="#e94e1b" />
<circle cx="1735.2" cy="1176.0" r="1.9" fill="#e94e1b" />
<circle cx="1735.2" cy="1187.3" r="4.8" fill="#ececec" />
<circle cx="1735.2" cy="1187.3" r="2.4" fill="#e94e1b" />
<rect x="13.0" y="2154.0" width="3271.0" height="380.0" fill="#ffffff" rx="5"/>
<g transform="translate(440,1560) scale(0.30221)">
<path d="M85,370 L175,620 Q195,678 285,682 L1395,680 Q1480,678 1510,620 L1625,385 L1560,405 L150,395 Z" fill="#f4f1e2" />
<path d="M85,370 L175,620 Q195,678 285,682 L1395,680 Q1480,678 1510,620 L1625,385" fill="none" stroke="#432918" stroke-width="6" stroke-linecap="round"/>
<path d="M108,372 L192,610 Q208,660 290,664 L1390,662 Q1465,660 1492,610 L1603,382" fill="none" stroke="#2b1a0f" stroke-width="8" stroke-dasharray="0.1 24" stroke-linecap="round"/>
<path d="M150,395 Q200,350 280,352 Q400,360 600,390 Q760,385 860,360 Q930,345 1010,370 Q1120,415 1220,408 Q1320,365 1420,355 Q1500,355 1560,410 L1480,600 Q1460,648 1380,650 L290,650 Q220,648 205,600 Z" fill="#432918" />
</g>
<text x="604.7" y="1725.8" font-family="Liberation Sans, sans-serif" font-size="24" fill="#fff" textLength="161.7" lengthAdjust="spacingAndGlyphs">Pozo <tspan font-weight="bold">Purinero</tspan></text>
<polygon points="642.7,1836.2 626.7,1851.2 621.4,2226.2 1169.9,2261.2 1172.9,2249.9 637.4,2211.2" fill="#706f6f" />
<path d="M643.0,1812.2 L1227.5,1760.4 L1248.6,2175.8 Q1252.7,2255.7 1172.9,2249.9 L637.4,2211.2 Z" fill="#f1f2ea" />
<text x="923.8" y="1854.0" font-family="Liberation Sans, sans-serif" font-size="69.0" fill="#0d8f3a" font-weight="normal" text-anchor="start" textLength="233.2" lengthAdjust="spacingAndGlyphs" stroke="#f1f2ea" stroke-width="1.8">Reactor</text>
<text x="678.6" y="1907.0" font-family="Liberation Sans, sans-serif" font-size="32.5" fill="#2a2378" font-weight="normal" text-anchor="start" textLength="451.2" lengthAdjust="spacingAndGlyphs" >Por medio de bombas se pasa el</text>
<text x="678.6" y="1948.2" font-family="Liberation Sans, sans-serif" font-size="32.5" fill="#2a2378" font-weight="normal" text-anchor="start" textLength="363.4" lengthAdjust="spacingAndGlyphs" >purín al reactor, donde las</text>
<text x="678.6" y="1989.4" font-family="Liberation Sans, sans-serif" font-size="32.5" fill="#2a2378" font-weight="normal" text-anchor="start" textLength="388.0" lengthAdjust="spacingAndGlyphs" ><tspan font-weight="bold">comunidades microbianas</tspan></text>
<text x="678.6" y="2030.6" font-family="Liberation Sans, sans-serif" font-size="32.5" fill="#2a2378" font-weight="normal" text-anchor="start" textLength="497.2" lengthAdjust="spacingAndGlyphs" >transforman la materia orgánica en</text>
<text x="678.6" y="2071.8" font-family="Liberation Sans, sans-serif" font-size="32.5" fill="#2a2378" font-weight="normal" text-anchor="start" textLength="507.4" lengthAdjust="spacingAndGlyphs" >biogás y en un efluente estabilizado</text>
<text x="678.6" y="2113.0" font-family="Liberation Sans, sans-serif" font-size="32.5" fill="#2a2378" font-weight="normal" text-anchor="start" textLength="423.4" lengthAdjust="spacingAndGlyphs" >llamado digestato. Ambos son</text>
<text x="678.6" y="2154.4" font-family="Liberation Sans, sans-serif" font-size="32.5" fill="#2a2378" font-weight="normal" text-anchor="start" textLength="504.1" lengthAdjust="spacingAndGlyphs" >evacuados por separado a través de</text>
<text x="678.6" y="2195.6" font-family="Liberation Sans, sans-serif" font-size="32.5" fill="#2a2378" font-weight="normal" text-anchor="start" textLength="344.4" lengthAdjust="spacingAndGlyphs" >dos conductos de salida.</text>
<g clip-path="url(#h3)">
<polygon points="2520.8,1761.5 2724.5,1830.2 2768.0,2060.0 2591.8,2213.4 2415.5,2151.6" fill="#0d8f3a" />
<polygon points="2520.8,1761.5 2724.5,1830.2 2768.0,2060.0 2591.8,2213.4" fill="#55a055" />
<polygon points="2536.8,1881.5 2399.5,2018.8 2399.5,2165.3 2536.8,2202.0 2674.2,2082.9 2665.0,1908.9" fill="#086835" />
</g>
<path d="M2741.9,1840.3 L2781.8,2069.2 L2623.8,2211.1" fill="none" stroke="#f39208" stroke-width="9" stroke-dasharray="20 14"/>
<g transform="translate(1850,1680) scale(0.45788)">
<path d="M1515,470 Q1505,440 1535,440 Q1560,420 1590,432 Q1620,415 1655,430 Q1690,418 1715,435 Q1750,430 1765,455 Q1775,470 1770,490 Q1790,480 1797,495 Q1790,520 1768,515 Q1760,600 1778,700 Q1795,800 1770,850 Q1775,880 1790,892 Q1740,910 1700,895 Q1620,915 1550,895 Q1500,910 1462,895 Q1480,870 1478,840 Q1455,760 1475,680 Q1500,600 1500,515 Q1480,515 1478,490 Q1485,470 1515,470 Z" fill="#f39208" />
<path d="M1512,478 Q1640,505 1770,490" fill="none" stroke="#086835" stroke-width="8" stroke-linecap="round"/>
<circle cx="1620.0" cy="695.0" r="97.0" fill="#086835" />
<path d="M1555,660 Q1590,650 1612,690 Q1570,705 1555,660 Z M1690,690 Q1650,670 1628,705 Q1665,725 1690,690 Z M1650,625 Q1610,640 1615,685 Q1655,670 1650,625 Z" fill="#f39208" />
<path d="M1618,690 L1620,745" fill="none" stroke="#f39208" stroke-width="7"/>
<path d="M1565,760 Q1580,735 1605,742 Q1620,725 1640,740 Q1665,735 1678,760 Q1620,790 1565,760 Z" fill="#f39208" />
</g>
<polygon points="2519.8,1759.4 2530.8,1770.4 2426.5,2162.6 1935.4,2197.2 1932.4,2188.9 2415.5,2151.6" fill="#706f6f" />
<path d="M1934.7,1735.4 L2520.8,1755.5 L2415.5,2151.6 L1932.4,2188.9 Q1857.6,2194.7 1870.0,2120.7 Z" fill="#f1f2ea" />
<text x="1992.0" y="1802.7" font-family="Liberation Sans, sans-serif" font-size="69.0" fill="#0d8f3a" font-weight="normal" text-anchor="start" textLength="293.0" lengthAdjust="spacingAndGlyphs" stroke="#f1f2ea" stroke-width="1.8">Digestato</text>
<text x="1974.5" y="1844.8" font-family="Liberation Sans, sans-serif" font-size="32.5" fill="#2a2378" font-weight="normal" text-anchor="start" textLength="500.5" lengthAdjust="spacingAndGlyphs" >Es el efluente obtenido después del</text>
<text x="2001.0" y="1886.0" font-family="Liberation Sans, sans-serif" font-size="32.5" fill="#2a2378" font-weight="normal" text-anchor="start" textLength="462.6" lengthAdjust="spacingAndGlyphs" >proceso de digestión anaeróbica.</text>
<text x="1964.5" y="1927.3" font-family="Liberation Sans, sans-serif" font-size="32.5" fill="#2a2378" font-weight="normal" text-anchor="start" textLength="486.2" lengthAdjust="spacingAndGlyphs" >Puede ser un <tspan font-weight="bold">abono orgánico</tspan> para</text>
<text x="2032.2" y="1968.5" font-family="Liberation Sans, sans-serif" font-size="32.5" fill="#2a2378" font-weight="normal" text-anchor="start" textLength="406.2" lengthAdjust="spacingAndGlyphs" >suelos degradados o cultivos</text>
<text x="2051.5" y="2009.7" font-family="Liberation Sans, sans-serif" font-size="32.5" fill="#2a2378" font-weight="normal" text-anchor="start" textLength="374.5" lengthAdjust="spacingAndGlyphs" >forrajeros, ya que contiene</text>
<text x="1924.2" y="2050.9" font-family="Liberation Sans, sans-serif" font-size="32.5" fill="#2a2378" font-weight="normal" text-anchor="start" textLength="489.0" lengthAdjust="spacingAndGlyphs" >nutrientes como nitrógeno, fósforo</text>
<text x="2009.3" y="2092.0" font-family="Liberation Sans, sans-serif" font-size="32.5" fill="#2a2378" font-weight="normal" text-anchor="start" textLength="391.5" lengthAdjust="spacingAndGlyphs" >y potasio. Además, presenta</text>
<text x="1917.8" y="2133.3" font-family="Liberation Sans, sans-serif" font-size="32.5" fill="#2a2378" font-weight="normal" text-anchor="start" textLength="471.6" lengthAdjust="spacingAndGlyphs" ><tspan font-weight="bold">menor olor</tspan> que el purín del pozo.</text>
<g opacity="0.13">
<circle cx="2790.0" cy="1070.0" r="42.0" fill="#5aa7e0" />
<circle cx="2770.0" cy="1015.0" r="16.0" fill="#7cc36a" />
<circle cx="2735.0" cy="1085.0" r="14.0" fill="#7cc36a" />
<circle cx="2815.0" cy="1110.0" r="15.0" fill="#7cc36a" />
<circle cx="3060.0" cy="965.0" r="45.0" fill="#6b7f8f" />
<circle cx="3105.0" cy="975.0" r="32.0" fill="#8ec5ea" />
<circle cx="3150.0" cy="1270.0" r="18.0" fill="#8ec5ea" />
<circle cx="3120.0" cy="1320.0" r="16.0" fill="#8ec5ea" />
<circle cx="3090.0" cy="1080.0" r="22.0" fill="#5aa7e0" />
<circle cx="3070.0" cy="1085.0" r="9.0" fill="#7cc36a" />
<circle cx="3115.0" cy="1070.0" r="9.0" fill="#7cc36a" />
<circle cx="3110.0" cy="1130.0" r="10.0" fill="#7cc36a" />
</g>
<polygon points="3060.0,1164.7 3070.0,1174.7 3070.0,1532.9 2542.4,1584.9 2539.4,1577.4 3060.0,1522.9" fill="#706f6f" />
<path d="M2490.0,1119.0 L3060.0,1134.7 L3060.0,1522.9 L2539.4,1577.4 Q2469.8,1584.7 2472.8,1514.8 Z" fill="#f1f2ea" />
<circle cx="2902.7" cy="1092.0" r="25.8" fill="url(#gsph)" />
<circle cx="3064.0" cy="1158.0" r="27.8" fill="url(#gsph)" />
<circle cx="2984.7" cy="1124.4" r="81.3" fill="url(#bsph)" />
<circle cx="3025.6" cy="1052.3" r="31.7" fill="url(#gsph)" />
<circle cx="2951.0" cy="1193.8" r="31.7" fill="url(#gsph)" />
<text x="2941.0" y="1094.0" font-family="Liberation Sans, sans-serif" font-size="25.0" fill="#1d71b8" font-weight="bold" text-anchor="start" textLength="32.0" lengthAdjust="spacingAndGlyphs" transform="rotate(15 2941 1094)">CH</text>
<text x="2975.0" y="1108.0" font-family="Liberation Sans, sans-serif" font-size="15.0" fill="#1d71b8" font-weight="bold" text-anchor="start" transform="rotate(15 2975 1108)">4</text>
<text x="2841" y="1047" font-family="Liberation Sans, sans-serif" font-size="22" fill="#fff" font-weight="bold" textLength="154" lengthAdjust="spacingAndGlyphs" transform="rotate(-11.8 2841 1047)">Metano (CH<tspan font-size="15" dy="4">4</tspan><tspan dy="-4">)</tspan></text>
<text x="2536.8" y="1199.0" font-family="Liberation Sans, sans-serif" font-size="69.0" fill="#0d8f3a" font-weight="normal" text-anchor="start" textLength="335.0" lengthAdjust="spacingAndGlyphs" stroke="#f1f2ea" stroke-width="1.8">Gasómetro</text>
<text x="2583.0" y="1259.2" font-family="Liberation Sans, sans-serif" font-size="32.5" fill="#2a2378" font-weight="normal" text-anchor="start" textLength="444.2" lengthAdjust="spacingAndGlyphs" >Es la estructura  que almacena el</text>
<text x="2664.8" y="1298.9" font-family="Liberation Sans, sans-serif" font-size="32.5" fill="#2a2378" font-weight="normal" text-anchor="start" textLength="362.4" lengthAdjust="spacingAndGlyphs" >biogás hasta que se utilice.</text>
<text x="2601.0" y="1337.7" font-family="Liberation Sans, sans-serif" font-size="32.5" fill="#2a2378" font-weight="normal" text-anchor="start" textLength="426.2" lengthAdjust="spacingAndGlyphs" >Este último es un bioenergético</text>
<text x="2612.9" y="1377.4" font-family="Liberation Sans, sans-serif" font-size="32.5" fill="#2a2378" font-weight="normal" text-anchor="start" textLength="414.3" lengthAdjust="spacingAndGlyphs" >compuesto principalmente por</text>
<text x="2517.7" y="1417.0" font-family="Liberation Sans, sans-serif" font-size="32.5" fill="#2a2378" font-weight="normal" text-anchor="start" textLength="509.5" lengthAdjust="spacingAndGlyphs" ><tspan font-weight="bold">metano</tspan> (CH<tspan font-size="21" dy="7">4</tspan><tspan dy="-7">, entre un 50-70% vol.) y</tspan></text>
<text x="2603.0" y="1456.6" font-family="Liberation Sans, sans-serif" font-size="32.5" fill="#2a2378" font-weight="normal" text-anchor="start" textLength="424.2" lengthAdjust="spacingAndGlyphs" ><tspan font-weight="bold">dióxido de carbono</tspan> (CO<tspan font-size="21" dy="7">2</tspan><tspan dy="-7">, entre</tspan></text>
<text x="2599.0" y="1496.3" font-family="Liberation Sans, sans-serif" font-size="32.5" fill="#2a2378" font-weight="normal" text-anchor="start" textLength="428.2" lengthAdjust="spacingAndGlyphs" >30-50% vol.), entre otros gases.</text>
<circle cx="2515.8" cy="1532.0" r="14.7" fill="#d9d9d9" />
<circle cx="2515.8" cy="1532.0" r="8.0" fill="#e94e1b" />
<circle cx="1451.0" cy="1586.6" r="6.7" fill="#e94e1b" />
<circle cx="1451.0" cy="1626.9" r="6.7" fill="#e94e1b" />
<circle cx="1451.0" cy="1667.2" r="6.7" fill="#e94e1b" />
<circle cx="1451.0" cy="1707.5" r="6.7" fill="#e94e1b" />
<circle cx="1451.0" cy="1747.8" r="6.7" fill="#e94e1b" />
<circle cx="1451.0" cy="1788.1" r="6.7" fill="#e94e1b" />
<circle cx="1451.0" cy="1828.4" r="6.7" fill="#e94e1b" />
<circle cx="1451.0" cy="1868.7" r="6.7" fill="#e94e1b" />
<circle cx="1451.0" cy="1909.0" r="6.7" fill="#e94e1b" />
<circle cx="1451.0" cy="1949.3" r="6.7" fill="#e94e1b" />
<circle cx="1451.0" cy="1989.6" r="6.7" fill="#e94e1b" />
<circle cx="1451.0" cy="2029.9" r="6.7" fill="#e94e1b" />
<circle cx="1451.0" cy="2070.2" r="6.7" fill="#e94e1b" />
<circle cx="1451.0" cy="2110.5" r="6.7" fill="#e94e1b" />
<circle cx="1451.0" cy="2150.8" r="6.7" fill="#e94e1b" />
<circle cx="1451.0" cy="2211.0" r="6.7" fill="#e94e1b" />
<circle cx="1233.0" cy="2211.0" r="6.7" fill="#e94e1b" />
<circle cx="1264.0" cy="2211.0" r="6.7" fill="#e94e1b" />
<circle cx="1296.0" cy="2211.0" r="6.7" fill="#e94e1b" />
<circle cx="1327.0" cy="2211.0" r="6.7" fill="#e94e1b" />
<circle cx="1358.5" cy="2211.0" r="6.7" fill="#e94e1b" />
<circle cx="1389.0" cy="2211.0" r="6.7" fill="#e94e1b" />
<circle cx="1420.0" cy="2211.0" r="6.7" fill="#e94e1b" />
<circle cx="1701.0" cy="1674.0" r="6.7" fill="#e94e1b" />
<circle cx="1701.0" cy="1714.4" r="6.7" fill="#e94e1b" />
<circle cx="1701.0" cy="1754.8" r="6.7" fill="#e94e1b" />
<circle cx="1701.0" cy="1795.2" r="6.7" fill="#e94e1b" />
<circle cx="1701.0" cy="1835.6" r="6.7" fill="#e94e1b" />
<circle cx="1701.0" cy="1876.0" r="6.7" fill="#e94e1b" />
<circle cx="1701.0" cy="1916.4" r="6.7" fill="#e94e1b" />
<circle cx="1701.0" cy="1956.8" r="6.7" fill="#e94e1b" />
<circle cx="1701.0" cy="1997.2" r="6.7" fill="#e94e1b" />
<circle cx="1701.0" cy="2037.6" r="6.7" fill="#e94e1b" />
<circle cx="1701.0" cy="2078.0" r="6.7" fill="#e94e1b" />
<circle cx="1701.0" cy="2118.4" r="6.7" fill="#e94e1b" />
<circle cx="1701.0" cy="2148.0" r="6.7" fill="#e94e1b" />
<circle cx="1732.0" cy="2148.4" r="6.7" fill="#e94e1b" />
<circle cx="1766.7" cy="2148.4" r="6.7" fill="#e94e1b" />
<circle cx="1799.5" cy="2148.4" r="6.7" fill="#e94e1b" />
<circle cx="1828.0" cy="2148.4" r="6.7" fill="#e94e1b" />
<circle cx="1859.0" cy="2148.4" r="6.7" fill="#e94e1b" />
<circle cx="2155.0" cy="1531.6" r="7.8" fill="#e94e1b" />
<circle cx="2199.5" cy="1531.6" r="7.8" fill="#e94e1b" />
<circle cx="2244.4" cy="1531.6" r="7.8" fill="#e94e1b" />
<circle cx="2289.8" cy="1531.6" r="7.8" fill="#e94e1b" />
<circle cx="2335.5" cy="1531.6" r="7.8" fill="#e94e1b" />
<circle cx="2381.0" cy="1531.6" r="7.8" fill="#e94e1b" />
<circle cx="2425.8" cy="1531.6" r="7.8" fill="#e94e1b" />
<circle cx="2471.4" cy="1531.6" r="7.8" fill="#e94e1b" />
<circle cx="1451.0" cy="1537.4" r="20.5" fill="#e3e3e3" />
<circle cx="1451.0" cy="1537.4" r="15.0" fill="#e94e1b" />
<circle cx="1701.5" cy="1636.5" r="21.0" fill="#e3e3e3" />
<circle cx="1701.5" cy="1636.5" r="14.7" fill="#e94e1b" />
<circle cx="2110.5" cy="1531.6" r="23.7" fill="#e3e3e3" />
<circle cx="2110.5" cy="1531.6" r="16.4" fill="#e94e1b" />
<circle cx="1200.4" cy="2211.5" r="13.5" fill="#d9d9d9" />
<circle cx="1200.4" cy="2211.5" r="6.7" fill="#e94e1b" />
<circle cx="1890.3" cy="2148.4" r="12.5" fill="#d9d9d9" />
<circle cx="1890.3" cy="2148.4" r="6.7" fill="#e94e1b" />
<g transform="translate(1300,0) scale(0.36684)" fill="#f39208">
<line x1="455.0" y1="978.0" x2="600.0" y2="925.0" stroke="#f39208" stroke-width="68.0" stroke-linecap="round"/>
<line x1="445.0" y1="1085.0" x2="670.0" y2="1000.0" stroke="#f39208" stroke-width="68.0" stroke-linecap="round"/>
<line x1="445.0" y1="1182.0" x2="680.0" y2="1092.0" stroke="#f39208" stroke-width="68.0" stroke-linecap="round"/>
<path d="M455,1185 Q520,1200 520,1280" fill="none" stroke="#f39208" stroke-width="55" stroke-linecap="round"/>
<path d="M655,1170 Q610,1190 605,1280" fill="none" stroke="#f39208" stroke-width="50" stroke-linecap="round"/>
<rect x="450.0" y="1275.0" width="210.0" height="128.0" fill="#f39208" rx="22"/>
<path d="M495,1395 L620,1395 L620,1470 Q620,1505 585,1508 L530,1508 Q495,1505 495,1470 Z" fill="#f39208" />
<path d="M388.0,740.0 Q401.7,796.0 432.0,845.0 Q418.3,789.0 388.0,740.0 Z" fill="#f39208" />
<path d="M728.0,742.0 Q686.7,784.8 660.0,838.0 Q701.3,795.2 728.0,742.0 Z" fill="#f39208" />
<path d="M218.0,918.0 Q270.7,948.4 330.0,962.0 Q277.3,931.6 218.0,918.0 Z" fill="#f39208" />
<path d="M190.0,1140.0 Q250.7,1144.0 310.0,1130.0 Q249.3,1126.0 190.0,1140.0 Z" fill="#f39208" />
<path d="M785.0,960.0 Q844.4,956.3 900.0,935.0 Q840.6,938.7 785.0,960.0 Z" fill="#f39208" />
<path d="M785.0,1120.0 Q840.2,1143.7 900.0,1150.0 Q844.8,1126.3 785.0,1120.0 Z" fill="#f39208" />
<path d="M1200,640 Q1205,565 1290,560 L1520,560 Q1595,565 1600,640 L1600,800 Q1595,880 1510,885 L1280,885 Q1195,880 1187,800 Z" fill="#f39208" />
<rect x="1275.0" y="505.0" width="233.0" height="36.0" fill="#f39208" />
<path d="M1375,505 L1375,470 Q1375,450 1393,450 Q1412,450 1412,470 L1412,505 Z" fill="#f39208" />
<polygon points="1182.0,602.0 1120.0,570.0 1085.0,625.0 1165.0,687.0" fill="#f39208" />
<path d="M1580,562 Q1722,575 1716,690 Q1706,790 1622,816 L1626,776 Q1680,742 1678,682 Q1672,612 1598,600 Z" fill="#f39208" />
<path d="M1040,418 Q1030,450 1052,470 Q1075,492 1055,515" fill="none" stroke="#f39208" stroke-width="7" stroke-linecap="round"/>
<path d="M1095,490 Q1075,520 1085,545 Q1098,570 1085,590" fill="none" stroke="#f39208" stroke-width="7" stroke-linecap="round"/>
<path d="M1035,545 Q1030,565 1050,575 Q1068,582 1065,598" fill="none" stroke="#f39208" stroke-width="7" stroke-linecap="round"/>
<path d="M1302,958 Q1300,940 1318,912 Q1336,940 1334,958 Z" fill="#f39208" />
<path d="M1312,958 Q1311,946 1318,935 Q1325,946 1324,958 Z" fill="#086835" />
<path d="M1342,958 Q1340,940 1358,912 Q1376,940 1374,958 Z" fill="#f39208" />
<path d="M1352,958 Q1351,946 1358,935 Q1365,946 1364,958 Z" fill="#086835" />
<path d="M1382,958 Q1380,940 1398,912 Q1416,940 1414,958 Z" fill="#f39208" />
<path d="M1392,958 Q1391,946 1398,935 Q1405,946 1404,958 Z" fill="#086835" />
<path d="M1422,958 Q1420,940 1438,912 Q1456,940 1454,958 Z" fill="#f39208" />
<path d="M1432,958 Q1431,946 1438,935 Q1445,946 1444,958 Z" fill="#086835" />
<path d="M1462,958 Q1460,940 1478,912 Q1496,940 1494,958 Z" fill="#f39208" />
<path d="M1472,958 Q1471,946 1478,935 Q1485,946 1484,958 Z" fill="#086835" />
<path d="M1210,950 Q1395,1000 1578,950 Q1395,985 1210,950 Z" fill="#f39208" stroke="#f39208" stroke-width="3"/>
</g>
<text x="118.0" y="2376.0" font-family="Liberation Sans, sans-serif" font-size="57.0" fill="#575756" font-weight="bold" text-anchor="start" textLength="452.0" lengthAdjust="spacingAndGlyphs" >más información en</text>
<text x="594.0" y="2372.7" font-family="Liberation Sans, sans-serif" font-size="86.0" fill="#575756" font-weight="bold" text-anchor="start" textLength="882.6" lengthAdjust="spacingAndGlyphs" stroke="#575756" stroke-width="2.4">www.explora.cl/lagos</text>
<text x="118" y="2420.7" font-family="Liberation Sans, sans-serif" font-size="24.5" fill="#3c3c3b" textLength="1372" lengthAdjust="spacingAndGlyphs">Asesor científico <tspan font-weight="bold">Magister en Ciencias Josué Lagos, Instituto de Investigaciones Agropecuarias (INIA-Remehue)</tspan></text>
<text x="1603.3" y="2382.2" font-family="Liberation Sans, sans-serif" font-size="54.0" fill="#2fa8e0" font-weight="bold" text-anchor="start" textLength="302.0" lengthAdjust="spacingAndGlyphs" stroke="#2fa8e0" stroke-width="1">PAR EXPLORA</text>
<text x="1603.3" y="2413.0" font-family="Liberation Sans, sans-serif" font-size="32.0" fill="#2fa8e0" font-weight="bold" text-anchor="start" textLength="299.6" lengthAdjust="spacingAndGlyphs" >Región de Los Lagos</text>
<rect x="1987.7" y="2273.8" width="65.2" height="144.6" fill="#0f69b4" />
<rect x="2052.9" y="2273.8" width="93.5" height="144.6" fill="#e8303c" />
<text x="2059.9" y="2296.5" font-family="Liberation Sans, sans-serif" font-size="12.0" fill="#fff" font-weight="bold" text-anchor="start" textLength="45.0" lengthAdjust="spacingAndGlyphs" >CONICYT</text>
<text x="2059.9" y="2308.0" font-family="Liberation Sans, sans-serif" font-size="7.6" fill="#fff" font-weight="bold" text-anchor="start" textLength="80.0" lengthAdjust="spacingAndGlyphs" >Ministerio de Educación</text>
<text x="2059.9" y="2411.0" font-family="Liberation Sans, sans-serif" font-size="10.5" fill="#fff" font-weight="bold" text-anchor="start" textLength="79.0" lengthAdjust="spacingAndGlyphs" >Gobierno de Chile</text>
<g fill="#fff">
<path d="M2012,2290 Q2020,2282 2028,2290 L2028,2304 Q2020,2314 2012,2304 Z" fill="#fff" />
<ellipse cx="2020.0" cy="2287.0" rx="5.0" ry="4.0" fill="#fff" />
<ellipse cx="2014.0" cy="2285.0" rx="3.0" ry="3.0" fill="#fff" />
<ellipse cx="2026.0" cy="2285.0" rx="3.0" ry="3.0" fill="#fff" />
<path d="M2010,2296 Q2000,2288 2002,2300 Q1998,2308 2008,2310 Z" fill="#fff" />
<path d="M2030,2296 Q2042,2286 2040,2300 Q2044,2308 2032,2310 Z" fill="#fff" />
<path d="M1998,2312 Q2020,2322 2044,2312 L2044,2316 Q2020,2326 1998,2316 Z" fill="#fff" />
</g>
<circle cx="2020.0" cy="2297.0" r="3.0" fill="#0f69b4" />
<text x="2161.6" y="2389.2" font-family="Liberation Sans, sans-serif" font-size="47" font-weight="bold" textLength="130.7" lengthAdjust="spacingAndGlyphs"><tspan fill="#5a4fa0">e</tspan><tspan fill="#e6332a">x</tspan><tspan fill="#e6332a">p</tspan><tspan fill="#f7a600">l</tspan><tspan fill="#95c11f">o</tspan><tspan fill="#3aa0d8">r</tspan><tspan fill="#3aa0d8">a</tspan></text>
<path d="M2176,2362 Q2188,2350 2202,2360 Q2189,2356 2176,2362 Z" fill="#5a4fa0" stroke="#5a4fa0" stroke-width="2.5"/>
<circle cx="2189.0" cy="2361.5" r="3.2" fill="#5a4fa0" />
<text x="2161.6" y="2409.0" font-family="Liberation Sans, sans-serif" font-size="13.0" fill="#1d1d1b" font-weight="normal" text-anchor="start" textLength="129.8" lengthAdjust="spacingAndGlyphs" >Un Programa CONICYT</text>
<path d="M2467.5,2305 Q2495,2309 2522,2303 L2522,2315 Q2495,2320 2467.5,2316 Z" fill="#e30613" />
<path d="M2467.5,2336 Q2478,2330 2490,2336 Q2502,2342 2522,2334 L2522,2345 Q2502,2353 2490,2347 Q2478,2341 2467.5,2348 Z" fill="#1a9a8a" />
<rect x="2467.5" y="2360.3" width="54.5" height="9.5" fill="#d4a72c" />
<text x="2348" y="2409.8" font-family="Liberation Serif, serif" font-size="30" fill="#000" stroke="#000" stroke-width="0.5" textLength="293.4" lengthAdjust="spacingAndGlyphs"><tspan font-size="39">U</tspan><tspan font-size="30">NIVERSIDAD</tspan> <tspan font-size="39">D</tspan><tspan font-size="30">E</tspan> <tspan font-size="39">L</tspan><tspan font-size="30">OS</tspan> <tspan font-size="39">L</tspan><tspan font-size="30">AGOS</tspan></text>
<path d="M2688,2352 L2702,2323 Q2705,2320 2708,2323 L2716,2340 L2708,2352 L2704,2336 L2697,2352 Z" fill="#1d71b8" />
<path d="M2708,2352 L2724,2328 L2732,2328 L2720,2352 Z" fill="#3aaa35" />
<path d="M2716,2340 L2724,2328 L2714,2334 Z" fill="#57b9e6" />
<text x="2727.0" y="2351.3" font-family="Liberation Sans, sans-serif" font-size="17.0" fill="#3c3c3b" font-weight="normal" text-anchor="start" textLength="34.5" lengthAdjust="spacingAndGlyphs" >Chile</text>
<text x="2724.3" y="2364.4" font-family="Liberation Serif, sans-serif" font-size="9.6" fill="#1d1d1b" font-weight="normal" text-anchor="middle" textLength="75.0" lengthAdjust="spacingAndGlyphs" >Comisión Nacional</text>
<text x="2724.3" y="2374.0" font-family="Liberation Serif, sans-serif" font-size="9.6" fill="#1d1d1b" font-weight="normal" text-anchor="middle" textLength="63.0" lengthAdjust="spacingAndGlyphs" >de Acreditación</text>
<rect x="2772.2" y="2320.4" width="0.8" height="72.0" fill="#bdbdbd" />
<text x="2778.2" y="2331.5" font-family="Liberation Sans, sans-serif" font-size="14.0" fill="#1b5faa" font-weight="bold" text-anchor="start" textLength="127.0" lengthAdjust="spacingAndGlyphs" >ACREDITADA 3 AÑOS</text>
<text x="2778.2" y="2347.0" font-family="Liberation Sans, sans-serif" font-size="10.5" fill="#1d1d1b" font-weight="normal" text-anchor="start" textLength="127.0" lengthAdjust="spacingAndGlyphs" >Diciembre 2013 - Diciembre 2016</text>
<text x="2778.2" y="2363.6" font-family="Liberation Sans, sans-serif" font-size="10.5" fill="#575756" font-weight="normal" text-anchor="start" textLength="78.3" lengthAdjust="spacingAndGlyphs" >Gestión Institucional</text>
<text x="2778.2" y="2376.8" font-family="Liberation Sans, sans-serif" font-size="10.5" fill="#575756" font-weight="normal" text-anchor="start" textLength="83.7" lengthAdjust="spacingAndGlyphs" >Docencia de Pregrado</text>
<text x="2778.2" y="2389.2" font-family="Liberation Sans, sans-serif" font-size="10.5" fill="#575756" font-weight="normal" text-anchor="start" textLength="96.0" lengthAdjust="spacingAndGlyphs" >Vinculación con el Medio</text>
<rect x="2946.4" y="2287.4" width="82.4" height="82.4" fill="#8cb82b" />
<g clip-path="url(#inia)">
<path d="M2960,2287 Q2962,2310 2990,2318 Q3012,2326 3008,2345 Q3004,2362 2975,2371 L2946,2371 L2946,2366 Q2990,2358 2994,2342 Q2996,2330 2972,2322 Q2946,2312 2948,2287 Z" fill="#fff" />
<path d="M3028,2290 Q2990,2300 2966,2318 Q2952,2332 2968,2342 Q2990,2350 3008,2348 Q3014,2362 3000,2372 L2960,2372 Q2992,2360 2990,2352 Q2960,2352 2952,2338 Q2946,2318 2980,2302 Q3000,2292 3020,2287 Z" fill="#1a9a7a" />
<path d="M2946,2371 L3010,2345 L3010,2371 Z" fill="#b8d67a" />
</g>
<text x="2946.4" y="2411.0" font-family="Liberation Sans, sans-serif" font-size="41.0" fill="#1a9a7a" font-weight="bold" text-anchor="start" textLength="80.0" lengthAdjust="spacingAndGlyphs" stroke="#1a9a7a" stroke-width="1.2">INIA</text>
<path d="M3022,2400 L3016,2408 L3021,2408 L3017,2414" fill="none" stroke="#8cb82b" stroke-width="2.5"/>
<text x="3041.0" y="2361.6" font-family="Liberation Sans, sans-serif" font-size="100.0" fill="#9d9d9c" font-weight="normal" text-anchor="start" textLength="52.0" lengthAdjust="spacingAndGlyphs" >5</text>
<circle cx="3110.4" cy="2328.6" r="30.0" fill="none" stroke="#8cb82b" stroke-width="6.5"/>
<path d="M3086,2331 L3100,2331" fill="none" stroke="#9d9d9c" stroke-width="3"/>
<text x="3044.4" y="2390.4" font-family="Liberation Sans, sans-serif" font-size="18" textLength="99" lengthAdjust="spacingAndGlyphs"><tspan fill="#9d9d9c">AÑOS</tspan><tspan fill="#8cb82b">INIA</tspan></text>
<text x="3044.4" y="2411" font-family="Liberation Sans, sans-serif" font-size="23" fill="#9d9d9c" textLength="99" lengthAdjust="spacingAndGlyphs">1964-<tspan font-weight="bold" fill="#878787">2014</tspan></text>
<g transform="translate(1000,700) scale(0.11837)">
<path d="M1160,342 L1350,352 L1275,1225 L1465,1240 L1450,1420 L820,1368 L838,1185 L1035,1200 L1083,638 Q960,690 840,700 L825,512 Q1010,480 1160,342 Z" fill="#086835" fill-rule="evenodd" transform="translate(85.0,68.0)"/>
<path d="M1160,342 L1350,352 L1275,1225 L1465,1240 L1450,1420 L820,1368 L838,1185 L1035,1200 L1083,638 Q960,690 840,700 L825,512 Q1010,480 1160,342 Z" fill="#3aaa35" fill-rule="evenodd"/>
</g>
<g transform="translate(1150,1720) scale(0.11837)">
<path d="M240,345 Q430,255 620,265 Q860,290 865,520 Q860,720 650,880 L530,1020 L900,992 L905,1160 L295,1195 L285,1045 Q520,840 600,720 Q670,600 630,500 Q580,420 440,440 Q370,455 300,490 Z" fill="#086835" fill-rule="evenodd" transform="translate(140.0,-40.0)"/>
<path d="M240,345 Q430,255 620,265 Q860,290 865,520 Q860,720 650,880 L530,1020 L900,992 L905,1160 L295,1195 L285,1045 Q520,840 600,720 Q670,600 630,500 Q580,420 440,440 Q370,455 300,490 Z" fill="#3aaa35" fill-rule="evenodd"/>
</g>
<g transform="translate(1850,1680) scale(0.11837)">
<path d="M475,195 Q650,150 820,165 Q1100,190 1115,420 Q1110,590 900,690 Q1090,760 1085,940 Q1070,1200 780,1232 Q560,1245 365,1115 L440,950 Q590,1030 730,1030 Q850,1020 845,930 Q840,800 620,790 L640,600 Q860,600 860,470 Q860,350 700,352 Q600,352 510,390 Z" fill="#086835" fill-rule="evenodd" transform="translate(-65.0,60.0)"/>
<path d="M475,195 Q650,150 820,165 Q1100,190 1115,420 Q1110,590 900,690 Q1090,760 1085,940 Q1070,1200 780,1232 Q560,1245 365,1115 L440,950 Q590,1030 730,1030 Q850,1020 845,930 Q840,800 620,790 L640,600 Q860,600 860,470 Q860,350 700,352 Q600,352 510,390 Z" fill="#3aaa35" fill-rule="evenodd"/>
</g>
<g transform="translate(2400,1080) scale(0.11837)">
<path d="M740,298 L945,312 L925,828 L1005,835 L995,980 L915,975 L895,1165 L690,1160 L715,965 L355,945 L360,830 Z M715,560 L540,800 L715,808 Z" fill="#086835" fill-rule="evenodd" transform="translate(-85.0,45.0)"/>
<path d="M740,298 L945,312 L925,828 L1005,835 L995,980 L915,975 L895,1165 L690,1160 L715,965 L355,945 L360,830 Z M715,560 L540,800 L715,808 Z" fill="#3aaa35" fill-rule="evenodd"/>
</g>
<g transform="translate(3000,180) scale(0.11837)">
<path d="M720,375 L1290,410 L1265,590 L930,572 L900,760 Q1000,700 1110,712 Q1330,760 1330,1000 Q1300,1340 960,1362 Q790,1365 642,1268 L705,1105 Q830,1180 930,1182 Q1090,1170 1098,1020 Q1090,880 960,872 Q900,872 838,925 L685,862 Z" fill="#086835" fill-rule="evenodd" transform="translate(118.0,-38.0)"/>
<path d="M720,375 L1290,410 L1265,590 L930,572 L900,760 Q1000,700 1110,712 Q1330,760 1330,1000 Q1300,1340 960,1362 Q790,1365 642,1268 L705,1105 Q830,1180 930,1182 Q1090,1170 1098,1020 Q1090,880 960,872 Q900,872 838,925 L685,862 Z" fill="#3aaa35" fill-rule="evenodd"/>
</g>
</svg>
</body></html>
